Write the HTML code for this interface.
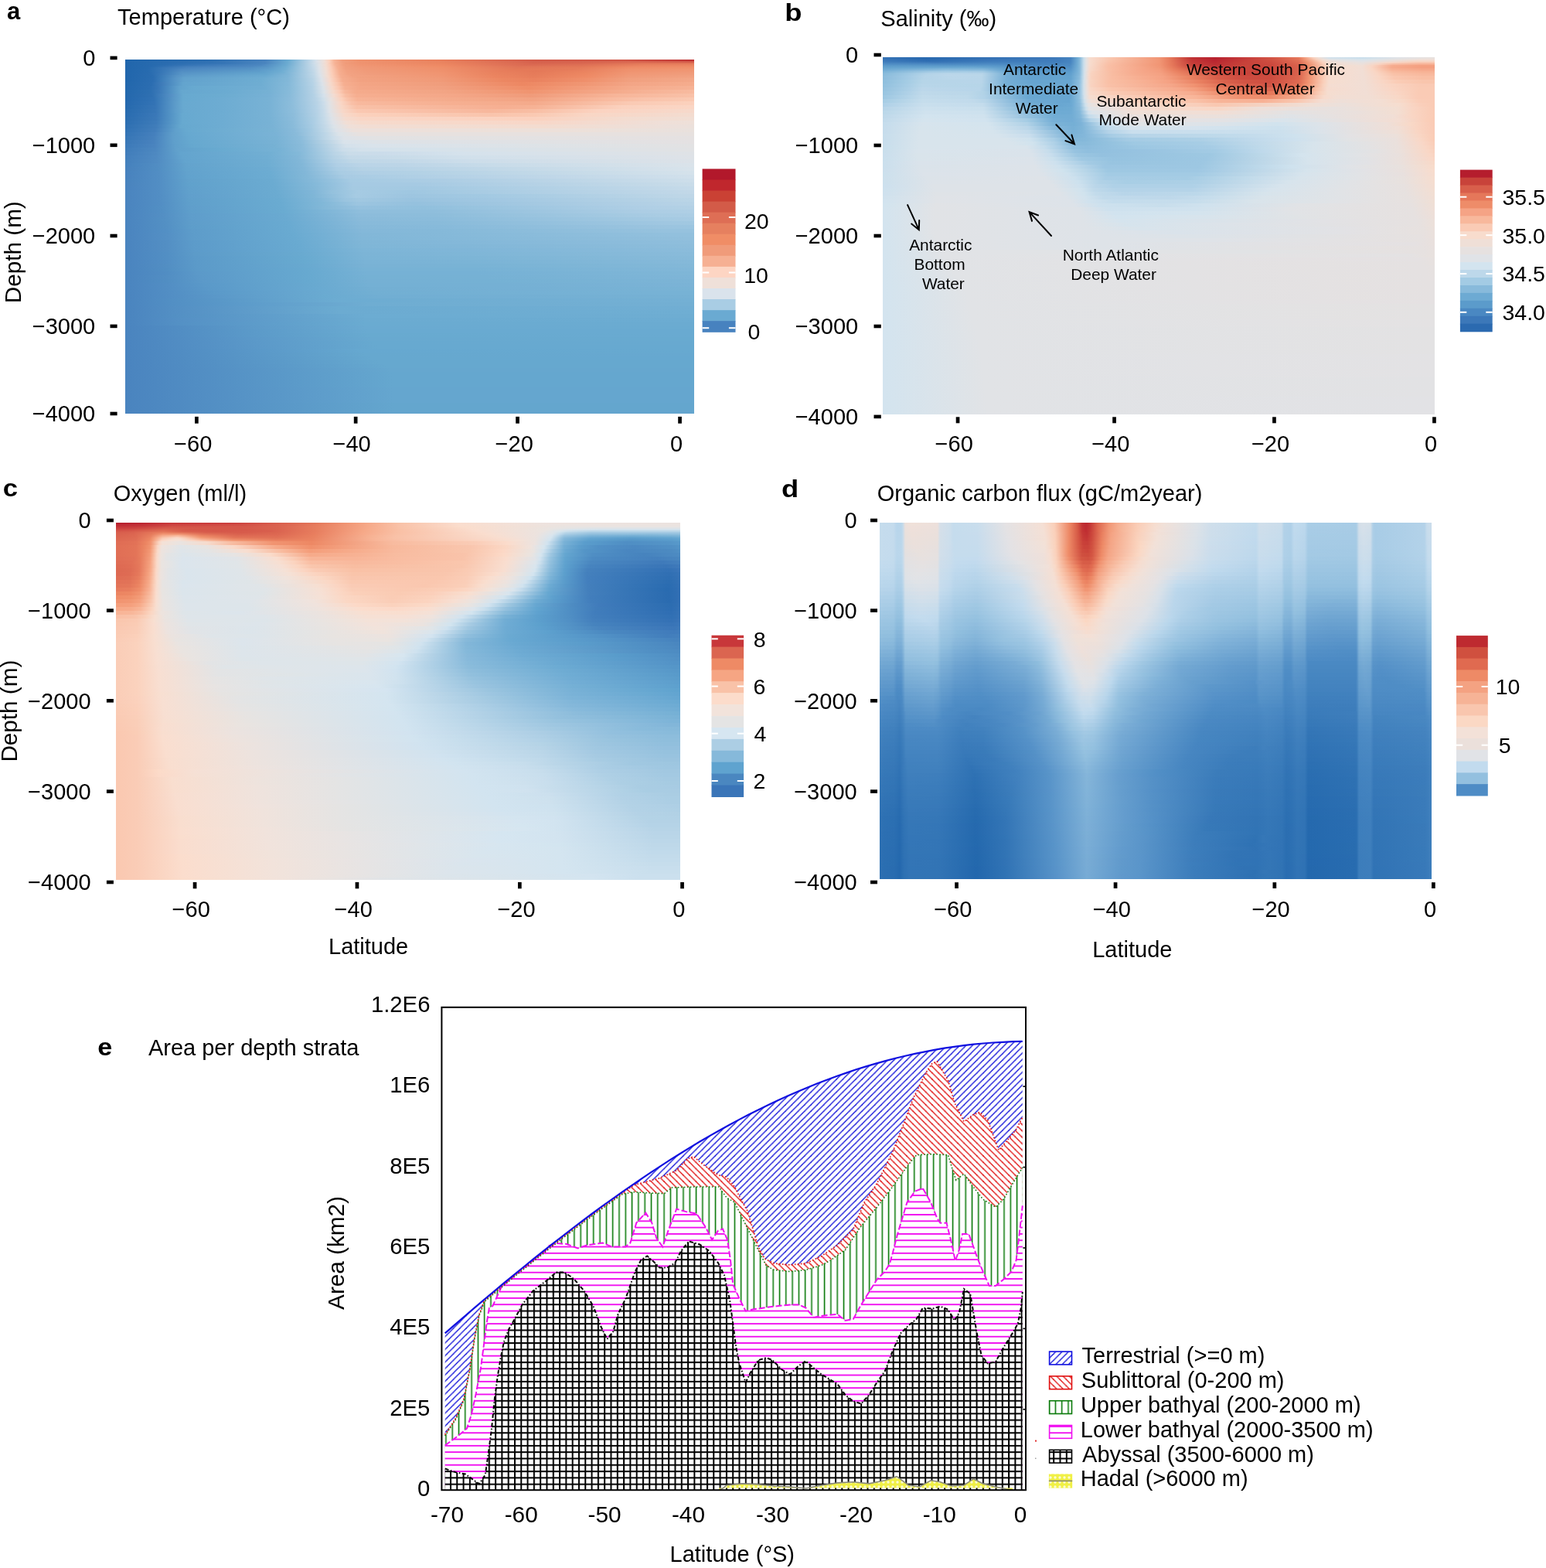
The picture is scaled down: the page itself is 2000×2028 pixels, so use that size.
<!DOCTYPE html>
<html><head><meta charset="utf-8"><title>Figure</title>
<style>
html,body{margin:0;padding:0;background:#fff}
body{width:2000px;height:2028px;position:relative;overflow:hidden;font-family:"Liberation Sans", Arial, Helvetica, sans-serif}
.hm{position:absolute}
.hm i{display:block;height:5px}
svg{position:absolute;left:0;top:0}
</style></head><body>
<div class="hm" style="left:162px;top:77px;width:736px;height:458px">
<i style="height:2px;background:linear-gradient(90deg,#2166ac 0,#2c6eb1 105px,#4782be 181px,#6aabd1 211px,#b7d3e6 237px,#d3e1eb 246px,#eddfd9 257px,#fbd1bd 264px,#f7b599 270px,#f19e7d 281px,#ef926e 303px,#e9805d 406px,#d35c4a 531px,#d15747 646px,#c03435 735px)"></i>
<i style="height:2px;background:linear-gradient(90deg,#2166ac 0,#2f70b2 113px,#4883be 181px,#69aad1 210px,#bcd5e7 239px,#dce2e9 249px,#f0ded6 258px,#fbd1bd 264px,#f7b599 270px,#f19e7d 281px,#ef936f 302px,#ea835f 407px,#d5604c 529px,#d6624d 600px,#d9654f 653px,#d25747 735px)"></i>
<i style="height:2px;background:linear-gradient(90deg,#2166ac 0,#3675b6 127px,#4a85bf 181px,#6cabd1 210px,#cfdeea 245px,#e3e1e2 253px,#f6d9cb 261px,#fac7b0 266px,#f6b092 272px,#f09b79 285px,#ef9370 305px,#eb8560 411px,#d8654f 529px,#da6851 591px,#e27658 670px,#e27557 735px)"></i>
<i style="height:2px;background:linear-gradient(90deg,#2166ac 0,#286baf 42px,#3675b6 87px,#4b86c0 175px,#6aaad1 208px,#c9dce9 244px,#dfe2e6 251px,#f1ddd3 259px,#fbceba 265px,#f7b599 271px,#f19f7e 282px,#f09572 304px,#ed8863 412px,#db6a52 518px,#de7055 591px,#e9825f 676px,#ea8360 735px)"></i>
<i style="height:2px;background:linear-gradient(90deg,#2166ac 0,#276aaf 33px,#407cba 78px,#4d88c1 162px,#5694c6 184px,#6eadd2 208px,#c8dbe9 244px,#dee2e7 251px,#f2dcd1 260px,#fbccb7 266px,#f6af91 274px,#f19e7d 285px,#f09775 307px,#ef8c66 410px,#df7256 509px,#e27657 590px,#ed8763 659px,#ee8b66 735px)"></i>
<i style="height:2px;background:linear-gradient(90deg,#2166ac 0,#266aae 29px,#3776b6 49px,#4984bf 79px,#528fc4 159px,#5c9ac9 185px,#6faed3 207px,#c6dae9 244px,#dde2e8 251px,#f2ddd3 260px,#fbceba 266px,#f6ae90 275px,#f19f7f 285px,#f09977 309px,#ef8f6a 409px,#e27657 507px,#e57b5a 588px,#ef8d68 653px,#ef916c 735px)"></i>
<i style="height:2px;background:linear-gradient(90deg,#2166ac 0,#276aaf 29px,#3474b5 45px,#4d88c1 73px,#5795c7 164px,#61a1cd 189px,#72afd3 207px,#c5d9e8 244px,#dce2e8 251px,#f1ddd4 260px,#fbccb6 267px,#f5ae8f 276px,#f1a080 286px,#f09a78 310px,#ef906c 410px,#e47958 504px,#e57b5a 578px,#ef916d 651px,#f09571 735px)"></i>
<i style="height:2px;background:linear-gradient(90deg,#2166ac 0,#276baf 30px,#3575b5 45px,#518dc3 73px,#5d9cca 173px,#6dacd2 201px,#88bbda 217px,#c3d9e8 244px,#dbe2e9 251px,#f0ded5 260px,#fbcdb8 267px,#f5ad8f 277px,#f2a181 287px,#f09b7a 312px,#ef926e 409px,#e87e5c 484px,#e47858 532px,#ea825f 593px,#ef9370 654px,#f09775 735px)"></i>
<i style="height:2px;background:linear-gradient(90deg,#2166ac 0,#286baf 31px,#3474b5 44px,#5592c5 73px,#61a2cd 179px,#74b0d4 205px,#bed6e7 243px,#dae2ea 251px,#f0ded6 260px,#fbcfba 267px,#f6ae90 277px,#f2a282 287px,#f09c7b 312px,#f09470 409px,#e9815e 478px,#e57a59 530px,#eb8560 594px,#f09673 654px,#f09a79 735px)"></i>
<i style="height:2px;background:linear-gradient(90deg,#2166ac 0,#296cb0 33px,#3a78b7 47px,#5997c8 75px,#66a7cf 182px,#7eb5d7 210px,#c1d8e8 244px,#dbe2e9 252px,#f1ddd3 261px,#fbccb7 268px,#f5ad8f 278px,#f2a383 288px,#f09d7d 314px,#f09572 409px,#ea835f 476px,#e67b5a 529px,#ed8762 595px,#f09876 654px,#f09d7c 735px)"></i>
<i style="height:2px;background:linear-gradient(90deg,#2166ac 0,#2a6cb0 35px,#5794c6 68px,#5d9cca 79px,#6aaad1 182px,#81b7d8 211px,#bfd7e7 244px,#dae3ea 252px,#f1ded4 261px,#fbceb9 268px,#f5ad8f 279px,#f2a282 293px,#f09673 410px,#eb8460 478px,#e67d5b 528px,#ee8964 596px,#f09a78 652px,#f1a080 735px)"></i>
<i style="height:2px;background:linear-gradient(90deg,#2166ac 0,#2a6db0 36px,#5794c6 66px,#60a0cc 76px,#6dacd2 179px,#81b7d8 210px,#bed6e7 244px,#dbe2e9 253px,#f4dbce 263px,#fbccb7 269px,#f5ac8e 280px,#f1a180 301px,#f09876 409px,#ec8561 479px,#e87e5c 528px,#ef8c67 598px,#f09c7b 651px,#f2a383 735px)"></i>
<i style="background:linear-gradient(90deg,#2166ac 0,#2b6db1 36px,#5795c7 65px,#62a2cd 76px,#6eadd2 176px,#83b8d8 211px,#b9d4e6 243px,#dce2e9 254px,#f7d8ca 265px,#fac7b0 272px,#f5ad8f 281px,#f2a282 303px,#f09a78 409px,#ec8762 489px,#ea825f 529px,#ef8f6b 594px,#f1a07f 652px,#f3a788 735px)"></i>
<i style="background:linear-gradient(90deg,#2267ac 0,#2b6db1 34px,#3e7bb9 47px,#63a4ce 75px,#6fadd2 176px,#84b9d9 211px,#b7d3e6 243px,#dbe2e9 255px,#f6d9ca 266px,#fac7b0 274px,#f6ae90 283px,#f3a585 305px,#f09d7c 410px,#ed8762 514px,#f09673 593px,#f3a586 655px,#f5ac8d 735px)"></i>
<i style="background:linear-gradient(90deg,#2367ad 0,#2b6db1 32px,#3675b6 42px,#61a2cd 70px,#67a9d0 87px,#71aed3 179px,#86bad9 212px,#b3d1e5 242px,#dae2e9 256px,#f7d8c9 268px,#fac7b0 276px,#f6b194 284px,#f4a788 303px,#f1a080 412px,#ef8d68 522px,#f5ab8c 657px,#f6b295 735px)"></i>
<i style="background:linear-gradient(90deg,#2368ad 0,#2d6fb1 33px,#3b79b8 44px,#66a7cf 73px,#6babd1 131px,#76b1d4 186px,#88bbda 213px,#b4d1e5 243px,#dae2e9 257px,#f5dacc 269px,#fbcbb6 277px,#f7b89d 284px,#f5ab8c 298px,#f2a484 415px,#f09470 524px,#f6b295 672px,#f8ba9f 735px)"></i>
<i style="background:linear-gradient(90deg,#2468ad 0,#2f70b2 35px,#5490c5 59px,#67a9d0 75px,#6cacd1 128px,#77b1d5 186px,#89bbda 213px,#b4d1e5 244px,#d5e1eb 257px,#f3dcd1 270px,#fbcdb8 279px,#f8bea4 285px,#f6ae90 299px,#f4a788 421px,#f09b7a 525px,#f7b599 636px,#f9c1a8 735px)"></i>
<i style="background:linear-gradient(90deg,#2468ae 0,#3172b4 37px,#5896c7 62px,#67a9d0 75px,#6dacd2 124px,#78b2d5 186px,#8bbcdb 214px,#b8d3e6 247px,#d0dfea 257px,#e7e1df 266px,#fbd1bd 280px,#f9c2aa 287px,#f7b396 300px,#f4aa8b 434px,#f2a383 527px,#f8b99e 620px,#f9c2aa 669px,#fac9b2 735px)"></i>
<i style="background:linear-gradient(90deg,#2569ae 0,#3373b5 38px,#5a99c8 63px,#68a9d0 75px,#6dacd2 124px,#78b2d5 186px,#8cbddb 215px,#b8d3e6 248px,#ccddea 257px,#e0e2e5 264px,#f9d6c6 279px,#f9c0a7 293px,#f8b99e 302px,#f6af91 425px,#f4aa8b 528px,#facab4 654px,#fbd1bd 735px)"></i>
<i style="background:linear-gradient(90deg,#266aae 0,#3675b6 39px,#5d9cca 65px,#68a9d0 75px,#6dacd2 124px,#78b2d5 186px,#8dbddb 216px,#b5d2e6 247px,#cadce9 257px,#dee2e6 264px,#f8d7c7 280px,#f9c1a8 299px,#f6af92 486px,#f6b295 530px,#fbd1be 642px,#fad6c5 735px)"></i>
<i style="background:linear-gradient(90deg,#286baf 0,#3776b6 39px,#5e9ecb 66px,#68a9d0 76px,#6dacd2 125px,#78b2d5 186px,#8ebedc 218px,#b6d2e6 248px,#c8dbe9 257px,#dde2e8 264px,#f7d8c9 281px,#fac8b2 300px,#f7b79c 472px,#f8bea4 529px,#fbd3c1 612px,#f6d9cb 735px)"></i>
<i style="background:linear-gradient(90deg,#296cb0 0,#3a78b8 40px,#67a9d0 74px,#6dacd2 122px,#78b2d5 186px,#8dbddb 218px,#b3d1e5 247px,#c9dce9 258px,#dee2e7 266px,#f7d9ca 284px,#fbd1bd 303px,#f9c4ac 474px,#fac9b2 529px,#f9d6c5 597px,#f3dcd0 735px)"></i>
<i style="background:linear-gradient(90deg,#2b6db0 0,#3b79b8 40px,#67a9d0 74px,#6dacd2 122px,#78b2d5 187px,#8bbcdb 217px,#aecfe4 245px,#c7dbe9 258px,#dde2e8 267px,#f4dbcf 285px,#f9d6c6 305px,#fbd1be 526px,#f3dcd0 646px,#f1ded4 735px)"></i>
<i style="background:linear-gradient(90deg,#2c6eb1 0,#3d7bb9 40px,#67a9d0 74px,#6dacd2 122px,#78b2d5 188px,#89bbda 216px,#abcde4 243px,#c7dbe9 259px,#dce2e9 268px,#f1ded5 286px,#f6dacc 305px,#f8d7c8 534px,#efdfd8 694px,#eee0d9 735px)"></i>
<i style="background:linear-gradient(90deg,#2f70b2 0,#407dba 40px,#66a8cf 72px,#6dacd2 122px,#79b2d5 190px,#89bbda 217px,#a5cae2 240px,#c4d9e8 259px,#dbe3e9 270px,#efdfd8 290px,#f2ddd3 316px,#f3dcd0 541px,#ece0db 715px,#ebe0db 735px)"></i>
<i style="background:linear-gradient(90deg,#3172b4 0,#427ebb 39px,#60a0cc 65px,#67a9d0 79px,#79b3d5 192px,#88bada 218px,#a1c8e1 239px,#c5dae8 261px,#dce2e9 273px,#ece0db 295px,#ede0d9 567px,#e9e1dd 735px)"></i>
<i style="background:linear-gradient(90deg,#3474b5 0,#4580bd 38px,#5e9dca 61px,#66a8d0 79px,#7ab3d6 195px,#8abbda 222px,#bdd6e7 259px,#dbe3e9 276px,#e7e1df 302px,#e7e1df 604px,#e7e1df 735px)"></i>
<i style="background:linear-gradient(90deg,#3776b6 0,#4681bd 37px,#5f9ecb 62px,#66a8d0 82px,#79b3d5 196px,#8bbcdb 226px,#cddeea 270px,#dde2e8 283px,#e2e2e3 321px,#e5e1e1 735px)"></i>
<i style="background:linear-gradient(90deg,#3a78b7 0,#4882be 37px,#5f9fcb 63px,#66a8cf 84px,#78b2d5 196px,#8bbcdb 228px,#d9e3eb 283px,#dde2e7 328px,#e4e1e2 735px)"></i>
<i style="background:linear-gradient(90deg,#3c7ab9 0,#4a84bf 38px,#5f9fcb 64px,#66a8cf 87px,#76b1d4 193px,#89bbda 228px,#d4e1eb 285px,#d9e3eb 316px,#e2e2e3 735px)"></i>
<i style="background:linear-gradient(90deg,#3f7cba 0,#4c87c0 39px,#61a1cc 67px,#68aad0 119px,#77b2d5 200px,#8bbcdb 231px,#cbddea 281px,#d3e1eb 305px,#d5e2eb 367px,#e1e2e4 735px)"></i>
<i style="background:linear-gradient(90deg,#417dbb 0,#4e89c1 40px,#63a4ce 72px,#72afd3 187px,#84b9d9 226px,#b9d4e6 270px,#cadce9 289px,#cbdcea 333px,#d5e2ec 434px,#dfe2e6 735px)"></i>
<i style="background:linear-gradient(90deg,#437fbc 0,#4f8ac2 40px,#63a4ce 74px,#70aed3 184px,#82b7d8 224px,#b5d2e5 270px,#c4d9e8 290px,#c9dce9 362px,#d1e0eb 441px,#dde2e8 718px,#dee2e7 735px)"></i>
<i style="background:linear-gradient(90deg,#4480bc 0,#508bc2 41px,#63a4ce 77px,#6fadd2 184px,#82b7d8 227px,#b1d0e5 270px,#bfd7e7 294px,#c2d8e8 357px,#ccddea 442px,#dce2e8 735px)"></i>
<i style="background:linear-gradient(90deg,#4581bd 0,#518dc3 42px,#63a3cd 79px,#6eadd2 184px,#82b7d8 229px,#b0cfe5 274px,#bad4e7 304px,#bcd5e7 358px,#c7dbe9 469px,#dae3ea 735px)"></i>
<i style="background:linear-gradient(90deg,#4781bd 0,#518ec3 43px,#62a3cd 79px,#6dacd2 186px,#82b7d8 231px,#abcde4 274px,#b5d2e5 306px,#b7d3e6 361px,#d8e3eb 735px)"></i>
<i style="background:linear-gradient(90deg,#4782be 0,#528ec4 44px,#62a2cd 80px,#6cacd2 187px,#82b7d8 233px,#a9cce3 278px,#b0cfe5 309px,#b2d1e5 369px,#d5e2eb 735px)"></i>
<i style="background:linear-gradient(90deg,#4882be 0,#528ec4 44px,#61a2cd 80px,#6cacd2 189px,#83b8d8 236px,#a8cbe3 284px,#abcde4 317px,#c0d7e8 554px,#d1e0eb 735px)"></i>
<i style="background:linear-gradient(90deg,#4883be 0,#528ec4 44px,#61a1cc 81px,#6babd1 190px,#85b9d9 242px,#a6cbe3 292px,#accde4 405px,#cddeea 735px)"></i>
<i style="background:linear-gradient(90deg,#4983be 0,#528ec4 44px,#60a1cc 81px,#6babd1 192px,#84b9d9 245px,#a6cae3 295px,#a6cae3 376px,#c9dce9 735px)"></i>
<i style="background:linear-gradient(90deg,#4983bf 0,#528ec4 44px,#60a0cc 81px,#6babd1 194px,#83b8d8 245px,#a5cae2 294px,#a3c9e2 387px,#c5dae9 735px)"></i>
<i style="background:linear-gradient(90deg,#4a84bf 0,#528ec4 44px,#60a0cc 82px,#6babd1 196px,#80b6d8 244px,#94c1dd 267px,#a6cbe3 301px,#9fc7e1 367px,#b1d0e5 546px,#c2d8e8 735px)"></i>
<i style="background:linear-gradient(90deg,#4a84bf 0,#528ec4 45px,#609fcc 82px,#6babd1 198px,#7fb6d7 244px,#8dbddb 262px,#a6cbe3 298px,#9dc5e0 367px,#a2c9e2 461px,#bdd6e7 712px,#bed6e7 735px)"></i>
<i style="background:linear-gradient(90deg,#4a84bf 0,#528ec4 45px,#5f9fcb 82px,#6aabd1 200px,#81b7d8 252px,#9ac4df 284px,#a1c8e1 303px,#99c3df 372px,#a2c8e2 483px,#b9d4e6 716px,#bad5e7 735px)"></i>
<i style="background:linear-gradient(90deg,#4a84bf 0,#528ec4 46px,#5f9fcb 83px,#6aabd1 202px,#82b8d8 257px,#9cc5e0 300px,#95c1de 375px,#b6d2e6 711px,#b7d3e6 735px)"></i>
<i style="background:linear-gradient(90deg,#4a84bf 0,#528fc4 47px,#5f9ecb 83px,#6aabd1 204px,#87bad9 267px,#95c1de 303px,#91c0dd 387px,#b0cfe5 676px,#b3d1e5 735px)"></i>
<i style="background:linear-gradient(90deg,#4a84bf 0,#528fc4 48px,#5e9ecb 84px,#6aabd1 206px,#8fbedc 304px,#8fbedc 399px,#accde4 670px,#afcfe5 735px)"></i>
<i style="background:linear-gradient(90deg,#4a84bf 0,#538fc4 49px,#5e9dcb 84px,#6aaad1 207px,#8cbcdb 304px,#8dbddb 403px,#a9cce3 687px,#abcde4 735px)"></i>
<i style="background:linear-gradient(90deg,#4a84bf 0,#5390c4 51px,#5e9dcb 85px,#6aaad1 209px,#8abbda 305px,#8bbcdb 405px,#a5cae2 700px,#a7cbe3 735px)"></i>
<i style="background:linear-gradient(90deg,#4a84bf 0,#5390c4 52px,#5e9dca 85px,#69aad1 210px,#88bada 305px,#89bbda 405px,#a0c7e1 699px,#a1c8e1 735px)"></i>
<i style="background:linear-gradient(90deg,#4a84bf 0,#5390c4 53px,#5d9dca 85px,#69aad1 212px,#86b9d9 305px,#87bada 405px,#9bc4df 697px,#9bc5e0 735px)"></i>
<i style="background:linear-gradient(90deg,#4a84bf 0,#5390c5 54px,#5d9cca 86px,#69aad1 213px,#84b8d9 306px,#85b9d9 407px,#96c2de 696px,#96c2de 735px)"></i>
<i style="background:linear-gradient(90deg,#4a84bf 0,#5490c5 55px,#5d9cca 87px,#69aad1 216px,#82b7d8 306px,#85b9d9 417px,#92c0dd 705px,#92c0dd 735px)"></i>
<i style="background:linear-gradient(90deg,#4a84bf 0,#5490c5 55px,#5d9cca 87px,#69aad1 219px,#81b7d8 306px,#85b9d9 436px,#91bfdc 725px,#91bfdc 735px)"></i>
<i style="background:linear-gradient(90deg,#4a84bf 0,#538fc4 54px,#5c9bca 87px,#69aad1 222px,#80b6d7 307px,#84b8d9 445px,#8fbedc 735px)"></i>
<i style="background:linear-gradient(90deg,#4a84bf 0,#538fc4 54px,#5c9bca 88px,#69aad1 225px,#7fb6d7 307px,#82b7d8 446px,#8dbddb 735px)"></i>
<i style="background:linear-gradient(90deg,#4a84bf 0,#538fc4 54px,#5c9bca 89px,#69aad1 227px,#7db5d7 308px,#80b6d8 448px,#8bbcdb 735px)"></i>
<i style="background:linear-gradient(90deg,#4a84bf 0,#528fc4 54px,#5c9bc9 90px,#69aad0 229px,#7cb4d6 308px,#7fb6d7 449px,#89bbda 735px)"></i>
<i style="background:linear-gradient(90deg,#4a84bf 0,#528fc4 54px,#5b9ac9 90px,#68aad0 231px,#7bb4d6 309px,#7db5d6 450px,#87bad9 735px)"></i>
<i style="background:linear-gradient(90deg,#4a84bf 0,#528ec4 53px,#5b9ac9 91px,#68aad0 233px,#7ab3d6 310px,#7bb4d6 451px,#85b9d9 735px)"></i>
<i style="background:linear-gradient(90deg,#4a84bf 0,#528ec3 53px,#5b9ac9 92px,#68a9d0 234px,#79b2d5 310px,#79b3d5 452px,#83b8d8 735px)"></i>
<i style="background:linear-gradient(90deg,#4a84bf 0,#518ec3 53px,#5b9ac9 93px,#67a9d0 235px,#77b2d5 311px,#77b2d5 453px,#81b7d8 735px)"></i>
<i style="background:linear-gradient(90deg,#4a84bf 0,#518dc3 53px,#5b99c9 94px,#67a9d0 236px,#76b1d5 312px,#76b1d5 457px,#7fb6d7 735px)"></i>
<i style="background:linear-gradient(90deg,#4a84bf 0,#528ec3 54px,#5b99c9 97px,#67a9d0 236px,#75b1d4 313px,#76b1d4 466px,#7eb5d7 735px)"></i>
<i style="background:linear-gradient(90deg,#4a84bf 0,#518ec3 54px,#5b99c9 99px,#67a9d0 238px,#75b0d4 313px,#75b1d4 478px,#7cb4d6 735px)"></i>
<i style="background:linear-gradient(90deg,#4a84bf 0,#528ec4 55px,#5a99c9 102px,#68a9d0 243px,#74b0d4 315px,#75b0d4 495px,#7bb3d6 735px)"></i>
<i style="background:linear-gradient(90deg,#4a84bf 0,#528ec4 56px,#5a99c9 107px,#69aad1 251px,#73afd3 318px,#75b0d4 523px,#79b3d5 735px)"></i>
<i style="background:linear-gradient(90deg,#4a84bf 0,#528ec4 57px,#5a99c9 114px,#6aaad1 256px,#72afd3 321px,#77b2d5 675px,#77b2d5 735px)"></i>
<i style="background:linear-gradient(90deg,#4a84bf 0,#528ec4 58px,#5b99c9 124px,#6aabd1 261px,#71aed3 328px,#76b1d4 735px)"></i>
<i style="background:linear-gradient(90deg,#4a84bf 0,#528fc4 59px,#5b9ac9 139px,#6cacd2 272px,#6fadd2 378px,#74b0d4 735px)"></i>
<i style="background:linear-gradient(90deg,#4a84bf 0,#528fc4 60px,#5c9bca 153px,#6fadd2 315px,#73afd3 735px)"></i>
<i style="background:linear-gradient(90deg,#4a84bf 0,#538fc4 62px,#6babd1 274px,#71aed3 735px)"></i>
<i style="background:linear-gradient(90deg,#4a84bf 0,#538fc4 63px,#6cabd1 278px,#6faed3 735px)"></i>
<i style="background:linear-gradient(90deg,#4a84bf 0,#5390c4 66px,#6cacd2 311px,#6eadd2 735px)"></i>
<i style="background:linear-gradient(90deg,#4a84bf 0,#5490c5 68px,#6babd1 310px,#6cacd2 735px)"></i>
<i style="background:linear-gradient(90deg,#4a84bf 0,#5491c5 72px,#6aabd1 310px,#6babd1 735px)"></i>
<i style="background:linear-gradient(90deg,#4a84bf 0,#5c9ac9 163px,#6aaad1 311px,#6aabd1 735px)"></i>
<i style="background:linear-gradient(90deg,#4a84bf 0,#5b9ac9 165px,#69aad1 313px,#69aad1 735px)"></i>
<i style="background:linear-gradient(90deg,#4a84bf 0,#5b9ac9 166px,#68aad0 316px,#69aad1 735px)"></i>
<i style="background:linear-gradient(90deg,#4a84bf 0,#5b99c9 168px,#68a9d0 319px,#68aad0 735px)"></i>
<i style="background:linear-gradient(90deg,#4a84bf 0,#5b99c9 171px,#67a9d0 322px,#68a9d0 735px)"></i>
<i style="background:linear-gradient(90deg,#4a84bf 0,#5b99c9 174px,#67a9d0 326px,#67a9d0 735px)"></i>
<i style="background:linear-gradient(90deg,#4a84bf 0,#66a8d0 305px,#67a9d0 735px)"></i>
<i style="background:linear-gradient(90deg,#4a84bf 0,#66a8cf 311px,#67a8d0 735px)"></i>
<i style="background:linear-gradient(90deg,#4a84bf 0,#66a8cf 319px,#66a8d0 735px)"></i>
<i style="background:linear-gradient(90deg,#4a84bf 0,#66a8cf 328px,#66a8cf 735px)"></i>
<i style="background:linear-gradient(90deg,#4a84bf 0,#66a8cf 338px,#66a8cf 735px)"></i>
<i style="background:linear-gradient(90deg,#4a84bf 0,#66a7cf 344px,#66a7cf 735px)"></i>
<i style="background:linear-gradient(90deg,#4a84bf 0,#65a7cf 345px,#65a7cf 735px)"></i>
<i style="background:linear-gradient(90deg,#4a84bf 0,#65a7cf 346px,#65a7cf 735px)"></i>
<i style="background:linear-gradient(90deg,#4a84bf 0,#65a7cf 346px,#65a7cf 735px)"></i>
<i style="background:linear-gradient(90deg,#4a84bf 0,#65a7cf 346px,#65a7cf 735px)"></i>
<i style="background:linear-gradient(90deg,#4a84bf 0,#65a6cf 346px,#65a6cf 735px)"></i>
<i style="background:linear-gradient(90deg,#4a84bf 0,#65a6cf 347px,#65a6cf 735px)"></i>
<i style="background:linear-gradient(90deg,#4a84bf 0,#65a6cf 347px,#65a6cf 735px)"></i>
<i style="background:linear-gradient(90deg,#4a84bf 0,#65a6cf 347px,#65a6cf 735px)"></i>
<i style="background:linear-gradient(90deg,#4a84bf 0,#64a6ce 348px,#64a6ce 735px)"></i>
<i style="background:linear-gradient(90deg,#4a84bf 0,#64a6ce 348px,#64a6ce 735px)"></i>
<i style="height:4px;background:linear-gradient(90deg,#4a84bf 0,#64a5ce 348px,#64a5ce 735px)"></i>
</div>
<div class="hm" style="left:1142px;top:74px;width:714px;height:462px">
<i style="height:2px;background:linear-gradient(90deg,#3573b5 0,#2969af 53px,#316fb3 111px,#3673b6 160px,#3c78b9 218px,#4683bf 243px,#6fabd3 252px,#87b9db 255px,#c9deeb 260px,#e1e2e4 263px,#f7dcce 268px,#f9c4ac 297px,#f19675 358px,#e77b5d 371px,#c64039 394px,#bf3134 400px,#b7212e 430px,#d35545 504px,#e5785b 538px,#f09473 544px,#f9d0bc 557px,#f0ded5 564px,#d3e1eb 577px,#cadfec 621px,#e0e2e6 667px,#e8e1de 703px,#e8e1de 713px)"></i>
<i style="height:2px;background:linear-gradient(90deg,#3875b7 0,#2a6ab0 56px,#3370b4 106px,#3975b7 150px,#3f7bbb 227px,#4683bf 243px,#70abd3 252px,#87b9db 255px,#c9deeb 260px,#e1e2e4 263px,#f7dcce 268px,#f9c4ac 295px,#f19675 358px,#e77b5d 371px,#c64039 395px,#c13435 401px,#b8232f 430px,#d25545 507px,#e37358 538px,#f19574 546px,#f8d0bc 561px,#eedfd7 570px,#e0e2e5 581px,#d6e3eb 621px,#efded6 696px,#efded6 713px)"></i>
<i style="height:2px;background:linear-gradient(90deg,#3d7aba 0,#2f6eb2 59px,#3d7aba 144px,#407dbc 229px,#4784c0 243px,#70abd4 252px,#87b9db 255px,#c9deeb 260px,#e1e2e4 263px,#f7dcce 268px,#f9c4ab 293px,#f19675 358px,#e67a5c 372px,#c33937 400px,#ba2630 429px,#c74139 472px,#cf4f41 504px,#e06e55 538px,#f09372 548px,#f9ceb9 565px,#f1ded4 574px,#e8e1de 590px,#e0e2e6 622px,#f6d8c8 688px,#f6d7c8 713px)"></i>
<i style="height:2px;background:linear-gradient(90deg,#4583bf 0,#3c79b9 68px,#4482be 141px,#427fbd 226px,#4886c1 243px,#71acd4 252px,#87badb 255px,#c9deeb 260px,#e1e2e4 263px,#f7dccd 268px,#f9c2aa 292px,#f19675 358px,#e77b5d 372px,#c53c38 400px,#bb2a31 429px,#c74039 466px,#cd4b3f 503px,#de6a52 538px,#f09372 550px,#f9d1bd 569px,#f3ded3 577px,#e6e1e0 621px,#f6d7c8 653px,#f9c7b0 692px,#f9c7b0 713px)"></i>
<i style="height:2px;background:linear-gradient(90deg,#508ec5 0,#4c8ac3 82px,#4e8cc4 140px,#4583bf 211px,#4b89c2 243px,#72acd4 252px,#87badb 255px,#c9deeb 260px,#e1e2e4 263px,#f7dccd 268px,#f9c1a8 291px,#f19473 359px,#e5785a 374px,#c63f39 400px,#bd2e33 430px,#c74139 465px,#cc493e 503px,#dc664f 538px,#f09270 551px,#f9d1bd 571px,#f5ddd0 578px,#ebe0db 620px,#f7d5c4 641px,#f8bda4 660px,#f7b195 695px,#f7b195 713px)"></i>
<i style="height:2px;background:linear-gradient(90deg,#5a99ca 0,#5998ca 136px,#4a88c2 199px,#4c8ac3 242px,#6daad3 251px,#88badb 255px,#c9deeb 260px,#e2e2e4 263px,#f7dbcd 268px,#f9c0a6 291px,#f19574 359px,#e6795c 374px,#c9443b 400px,#c03234 430px,#c8433a 465px,#ca473c 502px,#da634d 538px,#f09170 552px,#f9cfbb 572px,#f7dccd 578px,#f0dfd6 620px,#f8d5c4 634px,#f6ac8f 659px,#f4a081 696px,#f4a081 713px)"></i>
<i style="height:2px;background:linear-gradient(90deg,#62a1ce 0,#6aa7d1 116px,#65a3cf 137px,#4e8dc4 193px,#5190c6 243px,#74aed5 252px,#88badb 255px,#cadeeb 260px,#e2e2e4 263px,#f7dacb 268px,#f9bfa6 291px,#f5a587 336px,#f19776 359px,#e87d5e 374px,#ce4d40 400px,#c33936 430px,#c8433a 469px,#ca463c 502px,#d9624d 538px,#ef906e 552px,#faceb9 572px,#f8dccd 579px,#f1ded5 620px,#f9d6c5 632px,#f6aa8c 659px,#f49f80 697px,#f49f80 713px)"></i>
<i style="height:2px;background:linear-gradient(90deg,#6aa7d1 0,#7db4d8 82px,#7bb2d7 130px,#5d9dcc 164px,#5291c6 196px,#5594c8 243px,#76afd6 252px,#88badb 255px,#cbdeeb 260px,#e3e2e3 263px,#f7d9ca 268px,#f9bfa5 292px,#f6a78a 332px,#f29a79 359px,#e98060 375px,#d35645 402px,#c63f39 431px,#ca463c 502px,#d9624d 538px,#ef906e 552px,#faceb9 572px,#f8dccd 579px,#f1ded5 620px,#f9d7c5 633px,#f7af92 659px,#f5a587 698px,#f5a587 713px)"></i>
<i style="height:2px;background:linear-gradient(90deg,#73add5 0,#87b9db 41px,#93c1df 82px,#90bfde 129px,#66a4d0 160px,#5696c8 194px,#5998ca 243px,#77b0d6 252px,#89bbdb 255px,#cbdeeb 260px,#e3e2e3 263px,#f8d8c8 268px,#f9bfa5 292px,#f6a98c 329px,#f39c7d 359px,#ea8262 377px,#d65c49 406px,#c9453c 431px,#c9453b 501px,#d9624d 538px,#ef906e 552px,#faceb9 572px,#f8dccd 579px,#f1ded5 620px,#f9d6c4 635px,#f8b599 659px,#f6ab8e 698px,#f6ab8e 713px)"></i>
<i style="height:2px;background:linear-gradient(90deg,#7db4d8 0,#92c0de 34px,#a4cbe4 63px,#a8cde5 108px,#a5cbe4 129px,#6eaad3 160px,#5a9acb 192px,#5c9ccc 243px,#79b1d7 252px,#89bbdc 255px,#b1d2e7 258px,#d6e2ea 261px,#f6dacb 267px,#f9d2bf 271px,#f8bba1 297px,#f6aa8d 328px,#f39d7e 360px,#ea8262 381px,#cc4a3f 431px,#c8433a 477px,#ca473c 503px,#d9624d 538px,#ef906e 552px,#faceb9 572px,#f8dccd 579px,#f1ded5 621px,#f9d6c4 637px,#f8bba0 660px,#f7b295 698px,#f7b295 713px)"></i>
<i style="height:2px;background:linear-gradient(90deg,#86b9da 0,#9cc7e2 32px,#b0d1e7 57px,#b7d5e9 84px,#b4d3e8 129px,#74aed5 161px,#5e9dcc 191px,#609fcd 243px,#7fb5d8 253px,#8abbdc 255px,#b1d2e7 258px,#d7e2ea 261px,#f3dcd1 266px,#f9d3c1 269px,#f8bca1 297px,#f6ab8e 327px,#f4a081 360px,#ea8363 385px,#cf4f41 432px,#c8443b 468px,#ca473c 502px,#da624d 538px,#ef906f 552px,#faceba 572px,#f8dccd 579px,#f1ded5 621px,#f9d6c4 639px,#f9c0a6 661px,#f8b79b 698px,#f8b79b 713px)"></i>
<i style="height:2px;background:linear-gradient(90deg,#89bbdb 0,#9fc9e3 31px,#b4d4e8 55px,#bcd7ea 84px,#bad7e9 128px,#77b0d6 160px,#609fcd 191px,#62a1ce 243px,#81b6d9 253px,#8cbcdc 255px,#b2d3e7 258px,#d7e2ea 261px,#f3dcd0 266px,#f9d3c0 269px,#f8bca1 297px,#f6ac8f 328px,#f4a182 361px,#eb8464 388px,#d25444 433px,#ca463c 466px,#cb483d 502px,#da634e 538px,#f09270 552px,#f9cfbb 572px,#f7dccd 578px,#f1ded5 621px,#f9d6c5 640px,#f9c3aa 661px,#f8ba9f 698px,#f8ba9f 713px)"></i>
<i style="background:linear-gradient(90deg,#8cbcdc 0,#a2cae4 31px,#b5d4e8 53px,#bbd7ea 91px,#b9d6e9 128px,#76afd6 160px,#63a1ce 192px,#64a3cf 243px,#84b8da 253px,#8fbedd 255px,#b5d4e8 258px,#d8e2ea 261px,#f7d8c9 267px,#f9d1be 270px,#f9bda3 296px,#f7ae91 332px,#f5a284 363px,#ea8463 396px,#d65c49 435px,#cd4c40 466px,#cc4b3f 501px,#dc664f 538px,#ef916f 551px,#facfba 571px,#f7dcce 578px,#f1ded5 622px,#f9d6c4 643px,#fac7b0 662px,#f9bfa5 698px,#f9bfa5 713px)"></i>
<i style="background:linear-gradient(90deg,#8ebedd 0,#a4cce4 31px,#b6d5e8 52px,#b8d5e9 128px,#76afd6 159px,#66a4d0 194px,#68a6d1 243px,#8dbddd 254px,#9dc7e2 256px,#d1e1eb 260px,#eae0dc 264px,#f8d5c3 268px,#f9c0a6 292px,#f7ae91 343px,#f5a284 369px,#e87e5f 412px,#da634d 441px,#d25444 468px,#cf4f41 501px,#de6a52 538px,#f0916f 550px,#facfba 570px,#f6ddcf 577px,#f1ded5 623px,#f9d6c5 647px,#faccb6 666px,#f9c5ad 699px,#f9c5ad 713px)"></i>
<i style="background:linear-gradient(90deg,#91c0de 0,#a7cde5 31px,#b8d6e9 51px,#b6d5e8 128px,#76b0d6 159px,#69a7d1 195px,#6ba8d2 243px,#90bfde 254px,#a0c9e3 256px,#d2e1eb 260px,#efded6 265px,#f9d3c1 269px,#f9c1a8 292px,#f5a689 373px,#f09271 403px,#e37358 435px,#d85e4b 467px,#d35646 500px,#e27156 538px,#f09472 549px,#f9d2be 570px,#f5ddd1 577px,#f1ded5 624px,#f9d6c5 653px,#facab4 695px,#facab4 713px)"></i>
<i style="background:linear-gradient(90deg,#95c2df 0,#abcfe6 32px,#bcd7ea 51px,#b7d5e9 126px,#7bb2d7 161px,#69a6d1 191px,#69a7d1 243px,#91bfde 254px,#a0c9e3 256px,#d1e1eb 260px,#e9e0dd 264px,#f8d8c8 268px,#fac7af 293px,#f6a98c 385px,#f39d7d 405px,#ea8363 432px,#e06e54 467px,#dc6750 501px,#ea8463 539px,#f9c0a6 561px,#f6dccf 575px,#f1ded5 624px,#f9d6c5 658px,#facbb5 694px,#facbb5 713px)"></i>
<i style="background:linear-gradient(90deg,#98c4e0 0,#afd1e7 32px,#bfd9ea 51px,#bbd7e9 112px,#b2d3e7 130px,#7eb4d8 165px,#68a6d1 190px,#68a6d1 243px,#90bfde 254px,#accfe6 257px,#d0e1ec 260px,#e8e1de 264px,#f7dacb 268px,#faccb6 297px,#f6ac8f 401px,#eb8665 448px,#e5775a 489px,#e6795b 503px,#f09472 538px,#f9d2be 567px,#f5ddd0 576px,#f1ded5 625px,#f9d6c5 664px,#facbb5 693px,#facbb5 713px)"></i>
<i style="background:linear-gradient(90deg,#9dc7e2 0,#b4d4e8 33px,#c2dbeb 52px,#bed9ea 109px,#b2d3e8 131px,#69a7d1 188px,#67a5d0 243px,#8fbfdd 254px,#aacee5 257px,#d7e2eb 261px,#f5ddd0 268px,#fac9b3 330px,#f8b599 404px,#ef906f 463px,#ed8c6b 501px,#f6ad90 540px,#f7dbcd 571px,#f2ded4 587px,#f1ded4 630px,#f8d8c7 666px,#facbb6 692px,#facbb5 713px)"></i>
<i style="background:linear-gradient(90deg,#a5cce4 0,#c5ddec 52px,#c1daeb 116px,#b9d6e9 132px,#6da9d3 190px,#67a5d0 241px,#73aed5 247px,#91c0de 255px,#d0e1ec 261px,#e6e1e0 265px,#f0ded5 270px,#f9d1be 333px,#f9c2a9 405px,#f7b498 437px,#f7b195 492px,#f9c7b0 536px,#f4ddd2 567px,#eedfd8 592px,#f3ded3 646px,#f8d8c7 673px,#facdb8 693px,#facbb5 713px)"></i>
<i style="background:linear-gradient(90deg,#aed0e7 0,#c9dfed 53px,#c4dcec 129px,#73add5 191px,#69a7d1 230px,#6ca9d3 244px,#8dbddd 255px,#cfe1ec 262px,#e3e2e3 266px,#ece0da 276px,#f8d9c8 336px,#f9ceba 407px,#f9c7b0 432px,#f0dfd6 553px,#ebe0db 596px,#f6ddcf 668px,#facfbb 695px,#facbb5 713px)"></i>
<i style="background:linear-gradient(90deg,#b6d4e8 0,#cde1ee 54px,#c9dfed 130px,#7ab2d7 192px,#6ba9d2 224px,#6eabd3 244px,#89bbdb 255px,#cce0ec 263px,#e0e3e6 267px,#f4ddd2 326px,#f8d8c8 414px,#f8d7c6 432px,#eddfd9 488px,#e7e1df 583px,#f3ded2 666px,#f9d5c4 685px,#facbb5 713px)"></i>
<i style="background:linear-gradient(90deg,#bad7e9 0,#d0e2ee 55px,#cde1ee 130px,#7eb4d8 200px,#6eabd3 222px,#6fabd4 244px,#84b8da 255px,#d1e1ed 266px,#dbe3ea 271px,#efdfd7 325px,#f1ded5 438px,#e3e2e3 525px,#eae0dc 616px,#f3ded2 667px,#f9d5c3 686px,#facbb5 713px)"></i>
<i style="background:linear-gradient(90deg,#bed8ea 0,#d3e4ef 55px,#d0e2ee 131px,#8abbdc 198px,#72add5 221px,#72add4 245px,#84b8da 256px,#c3dbeb 267px,#d9e3eb 281px,#e8e0de 317px,#ebe0db 430px,#dfe3e7 529px,#f1ded5 661px,#f9d6c5 684px,#facbb5 713px)"></i>
<i style="background:linear-gradient(90deg,#c1daeb 0,#d5e4ee 53px,#d2e3ef 133px,#a5cce4 187px,#76afd6 220px,#73add5 245px,#7fb4d8 256px,#b2d3e8 269px,#d6e3ed 289px,#e5e1e2 322px,#e3e2e4 440px,#d9e4ec 519px,#e9e0dd 612px,#f4ddd2 668px,#facfba 702px,#facbb5 713px)"></i>
<i style="background:linear-gradient(90deg,#c4dcec 0,#d7e4ed 51px,#d4e4ee 137px,#b1d2e7 187px,#7cb3d7 220px,#75afd5 247px,#7db3d8 257px,#bed9ea 283px,#d4e3ed 299px,#e0e3e6 324px,#dce3e9 434px,#d1e3ee 510px,#dde3e9 567px,#eedfd8 653px,#f8d9c8 682px,#faccb7 710px,#facbb5 713px)"></i>
<i style="background:linear-gradient(90deg,#c5dcec 0,#d7e4ec 49px,#d5e4ee 139px,#bad6e9 188px,#87b9db 221px,#77b0d6 246px,#7fb5d8 258px,#bed9ea 290px,#d7e3ec 320px,#d6e3ed 391px,#cfe2ee 482px,#cde1ee 512px,#dbe3ea 563px,#f1ded5 667px,#f9d5c3 690px,#facbb6 713px)"></i>
<i style="background:linear-gradient(90deg,#c5dcec 0,#d8e4ec 48px,#d6e4ed 143px,#c1daeb 189px,#85b8da 233px,#7ab2d7 246px,#80b5d9 258px,#b4d3e8 293px,#c9deed 322px,#cadfed 481px,#cce0ed 517px,#dbe3ea 565px,#efdfd7 666px,#f9d5c3 693px,#facbb6 713px)"></i>
<i style="background:linear-gradient(90deg,#c6ddec 0,#d8e4ec 47px,#d7e4ed 149px,#c9deed 190px,#89badb 235px,#7db4d8 245px,#83b7da 260px,#a8cde5 297px,#b6d4e8 324px,#bed9ea 431px,#c4dcec 482px,#cfe2ee 535px,#e3e2e4 604px,#ece0da 665px,#f9d6c4 695px,#faccb6 713px)"></i>
<i style="background:linear-gradient(90deg,#c6ddec 0,#d8e4ec 47px,#d8e4ec 160px,#cfe2ee 191px,#a8cde5 222px,#81b6d9 244px,#86b9da 263px,#a4cbe4 316px,#add0e6 412px,#bfd9eb 475px,#cee1ee 535px,#e1e3e5 601px,#eae0dc 664px,#f9d7c6 696px,#faccb6 713px)"></i>
<i style="background:linear-gradient(90deg,#c7ddec 0,#d8e4ec 46px,#d8e4ec 167px,#d1e3ee 194px,#afd1e7 222px,#89bbdb 244px,#89bbdb 263px,#9fc9e3 325px,#a7cde5 412px,#bfd9ea 483px,#d7e4ec 558px,#e3e2e3 627px,#eae0dc 665px,#f9d7c7 698px,#faceb9 713px)"></i>
<i style="background:linear-gradient(90deg,#c7deec 0,#d8e4ec 46px,#d9e4ec 186px,#c6ddec 209px,#aacee6 229px,#90bfde 246px,#8dbddd 264px,#9cc7e2 331px,#a6cce5 424px,#bed9ea 486px,#d7e4ec 556px,#e3e2e3 630px,#eae0dc 667px,#f9d7c6 702px,#f9d0bc 713px)"></i>
<i style="background:linear-gradient(90deg,#c8deec 0,#d9e4ec 45px,#dae3eb 190px,#c7ddec 214px,#97c3e0 248px,#90bfde 265px,#99c4e1 349px,#a3cbe4 429px,#bfd9eb 491px,#d7e4ec 555px,#e3e2e3 639px,#ebe0db 670px,#f9d7c6 705px,#f9d2bf 713px)"></i>
<i style="background:linear-gradient(90deg,#c9deed 0,#d9e4eb 45px,#dae3eb 193px,#c9deed 217px,#9bc6e1 252px,#94c1df 283px,#9ec8e2 423px,#d4e4ee 542px,#e1e3e6 616px,#e9e0dd 668px,#f9d7c6 708px,#f9d4c2 713px)"></i>
<i style="background:linear-gradient(90deg,#c9dfed 0,#d9e4eb 46px,#dce3ea 193px,#cbe0ed 220px,#a0c9e3 257px,#96c3e0 298px,#9dc7e2 418px,#d6e4ed 550px,#e2e2e4 630px,#eae0dc 670px,#f9d7c7 711px,#f9d6c5 713px)"></i>
<i style="background:linear-gradient(90deg,#cadfed 0,#dae3eb 46px,#dce3ea 195px,#cee1ee 223px,#a4cbe4 265px,#98c4e0 296px,#9dc7e2 413px,#d6e4ed 550px,#e2e2e5 628px,#eae0dc 671px,#f8d9c8 713px)"></i>
<i style="background:linear-gradient(90deg,#cadfed 0,#dae3ea 47px,#dde3e9 197px,#cfe2ee 228px,#9cc6e2 287px,#9dc7e2 409px,#cfe2ee 529px,#e0e3e7 603px,#e8e1de 669px,#f8dbcb 713px)"></i>
<i style="background:linear-gradient(90deg,#cbdfed 0,#dbe3ea 49px,#dde3e9 200px,#d0e3ee 233px,#9ec8e2 291px,#9fc8e3 408px,#d6e4ed 549px,#e2e2e5 625px,#e9e0dd 673px,#f8dccd 713px)"></i>
<i style="background:linear-gradient(90deg,#cbe0ed 0,#dce3ea 53px,#dde3e9 204px,#cfe2ee 240px,#a3cbe4 291px,#a3cbe4 406px,#d7e4ed 543px,#e1e3e6 617px,#e8e0de 673px,#f7dcce 713px)"></i>
<i style="background:linear-gradient(90deg,#cce0ed 0,#dce3e9 57px,#dee3e8 208px,#cde1ee 248px,#a8cde5 288px,#a5cce4 394px,#c4dceb 479px,#d8e4ec 541px,#e1e3e6 615px,#e8e1de 674px,#f6ddcf 713px)"></i>
<i style="background:linear-gradient(90deg,#cce0ed 0,#dde3e9 64px,#dee3e8 215px,#cde1ee 253px,#b1d2e7 281px,#a8cee5 315px,#add0e6 409px,#d7e4ed 525px,#e1e3e6 605px,#e8e1de 674px,#f5ddd0 713px)"></i>
<i style="background:linear-gradient(90deg,#cce0ee 0,#dee3e8 66px,#dee3e8 220px,#cee1ee 256px,#bad6e9 275px,#afd1e7 299px,#afd1e7 400px,#d7e4ed 514px,#e1e3e6 601px,#e7e1df 675px,#f4ddd1 713px)"></i>
<i style="background:linear-gradient(90deg,#cde1ee 0,#dee3e8 67px,#dee3e8 224px,#d1e3ee 257px,#bfd9ea 273px,#b4d3e8 301px,#b4d3e8 399px,#d7e4ed 503px,#e1e3e6 595px,#e7e1df 676px,#f3ded2 713px)"></i>
<i style="background:linear-gradient(90deg,#cee1ee 0,#dfe3e7 69px,#dee3e8 229px,#d1e3ee 260px,#c2dbeb 276px,#b8d5e9 313px,#bcd8ea 406px,#d7e4ec 495px,#e1e3e6 594px,#e7e1df 678px,#f2ded3 713px)"></i>
<i style="background:linear-gradient(90deg,#d0e2ee 0,#e0e3e7 70px,#dde3e9 236px,#d2e3ee 262px,#c1daeb 286px,#bed8ea 370px,#c6ddec 422px,#d9e4eb 493px,#e1e3e6 597px,#e7e1df 681px,#f1ded4 713px)"></i>
<i style="background:linear-gradient(90deg,#d1e3ef 0,#e0e3e7 69px,#dde3e9 243px,#d0e2ee 267px,#c4dcec 299px,#c6ddec 403px,#d9e4eb 480px,#e1e3e6 590px,#e7e1df 684px,#f0dfd5 713px)"></i>
<i style="background:linear-gradient(90deg,#d2e4ef 0,#e1e3e6 68px,#dde3e9 248px,#cde1ee 282px,#c8deec 363px,#d0e2ee 418px,#e1e3e6 537px,#e6e1e0 683px,#efdfd6 713px)"></i>
<i style="background:linear-gradient(90deg,#d3e4ef 0,#e1e3e6 67px,#dee3e8 254px,#cee1ee 292px,#d0e2ee 403px,#e1e3e6 524px,#e6e1e0 686px,#efdfd7 713px)"></i>
<i style="background:linear-gradient(90deg,#d3e4ef 0,#e1e3e6 67px,#dee3e8 256px,#d1e3ef 300px,#d4e4ee 409px,#e1e3e6 534px,#e6e1e0 687px,#eedfd8 713px)"></i>
<i style="background:linear-gradient(90deg,#d3e4ef 0,#e1e3e6 67px,#dee3e8 258px,#d3e4ef 304px,#d8e4ec 426px,#e1e3e5 547px,#e6e1e0 689px,#eddfd9 713px)"></i>
<i style="background:linear-gradient(90deg,#d3e4ef 0,#e1e3e6 67px,#dee3e8 260px,#d5e4ee 308px,#dae3ea 433px,#e2e2e5 570px,#e6e1e0 692px,#ece0da 713px)"></i>
<i style="background:linear-gradient(90deg,#d3e4ef 0,#e1e3e6 67px,#dee3e8 264px,#d6e4ed 318px,#dde3e9 448px,#e6e1e0 692px,#ece0da 713px)"></i>
<i style="background:linear-gradient(90deg,#d3e4ef 0,#e1e3e6 67px,#dee3e8 269px,#d8e4ec 334px,#e2e2e5 593px,#e7e1df 698px,#ebe0db 713px)"></i>
<i style="background:linear-gradient(90deg,#d3e4ef 0,#e1e3e6 67px,#dee3e8 275px,#dae3eb 382px,#e2e2e5 593px,#e7e1df 700px,#eae0dc 713px)"></i>
<i style="background:linear-gradient(90deg,#d3e4ef 0,#e1e3e6 69px,#dee3e8 277px,#dce3e9 403px,#e6e1e0 696px,#eae0dc 713px)"></i>
<i style="background:linear-gradient(90deg,#d3e4ef 0,#e1e3e6 70px,#dee3e8 280px,#dfe3e8 430px,#e6e1e0 697px,#e9e0dd 713px)"></i>
<i style="background:linear-gradient(90deg,#d3e4ef 0,#e1e3e6 72px,#dee3e8 283px,#e5e1e2 689px,#e9e0dd 713px)"></i>
<i style="background:linear-gradient(90deg,#d3e4ef 0,#e1e3e6 74px,#dee3e8 288px,#e6e1e0 697px,#e8e0de 713px)"></i>
<i style="background:linear-gradient(90deg,#d3e4ef 0,#e1e3e6 76px,#e1e3e5 486px,#e6e1e0 701px,#e8e1de 713px)"></i>
<i style="background:linear-gradient(90deg,#d3e4ef 0,#e1e3e6 78px,#e4e2e3 679px,#e8e1de 713px)"></i>
<i style="background:linear-gradient(90deg,#d3e4ef 0,#e1e3e6 81px,#e5e1e2 693px,#e7e1df 713px)"></i>
<i style="background:linear-gradient(90deg,#d3e4ef 0,#e1e3e6 84px,#e5e1e1 697px,#e7e1df 713px)"></i>
<i style="background:linear-gradient(90deg,#d3e4ef 0,#e1e3e6 87px,#e5e1e1 700px,#e6e1e0 713px)"></i>
<i style="background:linear-gradient(90deg,#d3e4ef 0,#e1e3e6 91px,#e5e1e1 702px,#e6e1e0 713px)"></i>
<i style="background:linear-gradient(90deg,#d3e4ef 0,#e1e3e6 94px,#e5e1e1 703px,#e6e1e0 713px)"></i>
<i style="background:linear-gradient(90deg,#d3e4ef 0,#e1e3e6 97px,#e5e1e1 705px,#e6e1e1 713px)"></i>
<i style="background:linear-gradient(90deg,#d3e4ef 0,#e1e3e6 100px,#e5e1e1 707px,#e5e1e1 713px)"></i>
<i style="background:linear-gradient(90deg,#d3e4ef 0,#e1e3e6 103px,#e5e1e1 709px,#e5e1e1 713px)"></i>
<i style="background:linear-gradient(90deg,#d3e4ef 0,#e1e3e6 106px,#e5e1e1 711px,#e5e1e1 713px)"></i>
<i style="background:linear-gradient(90deg,#d3e4ef 0,#e1e3e6 109px,#e5e1e1 713px)"></i>
<i style="background:linear-gradient(90deg,#d3e4ef 0,#e1e3e6 110px,#e5e1e1 713px)"></i>
<i style="background:linear-gradient(90deg,#d3e4ef 0,#e1e3e6 111px,#e5e1e2 713px)"></i>
<i style="background:linear-gradient(90deg,#d3e4ef 0,#e1e3e6 112px,#e4e2e2 713px)"></i>
<i style="background:linear-gradient(90deg,#d3e4ef 0,#e1e3e6 113px,#e4e2e2 713px)"></i>
<i style="background:linear-gradient(90deg,#d3e4ef 0,#e1e3e6 114px,#e4e2e2 713px)"></i>
<i style="background:linear-gradient(90deg,#d3e4ef 0,#e1e3e6 115px,#e4e2e2 713px)"></i>
<i style="background:linear-gradient(90deg,#d3e4ef 0,#e1e3e6 116px,#e4e2e3 713px)"></i>
<i style="background:linear-gradient(90deg,#d3e4ef 0,#e1e3e6 118px,#e4e2e3 713px)"></i>
<i style="background:linear-gradient(90deg,#d3e4ef 0,#e1e3e6 119px,#e3e2e3 713px)"></i>
<i style="background:linear-gradient(90deg,#d3e4ef 0,#e1e3e6 121px,#e3e2e3 713px)"></i>
<i style="background:linear-gradient(90deg,#d3e4ef 0,#e1e3e6 122px,#e3e2e3 713px)"></i>
<i style="background:linear-gradient(90deg,#d3e4ef 0,#e1e3e6 124px,#e3e2e3 713px)"></i>
<i style="background:linear-gradient(90deg,#d3e4ef 0,#e1e3e6 125px,#e3e2e3 713px)"></i>
<i style="background:linear-gradient(90deg,#d3e4ef 0,#e1e3e6 125px,#e3e2e3 713px)"></i>
<i style="background:linear-gradient(90deg,#d3e4ef 0,#e1e3e6 126px,#e3e2e3 713px)"></i>
<i style="background:linear-gradient(90deg,#d3e4ef 0,#e1e3e6 127px,#e3e2e4 713px)"></i>
<i style="background:linear-gradient(90deg,#d3e4ef 0,#e1e3e6 128px,#e3e2e4 713px)"></i>
<i style="background:linear-gradient(90deg,#d3e4ef 0,#e1e3e6 129px,#e3e2e4 713px)"></i>
<i style="background:linear-gradient(90deg,#d3e4ef 0,#e1e3e6 129px,#e3e2e4 713px)"></i>
<i style="background:linear-gradient(90deg,#d3e4ef 0,#e1e3e6 130px,#e3e2e4 713px)"></i>
<i style="background:linear-gradient(90deg,#d3e4ef 0,#e1e3e6 130px,#e3e2e4 713px)"></i>
<i style="background:linear-gradient(90deg,#d3e4ef 0,#e1e3e6 131px,#e2e2e4 713px)"></i>
<i style="background:linear-gradient(90deg,#d3e4ef 0,#e1e3e6 131px,#e2e2e4 713px)"></i>
<i style="background:linear-gradient(90deg,#d3e4ef 0,#e1e3e6 132px,#e2e2e4 713px)"></i>
<i style="background:linear-gradient(90deg,#d3e4ef 0,#e1e3e6 132px,#e2e2e4 713px)"></i>
<i style="background:linear-gradient(90deg,#d3e4ef 0,#e1e3e6 133px,#e2e2e4 713px)"></i>
<i style="background:linear-gradient(90deg,#d3e4ef 0,#e1e3e6 133px,#e2e2e5 713px)"></i>
<i style="background:linear-gradient(90deg,#d3e4ef 0,#e1e3e6 134px,#e2e2e5 713px)"></i>
<i style="background:linear-gradient(90deg,#d3e4ef 0,#e1e3e6 134px,#e2e2e5 713px)"></i>
<i style="background:linear-gradient(90deg,#d3e4ef 0,#e1e3e6 135px,#e2e2e5 713px)"></i>
<i style="height:3px;background:linear-gradient(90deg,#d3e4ef 0,#e1e3e6 135px,#e2e2e5 713px)"></i>
</div>
<div class="hm" style="left:150px;top:676px;width:730px;height:462px">
<i style="height:2px;background:linear-gradient(90deg,#b71f2e 0,#bc2632 32px,#c8383a 67px,#cc403e 152px,#e4775a 258px,#f49d7b 309px,#f9c2a7 366px,#faddce 441px,#eee3de 546px,#ebe3df 729px)"></i>
<i style="height:2px;background:linear-gradient(90deg,#bd2833 0,#c22f36 33px,#cd4340 73px,#d14d44 162px,#dd6952 229px,#e87e5e 264px,#f6a988 326px,#f9c2a9 368px,#faddce 445px,#ece3df 563px,#ebe3df 729px)"></i>
<i style="height:2px;background:linear-gradient(90deg,#c43237 0,#c7383a 28px,#d24f45 72px,#d55649 169px,#db6450 213px,#e87f5f 262px,#f6a887 324px,#f9c2a8 367px,#fbddcc 445px,#e9e4e1 582px,#e9e4e1 729px)"></i>
<i style="height:2px;background:linear-gradient(90deg,#ca3d3d 0,#cc413f 23px,#d6584a 64px,#d55649 159px,#da634f 210px,#e87f5f 261px,#f7ac8c 329px,#f9c3a9 370px,#faddcd 455px,#e9e4e1 566px,#e0e4e7 617px,#e0e4e7 729px)"></i>
<i style="height:2px;background:linear-gradient(90deg,#d04943 0,#d24e45 22px,#db644f 62px,#d55749 95px,#d55749 166px,#da634f 210px,#e87e5e 259px,#f7ab8a 326px,#f9c1a7 368px,#faddce 461px,#eae4e0 558px,#d9e4ec 589px,#d2e2ec 629px,#d2e2ec 729px)"></i>
<i style="height:2px;background:linear-gradient(90deg,#d55649 0,#d75b4b 22px,#e17056 61px,#d85d4c 88px,#d55649 129px,#d85e4d 199px,#e77d5e 258px,#f6a887 320px,#f9c0a5 365px,#faddce 467px,#ebe4e0 552px,#d9e5ed 574px,#cbdfec 585px,#bad6e8 615px,#bad6e8 729px)"></i>
<i style="height:2px;background:linear-gradient(90deg,#d85e4d 0,#da624f 22px,#e5785b 50px,#e98262 62px,#d9604e 116px,#d75b4b 163px,#db6650 210px,#e87d5e 257px,#f6a887 318px,#f9bfa4 363px,#faddce 473px,#ece3df 547px,#dee5ea 566px,#cbe0ed 575px,#bad6e8 582px,#a3c9e2 614px,#a3c9e2 729px)"></i>
<i style="height:2px;background:linear-gradient(90deg,#d9614e 0,#dc6651 23px,#e67b5c 46px,#f29876 61px,#f09776 82px,#e27358 112px,#da624f 157px,#dd6852 209px,#e87e5e 256px,#f7aa8a 320px,#f9c0a5 362px,#fadecf 480px,#ece3df 545px,#dbe5ec 565px,#c5dcec 573px,#aacde4 581px,#90bedc 614px,#8bbcdb 692px,#90bfdd 729px)"></i>
<i style="height:2px;background:linear-gradient(90deg,#da634f 0,#dd6952 25px,#e87f5f 45px,#f6ac8d 60px,#f8ba9e 80px,#eb8664 110px,#de6a53 155px,#df6c54 209px,#e9805f 256px,#f7b192 328px,#f9c1a7 362px,#f9decf 487px,#ece3df 544px,#d8e5ee 564px,#bbd7e9 572px,#9bc5e0 580px,#7db4d8 614px,#75afd5 669px,#7db4d7 725px,#7eb5d8 729px)"></i>
<i style="height:2px;background:linear-gradient(90deg,#db6550 0,#de6b53 25px,#ea8261 44px,#f5a280 52px,#f9c0a6 60px,#f9d4c2 79px,#f9c3a9 90px,#f19773 110px,#e27358 154px,#e07056 208px,#e98160 255px,#f7b293 328px,#f9c1a7 360px,#f9ded0 495px,#ece3df 543px,#d6e5ef 563px,#8dbddc 580px,#6caad3 614px,#62a3cf 665px,#68a8d1 718px,#6dabd3 729px)"></i>
<i style="height:2px;background:linear-gradient(90deg,#dc6751 0,#df6d55 26px,#ec8763 44px,#f6a785 51px,#facfba 60px,#f7dfd2 76px,#f8ded0 83px,#f9c5ad 98px,#f6aa8a 111px,#ea8362 152px,#e4775a 207px,#ea8261 254px,#f8b496 331px,#f9c1a7 361px,#f9ded0 503px,#ece3df 543px,#d4e4ef 562px,#83b7d9 580px,#61a3cf 613px,#589aca 666px,#5ea0ce 718px,#61a4cf 729px)"></i>
<i style="height:2px;background:linear-gradient(90deg,#dd6952 0,#e06f56 26px,#ed8764 43px,#f29874 47px,#fbd7c5 59px,#f7e0d3 69px,#f2e2d9 82px,#fad4c1 100px,#f8bda2 117px,#f19774 153px,#ea8261 208px,#eb8461 253px,#f8b699 338px,#f9c0a6 367px,#fbd5c2 469px,#f6e1d5 520px,#ebe3df 543px,#d2e3ef 561px,#7fb5d8 580px,#5da0cd 611px,#5495c7 664px,#599bcb 716px,#5da0cd 729px)"></i>
<i style="background:linear-gradient(90deg,#df6c54 0,#e27257 26px,#ec8562 39px,#f1936f 45px,#fad8c6 56px,#f4e1d6 60px,#e9e4e1 83px,#f6dbcd 118px,#f8bea4 148px,#f19471 203px,#ed8864 253px,#f8bb9f 358px,#faccb6 464px,#fbdccc 507px,#ece3df 542px,#d2e3ef 558px,#78b1d6 580px,#5a9dcc 606px,#4f8ec4 661px,#5494c7 714px,#5899ca 729px)"></i>
<i style="background:linear-gradient(90deg,#e06e55 0,#e37458 26px,#ea8260 35px,#f19470 44px,#f7ae8e 48px,#fad8c7 54px,#efe3dd 59px,#e0e5e8 84px,#e7e4e2 116px,#fadaca 152px,#f6a989 208px,#f0906c 252px,#f8b99c 359px,#f9c6ae 460px,#fbd7c4 503px,#f0e3dc 536px,#d6e5ef 554px,#71add4 580px,#5a9ccb 601px,#5190c5 623px,#4b88c1 671px,#508fc4 719px,#5393c6 729px)"></i>
<i style="background:linear-gradient(90deg,#e06e55 0,#e37458 26px,#e98160 34px,#f29874 44px,#f7b293 48px,#fadbca 54px,#ede3de 59px,#dee5ea 84px,#e4e4e4 121px,#f8ded0 170px,#f8b99c 217px,#f49d7a 251px,#f7b091 323px,#f8ba9e 361px,#f9c6ad 458px,#fcd8c6 502px,#eae4e0 540px,#d2e3ef 553px,#9fc7e1 565px,#6aa9d2 581px,#5495c7 606px,#4986c0 663px,#4c8ac1 715px,#508fc4 729px)"></i>
<i style="background:linear-gradient(90deg,#e06e55 0,#e37458 26px,#e9805f 33px,#f39b78 44px,#f8b698 48px,#fad8c7 53px,#eee3dd 58px,#e4e4e4 66px,#dce5eb 88px,#e6e4e3 153px,#fadbca 200px,#f6aa8a 251px,#f7b294 315px,#f8bca0 362px,#f9c3aa 451px,#fcdac8 502px,#eae4e0 537px,#d5e5ef 550px,#a0c7e1 562px,#64a6d0 581px,#4f8ec4 617px,#4683be 684px,#4d8bc2 729px)"></i>
<i style="background:linear-gradient(90deg,#df6d55 0,#e27258 24px,#e67b5c 31px,#f49e7c 44px,#f8b99c 48px,#fadac9 53px,#ede3de 58px,#e3e4e5 66px,#dbe5ed 88px,#e1e4e7 157px,#f9ded0 208px,#facdb7 229px,#f8b598 252px,#f8b598 311px,#f9bda2 366px,#f9c3aa 449px,#faddce 505px,#e1e4e7 542px,#d2e3ef 549px,#9bc5e0 561px,#61a4cf 581px,#4c8ac2 617px,#4480bd 700px,#4986bf 729px)"></i>
<i style="background:linear-gradient(90deg,#de6b54 0,#e17056 21px,#e67b5c 31px,#f5a17f 44px,#f9c2a9 49px,#fadbca 53px,#eae4e0 59px,#dbe5ed 85px,#e0e5e8 157px,#f7dfd2 211px,#fbd4c0 230px,#f9bea3 252px,#f8b99d 310px,#f9bfa4 377px,#fac7ae 454px,#f9ded0 505px,#dce5ec 543px,#cbdfed 549px,#96c2de 561px,#5fa2cf 581px,#4a87c0 614px,#3f7aba 707px,#4480bd 729px)"></i>
<i style="background:linear-gradient(90deg,#dd6952 0,#e06e55 20px,#e5785b 30px,#f4a07d 43px,#f7af90 46px,#fadbcb 53px,#eae4e0 59px,#dbe5ed 85px,#e0e5e8 159px,#f6e0d5 214px,#fbd5c1 236px,#f9c6ad 253px,#f8bda1 309px,#f9c6ad 448px,#f9ded0 503px,#d8e5ee 543px,#b9d5e8 551px,#8ebddc 562px,#5da1ce 581px,#4784bf 612px,#3975b7 712px,#3f7aba 729px)"></i>
<i style="background:linear-gradient(90deg,#dc6851 0,#de6c54 19px,#e5785b 30px,#f49f7d 42px,#f7ab8b 45px,#fbd8c6 52px,#ece3de 58px,#e2e4e6 68px,#dae5ed 91px,#dfe5e9 161px,#f5e1d6 219px,#fbd5c2 243px,#faccb6 257px,#f9c1a6 308px,#f9c5ac 432px,#faccb5 458px,#f8ded1 502px,#d6e5ef 542px,#8bbcdb 561px,#5da0ce 580px,#4581bd 610px,#3371b5 715px,#3a75b8 729px)"></i>
<i style="background:linear-gradient(90deg,#dd6852 0,#df6c54 18px,#e67a5c 30px,#f5a27f 42px,#f8b496 46px,#fbd9c8 52px,#ece3df 58px,#e2e4e6 68px,#dae5ed 91px,#dfe5e9 163px,#f5e1d6 225px,#fbd4c0 258px,#f9c4aa 307px,#f9c6ad 425px,#faccb5 455px,#fadecf 493px,#e7e4e2 521px,#d3e4ef 540px,#84b8d9 561px,#5c9fcd 580px,#4480bd 609px,#306fb3 716px,#3673b6 729px)"></i>
<i style="background:linear-gradient(90deg,#df6c54 0,#e07056 18px,#e87e5e 30px,#f6a887 43px,#f9bda2 47px,#fbdac9 52px,#ece3df 58px,#e1e4e7 69px,#dae5ed 93px,#dfe5e9 168px,#f0e3dc 220px,#fbd8c5 265px,#f9c6ae 305px,#fac7ae 421px,#facdb7 454px,#fadecf 484px,#eee3de 509px,#d0e3ef 536px,#7bb3d7 562px,#5b9dcc 580px,#437fbd 610px,#2e6eb2 716px,#3572b5 729px)"></i>
<i style="background:linear-gradient(90deg,#e17056 0,#e27358 18px,#ea8260 30px,#f7ab8a 43px,#f9c6ad 48px,#f9decf 53px,#e7e4e2 60px,#dae5ed 87px,#dfe5e8 173px,#eee3dd 223px,#fbd7c4 277px,#fac9b1 304px,#fac7af 411px,#faceb8 453px,#f9decf 478px,#ece3df 506px,#d3e4ef 530px,#73aed5 562px,#5a9ccb 580px,#437fbd 610px,#2c6db1 716px,#3371b5 729px)"></i>
<i style="background:linear-gradient(90deg,#e37458 0,#e4775a 18px,#ec8663 30px,#f7ae8e 43px,#faceb8 49px,#f8ded0 53px,#e7e4e2 60px,#dbe5ed 87px,#e0e5e8 185px,#f7dfd2 261px,#fbd4c1 288px,#facbb5 305px,#fac7af 400px,#facfb9 452px,#f9decf 473px,#e9e4e1 505px,#d1e3ef 526px,#6dabd3 561px,#5798c9 582px,#437fbc 611px,#2a6cb1 715px,#3270b4 729px)"></i>
<i style="background:linear-gradient(90deg,#e67a5c 0,#e87e5e 18px,#ef8e6a 31px,#f8b598 44px,#fadccd 52px,#e9e4e0 59px,#dbe5ec 85px,#e0e5e8 193px,#f6e0d4 264px,#fbd6c3 290px,#faceb8 305px,#fac9b1 377px,#fbd0ba 435px,#fbd6c3 453px,#f2e3da 483px,#dae5ed 514px,#c7ddec 524px,#68a8d1 561px,#437fbc 611px,#296bb0 714px,#316fb4 729px)"></i>
<i style="background:linear-gradient(90deg,#eb8461 0,#ed8864 19px,#f19571 31px,#f8ba9e 44px,#faddce 52px,#e8e4e1 60px,#dbe5ec 87px,#dfe5e8 190px,#f6e0d5 265px,#fbd6c3 293px,#fbd0ba 309px,#facbb3 367px,#fbcfba 410px,#f8dfd1 458px,#d8e5ee 508px,#b4d2e6 524px,#66a7d1 559px,#437fbc 612px,#2a6bb0 715px,#316fb4 729px)"></i>
<i style="background:linear-gradient(90deg,#ef8c68 0,#f0916c 20px,#f39c79 31px,#f9c2a8 45px,#f9decf 52px,#e9e4e1 60px,#dce5ec 88px,#dfe5e9 184px,#f5e1d6 266px,#fbd7c4 296px,#faccb5 358px,#fbd2bd 406px,#f6e0d5 454px,#d3e4ef 501px,#78b1d6 545px,#5ea1ce 564px,#427ebc 613px,#2a6bb0 715px,#316fb4 729px)"></i>
<i style="background:linear-gradient(90deg,#f19370 0,#f29874 20px,#f5a280 31px,#f9c6ad 45px,#f9ded0 52px,#e9e4e1 61px,#dce5eb 89px,#dee5ea 173px,#f1e3dc 257px,#fbd7c4 299px,#facdb7 358px,#fbd4c0 404px,#f7dfd3 438px,#eae4e0 464px,#d2e3ef 491px,#6facd3 543px,#5b9dcc 567px,#427ebc 614px,#2a6bb0 716px,#316fb4 729px)"></i>
<i style="background:linear-gradient(90deg,#f49d7a 0,#f5a07e 20px,#f7ab8a 31px,#faceb8 46px,#f8dfd1 52px,#e9e4e1 61px,#dde5eb 90px,#dde5ea 170px,#f0e3dd 259px,#fcd9c7 311px,#fbd2bd 358px,#fbdac8 404px,#eae4e0 455px,#d2e3ef 482px,#9fc7e0 507px,#67a7d1 543px,#4d8bc2 591px,#407bbb 625px,#2c6db1 718px,#3270b4 729px)"></i>
<i style="background:linear-gradient(90deg,#f6a887 0,#f7ab8b 20px,#f8b699 32px,#fbd3be 46px,#f7dfd2 52px,#e9e4e1 62px,#dde5eb 91px,#dde5ea 175px,#efe3dd 265px,#fbddcd 318px,#fcd9c8 360px,#f8dfd2 408px,#dce5ec 463px,#c9dfed 477px,#95c1de 504px,#62a5d0 544px,#4e8dc3 589px,#417dbb 621px,#2d6db2 718px,#3371b5 729px)"></i>
<i style="background:linear-gradient(90deg,#f8b496 0,#f8b79a 21px,#f9c1a7 33px,#fbd7c4 46px,#eee3dd 58px,#dee5e9 87px,#dce5ec 159px,#ebe3df 262px,#f8dfd1 321px,#f9decf 372px,#f4e1d7 407px,#d3e4ef 460px,#88bada 503px,#5fa2cf 545px,#4f8ec4 587px,#417dbc 619px,#2f6eb3 718px,#3572b5 729px)"></i>
<i style="background:linear-gradient(90deg,#f9bfa5 0,#f9c3aa 24px,#facfb9 37px,#f8dfd1 50px,#eae4e0 63px,#dee5ea 93px,#dee5ea 191px,#ebe3df 270px,#f6e0d4 327px,#f6e0d5 376px,#efe3dd 408px,#d2e3ef 448px,#79b2d6 503px,#5da0cd 545px,#508fc4 586px,#427ebc 618px,#3170b4 719px,#3673b6 729px)"></i>
<i style="background:linear-gradient(90deg,#f9c6ad 0,#facab3 27px,#f8dfd1 49px,#ebe3df 63px,#dfe5e9 93px,#dde5ea 192px,#eae4e0 271px,#f4e2d8 328px,#f3e2d9 372px,#ebe3df 406px,#d1e3ef 440px,#96c2de 476px,#71add4 503px,#5c9fcd 547px,#5190c5 586px,#4480bd 617px,#3471b5 719px,#3974b7 729px)"></i>
<i style="background:linear-gradient(90deg,#fac7af 0,#faccb5 27px,#f9ded1 49px,#ece3df 64px,#e0e5e8 94px,#dde5eb 183px,#e9e4e1 271px,#f3e2da 333px,#ebe3df 397px,#d2e4ef 433px,#a7cbe3 458px,#6facd4 504px,#5ca0cd 549px,#5291c5 589px,#4683be 618px,#3874b7 720px,#3b77b9 729px)"></i>
<i style="background:linear-gradient(90deg,#fac8b1 0,#facdb7 27px,#f9ded0 49px,#ece3df 65px,#e1e4e7 95px,#dce5eb 178px,#e8e4e1 273px,#f2e3db 342px,#e0e5e8 408px,#cfe2ef 428px,#a2c8e1 455px,#6eabd3 504px,#5da0ce 552px,#5291c5 594px,#4985bf 626px,#3c77b9 721px,#3e7aba 729px)"></i>
<i style="background:linear-gradient(90deg,#facab3 0,#faceb8 27px,#f9ded0 49px,#ece3df 67px,#e1e4e7 98px,#dce5eb 174px,#e7e4e2 274px,#f0e3dc 346px,#dae5ed 409px,#c9deed 424px,#99c4df 454px,#6dabd3 505px,#5ea1ce 557px,#4b89c1 634px,#407bbb 722px,#417dbc 729px)"></i>
<i style="background:linear-gradient(90deg,#facbb4 0,#fbd0ba 27px,#f8dfd1 50px,#ebe3df 71px,#dfe5e9 122px,#dde5ea 188px,#e8e4e1 281px,#ece3df 354px,#d4e4f0 408px,#91bfdd 453px,#6baad2 507px,#599bcb 586px,#427ebc 713px,#4480bd 729px)"></i>
<i style="background:linear-gradient(90deg,#faccb6 0,#fbd1bc 27px,#f8dfd2 51px,#e8e4e1 78px,#dce5ec 164px,#e7e4e2 280px,#eae4e0 352px,#d2e3ef 401px,#88bada 452px,#69a9d2 510px,#5b9dcc 587px,#4683be 724px,#4783be 729px)"></i>
<i style="background:linear-gradient(90deg,#facdb7 0,#fbd2bd 27px,#f8dfd1 51px,#e9e4e1 80px,#dce5ec 164px,#e7e4e2 288px,#e5e4e3 356px,#d1e3ef 395px,#83b7d9 453px,#6aa9d2 514px,#5a9ccb 605px,#4986bf 729px)"></i>
<i style="background:linear-gradient(90deg,#facdb7 0,#fbd2bd 27px,#f8dfd2 52px,#eae4e0 82px,#dce5eb 164px,#e6e4e3 329px,#dfe5e8 364px,#d1e3ef 391px,#84b8d9 453px,#6caad3 517px,#5191c5 676px,#4b88c0 729px)"></i>
<i style="background:linear-gradient(90deg,#facdb7 0,#fbd2bd 27px,#f8dfd2 52px,#eae4e0 84px,#dde5eb 164px,#e4e4e4 325px,#dce5eb 366px,#cfe2ef 388px,#85b9da 453px,#6eabd3 520px,#508fc4 696px,#4d8bc2 729px)"></i>
<i style="background:linear-gradient(90deg,#facdb7 0,#fbd2bd 27px,#f8dfd2 53px,#eae4e0 89px,#dde5eb 164px,#e2e4e6 322px,#d7e6f0 372px,#87b9da 454px,#6facd4 525px,#599ccb 648px,#4f8ec4 729px)"></i>
<i style="background:linear-gradient(90deg,#facdb7 0,#fbd2bd 27px,#f8dfd2 53px,#e9e4e1 97px,#dde5ea 166px,#e0e5e8 320px,#d5e5f0 370px,#88badb 454px,#71add4 532px,#5b9dcc 649px,#5190c5 729px)"></i>
<i style="background:linear-gradient(90deg,#facdb7 0,#fbd2bd 27px,#f8dfd2 54px,#e3e4e5 120px,#dee5ea 188px,#dee5e9 318px,#d3e4f0 365px,#89bbdb 455px,#6aa9d2 570px,#5393c7 722px,#5393c7 729px)"></i>
<i style="background:linear-gradient(90deg,#facdb7 0,#fbd2bd 27px,#f7dfd2 55px,#e0e5e8 139px,#dde5eb 319px,#d2e4f0 362px,#8bbcdb 456px,#6cabd3 572px,#5596c8 720px,#5596c8 729px)"></i>
<i style="background:linear-gradient(90deg,#facdb7 0,#fbd2bd 27px,#f8dfd2 55px,#e3e4e5 130px,#dfe5e9 222px,#dce5ec 323px,#d1e3f0 362px,#8fbedc 457px,#6facd3 575px,#5798c9 723px,#5798c9 729px)"></i>
<i style="background:linear-gradient(90deg,#facdb7 0,#fbd2bd 27px,#f8dfd2 56px,#e3e4e5 131px,#dfe5e8 230px,#dae5ed 329px,#d1e3ef 362px,#92c0dd 458px,#70add4 580px,#589aca 728px,#589aca 729px)"></i>
<i style="background:linear-gradient(90deg,#facdb7 0,#fbd2bd 27px,#f8dfd2 56px,#e6e4e3 125px,#dfe5e9 196px,#dae5ed 327px,#d1e3ef 362px,#96c2de 460px,#71add4 586px,#5a9ccb 729px)"></i>
<i style="background:linear-gradient(90deg,#facdb7 0,#fbd2bd 27px,#f8dfd2 57px,#e6e4e3 128px,#dfe5e8 204px,#d9e6ef 334px,#cee1ee 367px,#99c4df 462px,#73aed5 589px,#5c9ecd 729px)"></i>
<i style="background:linear-gradient(90deg,#facdb7 0,#fbd2bd 27px,#f8dfd2 57px,#e8e4e2 125px,#e0e5e8 190px,#d7e6f0 340px,#b8d5e8 410px,#9cc5e0 464px,#75b0d5 590px,#5da0ce 729px)"></i>
<i style="background:linear-gradient(90deg,#facdb7 0,#fbd2bd 27px,#f8dfd2 58px,#e6e4e3 134px,#d5e5f1 350px,#b1d1e6 427px,#9bc5df 481px,#78b1d6 590px,#5fa3cf 729px)"></i>
<i style="background:linear-gradient(90deg,#facdb7 0,#fbd2bd 27px,#f8dfd1 58px,#e6e4e2 137px,#d4e5f0 350px,#b7d4e7 422px,#9fc7e1 480px,#7ab2d7 589px,#69a9d2 690px,#62a4d0 729px)"></i>
<i style="background:linear-gradient(90deg,#facdb7 0,#fbd1bd 27px,#f8dfd2 59px,#e4e4e4 153px,#d4e5f0 349px,#b8d5e8 424px,#9ec7e0 493px,#7db4d8 588px,#70acd4 676px,#65a6d1 729px)"></i>
<i style="background:linear-gradient(90deg,#faccb6 0,#fbd1bc 27px,#f8dfd2 60px,#e4e4e4 156px,#d4e5f0 352px,#b3d2e6 438px,#81b6d9 590px,#69a9d2 729px)"></i>
<i style="background:linear-gradient(90deg,#faccb5 0,#fbd0bb 27px,#f8dfd2 61px,#e5e4e3 159px,#d4e5f0 356px,#85b8da 587px,#6dabd3 729px)"></i>
<i style="background:linear-gradient(90deg,#facbb4 0,#fbd0ba 27px,#f8dfd2 61px,#e6e4e3 160px,#d3e5f0 359px,#88badb 593px,#71add4 729px)"></i>
<i style="background:linear-gradient(90deg,#facbb4 0,#fbcfba 27px,#f8dfd2 62px,#e7e4e2 165px,#d3e4f0 363px,#8cbcdb 595px,#75b0d5 729px)"></i>
<i style="background:linear-gradient(90deg,#facab3 0,#facfb9 27px,#f8dfd2 63px,#e7e4e2 170px,#d2e4f0 368px,#93c0dd 576px,#79b2d6 729px)"></i>
<i style="background:linear-gradient(90deg,#facab2 0,#faceb8 27px,#f8dfd1 62px,#e8e4e1 167px,#d2e4f0 371px,#99c4df 569px,#7db4d8 721px,#7db4d8 729px)"></i>
<i style="background:linear-gradient(90deg,#fac9b2 0,#faceb8 27px,#f9ded0 61px,#eae4e0 160px,#d2e4f0 374px,#9fc7e1 564px,#82b6d9 715px,#82b6d9 729px)"></i>
<i style="background:linear-gradient(90deg,#fac9b1 0,#facdb7 27px,#f9ded0 60px,#ebe3df 153px,#d2e4f0 376px,#a4cae2 560px,#89bbdb 678px,#86b9da 729px)"></i>
<i style="background:linear-gradient(90deg,#fac8b0 0,#facdb6 27px,#f9decf 60px,#ece3df 151px,#d2e3f0 379px,#abcde4 554px,#93c0de 640px,#89bbdb 715px,#89bbdb 729px)"></i>
<i style="background:linear-gradient(90deg,#fac8b0 0,#faccb6 27px,#fadecf 60px,#ede3de 151px,#d2e4f0 382px,#aecfe5 553px,#97c2de 636px,#8dbddc 712px,#8dbddc 729px)"></i>
<i style="background:linear-gradient(90deg,#fac8b0 0,#faccb6 27px,#fadecf 61px,#ede3de 157px,#d2e4f0 387px,#b1d1e6 552px,#9bc5df 628px,#8fbedc 710px,#8fbedc 729px)"></i>
<i style="background:linear-gradient(90deg,#fac8b0 0,#faccb6 27px,#fadecf 62px,#ede3de 165px,#d1e3f0 393px,#b4d3e6 552px,#9ec6e0 624px,#91bfdd 710px,#91bfdd 729px)"></i>
<i style="background:linear-gradient(90deg,#fac8b0 0,#faccb6 27px,#fadecf 63px,#ece3df 172px,#d1e3f0 398px,#b7d4e7 551px,#a1c8e1 620px,#94c0de 710px,#94c0de 729px)"></i>
<i style="background:linear-gradient(90deg,#fac8b0 0,#faccb6 27px,#fadecf 64px,#ede3de 173px,#d1e3ef 410px,#bad6e8 551px,#a4c9e2 619px,#96c2de 709px,#96c2de 729px)"></i>
<i style="background:linear-gradient(90deg,#fac8b0 0,#faccb6 27px,#fadecf 65px,#ede3de 174px,#d1e3f0 418px,#bcd7e9 551px,#a6cae2 621px,#98c3df 710px,#98c3df 729px)"></i>
<i style="background:linear-gradient(90deg,#fac8b0 0,#faccb6 27px,#f9decf 67px,#ede3de 176px,#d2e4f0 425px,#bfd9ea 550px,#a8cce3 622px,#9bc4df 710px,#9bc4df 729px)"></i>
<i style="background:linear-gradient(90deg,#fac8b0 0,#faccb6 27px,#f9decf 68px,#ede3de 177px,#d2e4f0 433px,#c6ddec 529px,#bad6e8 569px,#a1c8e1 667px,#9dc6e0 729px)"></i>
<i style="background:linear-gradient(90deg,#fac8b0 0,#faccb6 27px,#f9decf 69px,#eee3de 178px,#e1e4e7 295px,#d2e4f0 446px,#c9deed 525px,#c2dbeb 554px,#aacde4 632px,#9fc7e1 711px,#9fc7e1 729px)"></i>
<i style="background:linear-gradient(90deg,#fac8b0 0,#faccb6 27px,#fcdbc9 56px,#f6e0d5 101px,#ede3de 197px,#d3e4f0 450px,#cbe0ee 521px,#c7ddec 550px,#aecfe5 626px,#a2c8e1 710px,#a2c8e1 729px)"></i>
<i style="background:linear-gradient(90deg,#fac8b0 0,#faccb6 27px,#fcdac9 56px,#f6e0d4 100px,#ede3de 195px,#e2e4e6 292px,#d2e4f0 462px,#cce0ee 523px,#c8deed 552px,#afd0e5 632px,#a3c9e2 710px,#a3c9e2 729px)"></i>
<i style="background:linear-gradient(90deg,#fac8b0 0,#faccb6 27px,#f9decf 72px,#eee3dd 180px,#e4e4e4 285px,#d2e4f0 462px,#cde1ee 523px,#c9deed 553px,#afd0e5 639px,#a5cae2 711px,#a5cae2 729px)"></i>
<i style="background:linear-gradient(90deg,#fac8b0 0,#faccb6 27px,#f9decf 73px,#eee3dd 181px,#e4e4e4 286px,#d2e4f0 466px,#cee1ee 525px,#c8deed 559px,#adcfe4 653px,#a6cbe2 717px,#a6cbe2 729px)"></i>
<i style="background:linear-gradient(90deg,#fac8b0 0,#faccb6 27px,#f9decf 74px,#efe3dd 182px,#e4e4e4 286px,#d2e4f0 470px,#cfe2ef 528px,#c6ddec 567px,#aacde3 676px,#a7cbe3 729px)"></i>
<i style="background:linear-gradient(90deg,#fac8b0 0,#faccb6 27px,#f9decf 75px,#efe3dd 183px,#e4e4e4 286px,#d2e4f0 474px,#d0e2ef 533px,#a9cde3 685px,#a9cce3 729px)"></i>
<i style="background:linear-gradient(90deg,#fac8b0 0,#faccb6 27px,#f9ded0 76px,#efe3dd 183px,#e4e4e4 286px,#d2e4f0 478px,#cce0ee 559px,#b1d1e6 654px,#aacde3 715px,#aacde3 729px)"></i>
<i style="background:linear-gradient(90deg,#fac8b0 0,#faccb6 27px,#f9ded0 78px,#efe3dd 185px,#e4e4e4 287px,#d2e4f0 483px,#cde1ee 561px,#b2d1e6 657px,#abcee4 716px,#abcee4 729px)"></i>
<i style="background:linear-gradient(90deg,#fac8b0 0,#faccb6 27px,#f9ded0 79px,#efe3dd 186px,#e5e4e4 287px,#d2e4f0 487px,#cee1ee 562px,#b3d2e6 659px,#accee4 717px,#accee4 729px)"></i>
<i style="background:linear-gradient(90deg,#fac8b0 0,#faccb6 27px,#f9ded0 80px,#f0e3dd 186px,#e5e4e3 287px,#d2e4f0 491px,#cee2ef 564px,#b3d2e6 666px,#aecfe5 727px,#aecfe5 729px)"></i>
<i style="background:linear-gradient(90deg,#fac8b0 0,#faccb6 27px,#f9ded0 81px,#f0e3dc 187px,#e5e4e3 288px,#d2e4f0 496px,#cfe2ef 565px,#b3d2e6 670px,#afd0e5 729px)"></i>
<i style="background:linear-gradient(90deg,#fac8b0 0,#faccb6 27px,#f9ded0 82px,#f0e3dc 188px,#e5e4e3 288px,#d3e4f0 503px,#d0e3ef 566px,#b4d2e6 675px,#b1d1e5 729px)"></i>
<i style="background:linear-gradient(90deg,#fac8b0 0,#faccb6 27px,#f9decf 83px,#f0e3dc 189px,#e5e4e3 288px,#d4e5f0 514px,#d1e3f0 567px,#b4d3e6 681px,#b2d2e6 729px)"></i>
<i style="background:linear-gradient(90deg,#fac8b0 0,#faccb6 27px,#f9decf 84px,#f0e3dc 190px,#e5e4e3 290px,#d5e5f1 525px,#d2e4f0 568px,#b4d2e6 690px,#b4d2e6 729px)"></i>
<i style="background:linear-gradient(90deg,#fac8b0 0,#faccb6 27px,#f9decf 84px,#f0e3dc 191px,#e5e4e3 293px,#d5e6f1 527px,#d2e4f0 568px,#b5d3e7 692px,#b5d3e7 729px)"></i>
<i style="background:linear-gradient(90deg,#fac8b0 0,#faccb6 27px,#fadecf 84px,#f1e3dc 192px,#e5e4e3 297px,#d6e6f1 529px,#d2e4f0 569px,#b7d4e7 696px,#b7d4e7 729px)"></i>
<i style="background:linear-gradient(90deg,#fac8b0 0,#faccb6 27px,#fadecf 84px,#f1e3dc 193px,#d5e6f1 502px,#d3e4f0 569px,#b9d5e8 696px,#b9d5e8 729px)"></i>
<i style="background:linear-gradient(90deg,#fac8b0 0,#faccb6 27px,#fadece 84px,#f1e3dc 194px,#d6e6f1 496px,#d3e4f0 570px,#bad6e8 695px,#bad6e8 729px)"></i>
<i style="background:linear-gradient(90deg,#fac8b0 0,#faccb6 27px,#faddce 84px,#f1e3dc 195px,#d6e6f1 495px,#d3e4f0 571px,#bcd7e9 695px,#bcd7e9 729px)"></i>
<i style="background:linear-gradient(90deg,#fac8b0 0,#faccb6 27px,#faddce 84px,#f1e3dc 197px,#d7e6f0 494px,#d3e5f0 572px,#bed8e9 694px,#bed8e9 729px)"></i>
<i style="background:linear-gradient(90deg,#fac8b0 0,#faccb6 27px,#faddce 84px,#f1e3dc 198px,#d7e6f0 486px,#d4e5f0 573px,#bfd9ea 694px,#bfd9ea 729px)"></i>
<i style="background:linear-gradient(90deg,#fac8b0 0,#faccb6 27px,#faddce 84px,#f1e3db 199px,#d8e6ef 475px,#d4e5f0 574px,#c1daeb 694px,#c1daeb 729px)"></i>
<i style="background:linear-gradient(90deg,#fac8b0 0,#faccb6 27px,#fbddcd 84px,#f1e3db 200px,#d9e6ee 465px,#d4e5f0 575px,#c3dbeb 693px,#c3dbeb 729px)"></i>
<i style="background:linear-gradient(90deg,#fac8b0 0,#faccb6 27px,#fbddcd 84px,#f2e3db 201px,#dae5ee 456px,#d4e5f0 576px,#c4dcec 693px,#c4dcec 729px)"></i>
<i style="background:linear-gradient(90deg,#fac8b0 0,#faccb6 27px,#fbddcd 85px,#f2e3db 202px,#dae5ed 447px,#d4e5f0 577px,#c6ddec 693px,#c6ddec 729px)"></i>
<i style="background:linear-gradient(90deg,#fac8b0 0,#faccb6 27px,#fbddcd 85px,#f2e3db 203px,#dbe5ec 439px,#d4e5f0 578px,#c8deed 692px,#c8deed 729px)"></i>
<i style="background:linear-gradient(90deg,#fac8b0 0,#faccb6 27px,#fbddcd 86px,#f2e3db 204px,#dce5ec 431px,#d4e5f0 580px,#c9dfed 692px,#c9dfed 729px)"></i>
<i style="background:linear-gradient(90deg,#fac8b0 0,#faccb6 27px,#fbddcd 86px,#f2e3db 204px,#dce5eb 425px,#d3e4f0 617px,#cbe0ee 678px,#cbe0ee 729px)"></i>
<i style="height:3px;background:linear-gradient(90deg,#fac8b0 0,#faccb6 27px,#fbddcc 86px,#f2e3db 205px,#e1e4e7 346px,#d4e5f0 615px,#cce0ee 674px,#cce0ee 729px)"></i>
</div>
<div class="hm" style="left:1138px;top:676px;width:714px;height:461px">
<i style="height:2px;background:linear-gradient(90deg,#c5dced 0,#c4dbed 18px,#b8d5eb 22px,#b9d6eb 28px,#c5daea 30px,#ebe0db 33px,#f0e1d9 40px,#ede0db 75px,#d6dfe9 78px,#cedeeb 91px,#c5dced 95px,#c9ddec 126px,#e4e2e4 163px,#f4e0d5 210px,#facfb9 226px,#ec8563 246px,#d65945 256px,#c12f32 262px,#bc282f 268px,#c53836 273px,#da604a 281px,#f09472 296px,#f5ab8d 307px,#faccb5 333px,#f7ddcf 356px,#f1e1d9 368px,#dce2e8 412px,#d0dfeb 428px,#c2dbed 487px,#d0dfeb 491px,#cadceb 520px,#b2d2e8 523px,#b0d0e8 532px,#c1dbee 536px,#bdd8ec 550px,#a9cde6 554px,#a8cce6 616px,#accee6 617px,#d3dee9 620px,#d7e1e9 624px,#d7e0e9 634px,#d3dfe9 635px,#afcfe7 638px,#a8cce6 640px,#b4d2e9 705px,#c8dcec 708px,#cbddec 713px)"></i>
<i style="height:2px;background:linear-gradient(90deg,#c5dced 0,#c4dbed 18px,#b8d5eb 22px,#b9d6eb 28px,#c5daea 30px,#ebe0db 33px,#efe1d9 40px,#ede0db 75px,#d5dfe9 78px,#cddeeb 91px,#c5dced 95px,#c9dded 126px,#e4e2e4 163px,#f5dfd4 211px,#fad0ba 226px,#ec8563 246px,#d65945 256px,#c13133 262px,#bd282f 267px,#c33534 272px,#dd654d 282px,#f19776 297px,#f5ae91 309px,#faccb6 333px,#f6ddd0 356px,#f0e1d9 368px,#dbe2e8 412px,#cfdeeb 428px,#c2dbed 487px,#d0deeb 491px,#cadceb 520px,#b2d2e8 523px,#b0d0e8 532px,#c1daee 536px,#bcd8ec 550px,#a9cde6 554px,#a8cce6 616px,#accee6 617px,#d2dee9 620px,#d7e0e9 625px,#d3dfe9 635px,#afcfe7 638px,#a8cce6 640px,#b4d2e9 705px,#c8dcec 708px,#cbddec 713px)"></i>
<i style="height:2px;background:linear-gradient(90deg,#c5dced 0,#c4dbed 18px,#b8d5eb 22px,#b9d6eb 28px,#c5daea 30px,#ebe0dc 33px,#efe0da 40px,#ece0db 75px,#d5dfe9 78px,#cddeeb 91px,#c5dced 95px,#c8dded 126px,#e3e2e4 163px,#f4e0d5 211px,#fad0ba 226px,#ec8563 246px,#d65a45 256px,#c23233 262px,#bd2930 267px,#c43635 272px,#dd664d 282px,#f29877 297px,#f6af91 309px,#faceb8 334px,#f6ded1 356px,#f0e1d9 369px,#dce2e8 411px,#cfdeeb 428px,#c2dbed 487px,#cfdeeb 491px,#c9dceb 520px,#b2d1e8 523px,#afd0e8 532px,#c1daee 536px,#bcd8ec 550px,#a9cde6 554px,#a8cce5 616px,#accee6 617px,#d2dee9 620px,#d6e0e9 625px,#d2dfe9 635px,#afcfe7 638px,#a8cce6 640px,#b4d2e9 705px,#c8dcec 708px,#caddec 713px)"></i>
<i style="height:2px;background:linear-gradient(90deg,#c5dced 0,#c4dbed 18px,#b8d5eb 22px,#bad6eb 28px,#c5daeb 30px,#eae0dc 33px,#efe0da 41px,#ece0db 75px,#d5dfe9 78px,#cddeeb 91px,#c5dced 95px,#c8dded 126px,#e3e2e4 163px,#f5dfd4 212px,#fad0bb 226px,#ed8966 245px,#d65a46 256px,#c33434 262px,#be2a30 267px,#c43735 272px,#de664e 282px,#f19775 296px,#f5ae90 308px,#faceb8 334px,#f6ded2 356px,#efe0da 370px,#dce2e8 411px,#cfdeeb 428px,#c2daed 487px,#cfdeeb 491px,#c9dceb 520px,#b2d1e8 523px,#afd0e8 532px,#c0daed 536px,#bcd7ec 550px,#a9cce6 554px,#a8cce5 616px,#abcde6 617px,#d1dee9 620px,#d6e0ea 625px,#d2dfe9 635px,#afcfe7 638px,#a8cce6 640px,#b4d2e9 705px,#c7dcec 708px,#caddec 713px)"></i>
<i style="height:2px;background:linear-gradient(90deg,#c5dced 0,#c4dbed 18px,#b8d5eb 22px,#bad6eb 28px,#c5daeb 30px,#eae0dc 33px,#eee0da 41px,#ebe0db 75px,#d5dfe9 78px,#cddeec 91px,#c5dced 95px,#c8dded 126px,#e4e2e4 164px,#f4e0d5 212px,#fad1bb 226px,#ed8966 245px,#d75b46 256px,#c33534 262px,#be2b30 267px,#c73d37 273px,#e06b51 283px,#f29a79 297px,#f6b497 312px,#fad0ba 335px,#f4e0d6 359px,#dbe1e8 411px,#cfdeeb 428px,#c1daed 487px,#cedeeb 491px,#c8dcec 520px,#b2d1e8 523px,#afd0e8 532px,#c0daed 536px,#bbd7ec 550px,#a8cce6 554px,#a7cce5 616px,#abcde6 617px,#d0dee9 620px,#d5e0ea 625px,#d1deea 635px,#afcfe7 638px,#a8cce6 641px,#b4d2e9 705px,#c7dcec 708px,#caddec 713px)"></i>
<i style="height:2px;background:linear-gradient(90deg,#c5dced 0,#c4dbed 18px,#b8d5eb 22px,#bad6eb 28px,#c5daeb 30px,#eae0dc 33px,#eee0da 41px,#ebe0dc 75px,#d5dfe9 78px,#cddeec 91px,#c5dced 95px,#c8dded 126px,#e3e2e4 164px,#f4e0d6 212px,#fad1bc 226px,#ed8966 245px,#d75b46 256px,#c43735 262px,#bf2d31 267px,#c73e38 273px,#e16c51 283px,#f29b7a 297px,#f7b99d 315px,#fad3be 338px,#f1e1d9 363px,#dce2e8 410px,#cedeeb 428px,#c1daed 487px,#cedeeb 491px,#c8dcec 520px,#b2d1e8 523px,#afd0e8 532px,#bfdaed 536px,#bbd7ec 550px,#a8cce6 554px,#a7cbe5 616px,#abcde6 617px,#d0dee9 620px,#d5e0ea 625px,#d1deea 635px,#aecfe7 638px,#a8cce6 641px,#b3d2e9 705px,#c7dcec 708px,#caddec 713px)"></i>
<i style="height:2px;background:linear-gradient(90deg,#c5dced 0,#c4dbed 18px,#b9d6eb 22px,#bad6eb 28px,#c5daeb 30px,#e9e0dc 33px,#ede0da 41px,#ebe0dc 75px,#d4dfe9 78px,#cddeec 91px,#c5dced 95px,#c8dced 126px,#e3e2e4 164px,#f4e0d5 213px,#facfb9 227px,#ed8966 245px,#d75b46 256px,#c53836 262px,#c02f32 268px,#cd493d 275px,#ea805f 288px,#f4a383 300px,#facfb9 333px,#f4dfd5 356px,#dbe2e8 410px,#cedeeb 428px,#c1daed 487px,#cedeeb 491px,#c8dcec 520px,#b1d1e8 523px,#afd0e8 532px,#bfd9ed 536px,#bbd7ec 550px,#a8cce6 554px,#a7cbe5 616px,#abcde6 617px,#cfdee9 620px,#d4e0ea 625px,#d0deea 635px,#aecfe7 638px,#a8cce6 641px,#b3d2e9 705px,#c7dcec 708px,#c9ddec 713px)"></i>
<i style="height:2px;background:linear-gradient(90deg,#c5dced 0,#c4dbed 18px,#b9d6eb 22px,#bad6eb 28px,#c5daeb 30px,#e9e0dc 33px,#ede0da 42px,#eae0dc 75px,#d4dfe9 78px,#cddeec 91px,#c5dced 95px,#c8dced 126px,#e3e2e4 165px,#f4e0d6 213px,#fad0ba 227px,#ed8966 245px,#d45744 257px,#c43735 263px,#c13133 268px,#cb453b 274px,#e87d5d 287px,#f4a282 299px,#facfba 333px,#f4e0d5 356px,#dce2e8 409px,#cedeeb 428px,#c1daed 487px,#cddeeb 491px,#c7dcec 520px,#b1d1e8 523px,#afd0e8 532px,#bfd9ed 536px,#bad7ec 550px,#a7cce6 554px,#a6cbe5 616px,#aacde5 617px,#cfddea 620px,#d3e0ea 625px,#d0deea 635px,#aecfe7 638px,#a8cce6 641px,#b3d2e9 705px,#c6dcec 708px,#c9ddec 713px)"></i>
<i style="height:2px;background:linear-gradient(90deg,#c5dced 0,#c4dbed 18px,#b9d6eb 22px,#bad6eb 28px,#c5daeb 30px,#e8e0dc 33px,#ede0da 42px,#eae0dc 75px,#d4dfe9 78px,#ccdeec 91px,#c5dced 95px,#c7dced 126px,#e3e2e4 165px,#f4dfd5 214px,#fad0ba 227px,#ed8966 245px,#d55744 257px,#c53936 263px,#c23334 268px,#cb463b 274px,#e97e5e 287px,#f4a283 299px,#fad0ba 333px,#f2e1d8 359px,#dce2e8 409px,#cedeeb 428px,#c0daed 487px,#cddeec 491px,#c7dcec 520px,#b1d1e8 523px,#afd0e8 532px,#bed9ed 536px,#bad6eb 550px,#a7cce5 554px,#a6cbe5 616px,#aacde5 617px,#ceddea 620px,#d3dfea 625px,#cfdeea 635px,#aecfe7 638px,#a8cce6 641px,#b3d2e9 705px,#c6dcec 708px,#c9ddec 713px)"></i>
<i style="height:2px;background:linear-gradient(90deg,#c5dced 0,#c4dbed 18px,#b9d6eb 22px,#bad6eb 28px,#c5daeb 30px,#e8e0dc 33px,#ece0db 42px,#eae0dc 75px,#d4dfe9 78px,#ccdeec 91px,#c5dced 95px,#c7dced 126px,#e3e2e5 165px,#f4e0d5 214px,#fad0bb 227px,#ed8966 245px,#d55844 257px,#c63a36 263px,#c33534 268px,#cc473c 274px,#e97f5f 287px,#f4a383 299px,#fad2bc 334px,#f2e1d8 359px,#dbe1e8 409px,#cddeeb 428px,#c0daed 487px,#cddeec 491px,#c7dcec 520px,#b1d1e8 523px,#aed0e8 532px,#bed9ed 536px,#bad6eb 550px,#a7cbe5 554px,#a6cbe5 616px,#aacce5 617px,#ceddea 620px,#d2dfea 625px,#cfdeea 635px,#aecfe7 638px,#a8cce6 641px,#b3d2e9 705px,#c6dbec 708px,#c9dded 713px)"></i>
<i style="height:2px;background:linear-gradient(90deg,#c5dced 0,#c4dbed 18px,#b9d6eb 22px,#bad6eb 28px,#c5daeb 30px,#e8e0dd 33px,#ece0db 43px,#e9e0dc 75px,#d4dfe9 78px,#ccdeec 91px,#c5dced 95px,#c7dced 126px,#e3e2e4 166px,#f4dfd4 215px,#fad1bb 227px,#ed8966 245px,#d55845 257px,#c73c37 263px,#c43735 268px,#cc483c 274px,#ea805f 287px,#f4a484 299px,#fad2bd 334px,#f2e1d8 359px,#dce2e8 408px,#cddeec 428px,#c0d9ed 487px,#ccdeec 491px,#c6dcec 520px,#b1d1e8 523px,#aed0e8 532px,#bed9ed 536px,#b9d6eb 550px,#a7cbe5 554px,#a6cbe5 616px,#a9cce5 617px,#cdddea 620px,#d2dfea 626px,#cedeea 635px,#aecfe7 638px,#a8cce6 641px,#b3d2e9 705px,#c6dbec 708px,#c8dded 713px)"></i>
<i style="height:2px;background:linear-gradient(90deg,#c5dced 0,#c4dbed 18px,#b9d6eb 22px,#bad6eb 28px,#c5daeb 30px,#e8e0dd 33px,#ebe0db 43px,#e9e0dc 75px,#d3dfe9 78px,#ccdeec 91px,#c5dced 95px,#c7dced 126px,#e3e2e5 166px,#f4e0d5 215px,#fad1bc 227px,#ed8966 245px,#d35442 258px,#c73e38 263px,#c53936 268px,#cd493c 274px,#ea8160 287px,#f4a383 298px,#fad3bd 334px,#f2e1d8 358px,#dbe2e8 408px,#cddeec 428px,#c0d9ed 487px,#ccdeec 491px,#c6dbec 520px,#b1d1e8 523px,#aed0e8 532px,#bdd8ed 536px,#b9d6eb 550px,#a6cbe5 554px,#a5cae5 616px,#a9cce5 617px,#cdddea 620px,#d1dfeb 626px,#ceddea 635px,#aecfe7 638px,#a8cce6 641px,#b3d2e9 705px,#c5dbec 708px,#c8dded 713px)"></i>
<i style="background:linear-gradient(90deg,#c5dced 0,#c4dbed 18px,#b9d6eb 22px,#bad7eb 28px,#c5daeb 30px,#e7e0dd 33px,#ebe0db 44px,#e8e0dd 75px,#d3dfe9 78px,#ccdeec 91px,#c5dced 96px,#c7dced 126px,#e3e2e5 167px,#f3e1d7 214px,#fad2bc 227px,#ed8966 245px,#d15140 259px,#c94139 263px,#c73e38 269px,#d05040 275px,#ed8764 288px,#f4a586 299px,#fbd6c1 336px,#f2e1d8 356px,#dbe2e8 407px,#ccdeec 428px,#bfd9ed 487px,#cbddec 491px,#c6dbec 520px,#b0d1e8 523px,#aecfe8 532px,#bdd8ec 536px,#b8d5eb 550px,#a6cbe5 554px,#a5cae5 616px,#a8cce5 617px,#ccddea 620px,#d1dfeb 626px,#cdddea 635px,#adcfe7 638px,#a8cce6 641px,#b3d2e9 705px,#c5dbec 708px,#c8dced 713px)"></i>
<i style="background:linear-gradient(90deg,#c5dced 0,#c4dbed 18px,#b9d6eb 22px,#bbd7eb 28px,#c5daeb 30px,#e6e0de 33px,#eae0dc 46px,#e7e0de 75px,#d3dfe9 78px,#ccddec 91px,#c5dced 96px,#c6dced 126px,#e3e2e5 168px,#f2e1d8 214px,#fad3be 227px,#ef8d69 244px,#d25341 259px,#ca433a 264px,#ca443a 270px,#d15241 275px,#ee8a66 288px,#f4a586 298px,#fbd8c4 337px,#f2e1d8 354px,#dbe2e8 406px,#ccddec 428px,#bfd9ec 487px,#caddec 491px,#c5dbec 520px,#b0d0e8 523px,#adcfe7 532px,#bcd8ec 536px,#b8d5eb 550px,#a5cae5 554px,#a4cae4 616px,#a8cbe5 617px,#cbdcea 620px,#cfdeeb 626px,#ccddeb 635px,#adcfe7 638px,#a8cce6 641px,#b3d2e9 705px,#c6dced 709px,#c7dced 713px)"></i>
<i style="background:linear-gradient(90deg,#c5dced 0,#c4dbed 18px,#bad6eb 22px,#bbd7ec 28px,#c5daeb 30px,#e5e0df 33px,#e9e1dd 49px,#e6e0df 75px,#d2dfea 78px,#cbddec 91px,#c5dced 96px,#c6dced 126px,#e3e2e5 169px,#f1e1d9 213px,#f8dbcc 222px,#fad0ba 228px,#ef8d69 244px,#ce4b3d 262px,#cb463b 269px,#d35442 275px,#ed8966 287px,#f4a586 297px,#fad9c6 337px,#f1e1d9 353px,#dbe1e8 405px,#cbddec 428px,#bed8ec 487px,#caddec 491px,#c4dbec 520px,#afd0e8 523px,#adcfe7 532px,#bbd7ec 536px,#b7d5ea 550px,#a4cae5 554px,#a3c9e4 616px,#a7cbe5 617px,#cadceb 620px,#cedeeb 626px,#cbddeb 635px,#adcee7 638px,#a7cce6 642px,#b3d2e9 705px,#c6dced 709px,#c6dced 713px)"></i>
<i style="background:linear-gradient(90deg,#c5dced 0,#c4dbed 18px,#bad6eb 22px,#bbd7ec 28px,#c5dbeb 30px,#e4e0e0 33px,#e8e1de 52px,#e6e1e0 75px,#d2dfea 78px,#cbddec 91px,#c5dced 97px,#c5dced 126px,#e3e2e5 171px,#efe0da 212px,#f6ded2 220px,#fad1bc 228px,#ef8d6a 244px,#cf4f3f 262px,#ce4c3d 270px,#d45643 275px,#ee8b68 287px,#f4a586 296px,#fbd7c3 334px,#f1e1d9 351px,#dbe1e8 404px,#caddec 428px,#bdd8ec 487px,#c9ddec 491px,#c3dbed 520px,#afd0e8 523px,#accfe7 532px,#bad7ec 536px,#b6d4ea 550px,#a4cae4 554px,#a3c9e4 616px,#a6cbe5 617px,#c9dceb 620px,#cddeeb 626px,#cadceb 635px,#accee6 638px,#a7cce5 642px,#b2d2e9 705px,#c5dced 709px,#c6dced 713px)"></i>
<i style="background:linear-gradient(90deg,#c5dced 0,#c3dbed 18px,#b9d6eb 22px,#bad6eb 28px,#c4daeb 30px,#e3e1e2 33px,#e7e1df 55px,#e5e1e1 75px,#d1deea 78px,#caddec 91px,#c4dcee 97px,#c4dbee 125px,#e3e2e5 175px,#eee0da 212px,#f6ded1 221px,#fad3be 228px,#ef8f6c 245px,#d45743 261px,#d15241 270px,#d75b46 275px,#ef8d6a 286px,#f5a788 295px,#facdb7 323px,#f5dfd2 342px,#eee0da 356px,#dae1e9 402px,#c9dded 428px,#bcd7ec 487px,#c8dced 491px,#c2daed 520px,#aecfe7 523px,#abcee7 532px,#b9d6eb 536px,#b5d3ea 550px,#a2c9e4 554px,#a1c8e3 616px,#a5cae4 617px,#c8dbeb 620px,#ccdeec 627px,#c9dceb 635px,#abcee6 638px,#a6cbe5 642px,#b2d1e9 705px,#c4dbed 709px,#c5dced 713px)"></i>
<i style="background:linear-gradient(90deg,#c3dbee 0,#c2dbed 18px,#b7d5eb 22px,#b9d6eb 28px,#c3daeb 30px,#e2e1e3 33px,#e6e1e1 55px,#e3e1e2 75px,#cfdeeb 78px,#c9ddec 91px,#c3dbee 98px,#c1daee 124px,#e3e3e5 181px,#eee0da 213px,#f6ded2 222px,#fad2bd 229px,#f39f7e 243px,#e16d52 257px,#d75c47 263px,#d75c47 272px,#e16d52 277px,#f09270 285px,#f5ab8c 294px,#f9cab3 316px,#f6ddd0 337px,#f0e1d9 349px,#d6e0e9 401px,#c6dced 429px,#b9d6eb 487px,#c6dced 491px,#c0daed 520px,#accee7 523px,#a9cde6 532px,#b7d4ea 536px,#b2d2e9 550px,#a0c8e3 554px,#9fc7e3 616px,#a3c9e4 617px,#c6dbeb 620px,#caddec 626px,#c7dbec 635px,#aacde6 638px,#a5cae5 643px,#b0d1e8 705px,#c3dbee 709px,#c3dbee 713px)"></i>
<i style="background:linear-gradient(90deg,#c2dbee 0,#c1daed 18px,#b6d4ea 22px,#b7d5ea 28px,#c2d9ec 30px,#e1e1e4 33px,#e5e2e2 54px,#e2e1e3 75px,#cedeeb 78px,#c8dced 91px,#c1daee 99px,#bed9ed 124px,#e4e2e3 191px,#f1e1d9 218px,#f9dac8 227px,#f4a687 243px,#ea805f 255px,#dd654d 262px,#db624b 270px,#e16d52 275px,#f19775 284px,#f6b294 295px,#facbb5 313px,#f6ddd0 334px,#f0e1d9 347px,#d4e0ea 398px,#c3dbee 430px,#b7d4ea 487px,#c4dbed 491px,#bed9ed 520px,#aacde6 523px,#a7cce5 532px,#b4d3ea 536px,#b0d1e8 550px,#9ec6e3 554px,#9dc6e2 616px,#a1c8e3 617px,#c4daec 620px,#c8dded 626px,#c5dbec 635px,#a8cce5 638px,#a3c9e4 643px,#aed0e8 705px,#c1dbee 709px,#c2dbee 713px)"></i>
<i style="background:linear-gradient(90deg,#c0daed 0,#bfd9ed 18px,#b4d3e9 22px,#b5d4ea 28px,#c0d9eb 30px,#e0e2e5 33px,#e4e2e4 52px,#e1e2e5 75px,#ccdeeb 78px,#c6dced 91px,#bfd9ed 98px,#bbd7ec 124px,#e3e2e4 193px,#f4dfd5 223px,#fad2bc 231px,#f5ab8c 244px,#ee8b68 255px,#e16d52 263px,#df694f 269px,#e47256 274px,#f29c7b 283px,#f8c1a8 301px,#f8dbcb 326px,#f1e1d9 341px,#dde2e8 379px,#c0daed 430px,#b4d3ea 487px,#c2dbee 491px,#bbd7ec 520px,#a7cce6 523px,#a5cae5 532px,#b2d2e9 536px,#aecfe8 550px,#9cc5e2 554px,#9bc5e2 616px,#9fc7e3 617px,#c2daec 620px,#c7dced 626px,#c3daec 635px,#a6cbe5 638px,#a2c8e4 643px,#adcfe7 705px,#bfd9ed 709px,#c0daed 713px)"></i>
<i style="background:linear-gradient(90deg,#bed9ed 0,#bdd8ec 18px,#b2d2e9 22px,#b3d2e9 28px,#bed8eb 30px,#dfe2e6 33px,#e3e3e5 48px,#e0e2e6 75px,#cbddec 78px,#c4dbed 91px,#bdd8ed 97px,#b8d5eb 124px,#d2dfea 169px,#e9e1de 208px,#f5dfd3 225px,#facdb6 234px,#f5ad8f 246px,#f19573 255px,#e6795a 262px,#e37054 268px,#e87d5d 274px,#f4a383 283px,#f9c8b1 302px,#f7dcce 324px,#f1e1d9 338px,#dde2e8 375px,#cfdeeb 389px,#bbd7ec 434px,#b2d2e9 487px,#bfd9ed 491px,#b8d5eb 520px,#a5cae5 523px,#a3c9e4 532px,#b0d0e8 536px,#accee7 550px,#9ac4e1 554px,#99c3e1 616px,#9dc6e2 617px,#c0d9ec 620px,#c5dced 626px,#c2daec 635px,#a4cae4 638px,#a0c7e3 643px,#abcee7 705px,#bdd8ec 709px,#bed8ed 713px)"></i>
<i style="background:linear-gradient(90deg,#bcd8ec 0,#bbd7ec 18px,#b0d1e8 22px,#b1d1e9 28px,#bcd7ea 30px,#dee2e7 33px,#e2e3e6 46px,#dfe2e7 75px,#caddec 78px,#c3dbed 91px,#bbd7ec 97px,#b6d4ea 125px,#cddeeb 167px,#dbe1e8 187px,#f5dfd4 226px,#faccb6 236px,#f29a79 256px,#eb8361 262px,#e7795b 268px,#ee8b68 275px,#f5a98a 283px,#f9c9b2 299px,#f9dac9 315px,#f1e1d9 333px,#e3e2e5 364px,#cbddec 387px,#b7d4ea 433px,#afd0e8 487px,#bcd8ec 491px,#b6d4ea 520px,#a3c9e4 523px,#a1c8e3 532px,#adcfe7 536px,#aacde6 550px,#98c3e1 554px,#97c2e0 616px,#9bc4e1 617px,#bfd9ec 620px,#c3dbee 626px,#c0d9ed 635px,#a3c9e4 638px,#9ec6e3 643px,#a9cde6 705px,#bbd7ec 709px,#bbd7ec 713px)"></i>
<i style="background:linear-gradient(90deg,#bad7ec 0,#b9d6eb 18px,#aed0e8 22px,#b0d0e8 28px,#bad6ea 30px,#dbe1e8 33px,#e0e3e7 47px,#dde2e8 75px,#c8dded 78px,#c1daed 91px,#bad6eb 96px,#b3d3e9 125px,#cbddec 170px,#d5e0ea 186px,#e4e2e4 201px,#f4dfd4 227px,#facdb6 238px,#f39f7f 257px,#ee8a67 263px,#eb8261 268px,#ef906d 274px,#f5ac8e 282px,#faccb5 297px,#f8dbcb 312px,#f1e1d9 329px,#e4e2e4 359px,#d3dfea 374px,#c6dced 386px,#b3d2e9 432px,#accfe7 487px,#b9d6eb 491px,#b3d2e9 520px,#a1c8e3 523px,#9fc7e3 532px,#abcee7 536px,#a7cce5 550px,#96c2e0 554px,#95c1e0 616px,#99c3e1 617px,#bdd8ec 620px,#c1dbee 626px,#bed9ed 635px,#a1c8e3 638px,#9dc6e2 643px,#a7cce6 705px,#b8d5eb 709px,#b9d6eb 713px)"></i>
<i style="background:linear-gradient(90deg,#b9d6eb 0,#b7d5eb 18px,#accfe7 22px,#aecfe7 28px,#b8d5ea 30px,#d8e1e8 33px,#dde2e8 50px,#dbe1e8 75px,#c7dced 78px,#c0d9ed 91px,#b8d5eb 96px,#b0d1e8 125px,#c9ddec 178px,#e4e2e4 203px,#f4e0d5 228px,#facfb8 240px,#f3a07f 259px,#ee8c69 266px,#ef8e6b 270px,#f9c4ac 290px,#f8dbcb 306px,#f1e1d9 324px,#e4e2e3 355px,#d5e0ea 369px,#c0daed 385px,#aed0e8 433px,#aacde6 487px,#b6d4ea 491px,#b0d1e8 520px,#9dc6e2 524px,#9dc6e2 532px,#a9cce6 536px,#a5cae5 550px,#94c0df 554px,#93c0df 616px,#96c2e0 617px,#bad7ec 620px,#bfd9ed 626px,#bbd7ec 635px,#9fc7e3 638px,#9bc5e2 644px,#a6cbe5 705px,#b6d4ea 709px,#b7d5ea 713px)"></i>
<i style="background:linear-gradient(90deg,#b6d4ea 0,#b5d3ea 18px,#aacde6 22px,#abcee7 28px,#b6d3e9 30px,#d5e0e9 33px,#dbe1e8 53px,#d8e1e9 75px,#c5dced 78px,#bdd8ec 91px,#b5d4ea 96px,#adcfe7 125px,#c8dded 182px,#e3e2e4 204px,#f4dfd5 230px,#faceb8 243px,#f19674 266px,#f29876 270px,#fad3be 295px,#f3e1d7 313px,#e5e2e3 351px,#d7e1e9 365px,#bbd7ec 385px,#abcee7 435px,#a7cce5 487px,#b3d2e9 491px,#adcfe7 520px,#9ac4e1 524px,#9ac4e1 532px,#a6cbe5 536px,#a2c9e4 550px,#90bede 554px,#8fbdde 616px,#93bfdf 617px,#b7d5ea 620px,#bbd7ec 626px,#b8d5eb 635px,#9dc5e2 638px,#99c3e1 644px,#a3c9e4 705px,#b3d3e9 709px,#b4d3ea 713px)"></i>
<i style="background:linear-gradient(90deg,#b3d2e9 0,#b1d1e9 18px,#a7cbe5 22px,#a8cce6 28px,#b2d1e8 30px,#d2dfea 33px,#d7e0e9 54px,#d4e0ea 75px,#c2daed 78px,#bad6eb 91px,#b2d2e9 96px,#aacde6 125px,#caddec 185px,#e3e2e4 207px,#f5dfd3 233px,#facfb9 245px,#f4a484 264px,#f4a181 269px,#f6b599 279px,#fad8c5 296px,#f2e1d8 311px,#e5e2e2 347px,#d9e1e9 362px,#bad6eb 384px,#a9cde6 435px,#a5cae5 487px,#b0d1e8 491px,#aacde6 520px,#97c2e0 524px,#97c2e0 532px,#a3c9e4 536px,#9fc7e3 550px,#8cbbdc 554px,#8bbadc 616px,#8fbcdd 617px,#b3d2e9 620px,#b7d5eb 625px,#b4d3ea 635px,#99c4e1 638px,#96c1e0 644px,#a0c8e3 705px,#b0d1e8 709px,#b1d1e8 713px)"></i>
<i style="background:linear-gradient(90deg,#afd0e8 0,#aed0e8 18px,#a4cae4 22px,#a5cae5 28px,#afd0e7 30px,#cfdeea 33px,#d4e0ea 54px,#d1dfea 75px,#bed8ec 78px,#b6d4ea 91px,#aed0e8 96px,#a7cbe5 125px,#c9ddec 186px,#e7e1e0 214px,#f5dfd4 235px,#facfba 247px,#f5ac8d 264px,#f5aa8c 270px,#f7bca1 279px,#f9dac8 295px,#f2e1d8 309px,#e5e2e2 344px,#d9e1e9 360px,#bad6eb 382px,#a7cbe5 433px,#a2c9e4 487px,#adcfe7 491px,#a7cbe5 520px,#94c1df 524px,#94c1df 532px,#a0c7e3 536px,#9cc5e2 550px,#88b7db 554px,#87b7da 616px,#8ab9dc 617px,#afd0e8 620px,#b4d3e9 625px,#b1d1e8 635px,#96c2e0 638px,#92bfdf 644px,#9dc6e2 705px,#accfe7 709px,#adcfe7 713px)"></i>
<i style="background:linear-gradient(90deg,#accee7 0,#abcee7 18px,#a0c8e3 22px,#a2c8e4 28px,#accee6 30px,#cbddeb 33px,#d1dfeb 54px,#cedeeb 75px,#bbd6eb 78px,#b3d2e9 91px,#abcee7 96px,#a4c9e4 125px,#c6dced 186px,#e6e2e2 215px,#f5dfd4 238px,#facdb6 251px,#f6b295 265px,#f6b396 271px,#f9dbca 293px,#f1e1d9 306px,#e5e2e2 341px,#d9e1e9 358px,#bad6eb 381px,#a5cae5 432px,#9fc7e3 487px,#aacde6 491px,#a4cae4 520px,#91bede 524px,#90bede 532px,#9dc5e2 536px,#98c3e1 550px,#85b6da 553px,#81b3d8 590px,#82b3d9 616px,#86b6da 617px,#abcee7 620px,#b0d1e8 625px,#adcfe7 635px,#92bfde 638px,#8ebcdd 644px,#9ac4e1 705px,#a9cde6 709px,#aacde6 713px)"></i>
<i style="background:linear-gradient(90deg,#a9cde6 0,#a8cce6 18px,#9dc6e2 22px,#9ec7e3 28px,#a9cce5 30px,#c8dceb 33px,#cddeeb 54px,#caddeb 75px,#b7d4ea 78px,#b0d0e8 91px,#a8cce6 96px,#a0c8e3 125px,#c3dbee 185px,#e5e2e3 216px,#f5dfd4 241px,#faccb6 254px,#f7b99e 266px,#f8bfa5 274px,#f8dbcb 291px,#f2e1d8 302px,#e4e2e3 340px,#d6e0e9 358px,#bad6eb 380px,#a3c9e4 431px,#9cc5e2 487px,#a7cbe5 491px,#a0c8e3 520px,#8dbcdd 524px,#8dbbdd 532px,#99c4e1 536px,#95c1e0 550px,#81b3d8 553px,#7dafd7 585px,#7eb0d7 616px,#82b3d8 617px,#a7cbe5 620px,#accee7 625px,#a9cce6 635px,#8ebcdd 638px,#8ab9dc 644px,#97c2e0 705px,#a5cbe5 709px,#a6cbe5 713px)"></i>
<i style="background:linear-gradient(90deg,#a6cbe5 0,#a4cae5 18px,#9ac4e1 22px,#9bc5e2 28px,#a6cae5 30px,#c5dbec 33px,#caddec 53px,#c7dcec 75px,#b4d2e9 78px,#accee7 91px,#a4cae5 97px,#9dc6e2 125px,#c0daed 185px,#dbe1e8 210px,#ebe0db 229px,#f4e0d5 243px,#facfb9 256px,#f8c1a7 267px,#facdb7 278px,#f4dfd5 293px,#dde2e8 349px,#bad6eb 379px,#a2c9e4 424px,#9ac4e1 487px,#a4cae4 491px,#9dc6e2 520px,#89b9db 524px,#89b8db 532px,#96c2e0 536px,#92bfde 550px,#7dafd7 553px,#79acd5 581px,#79add5 616px,#7dafd7 617px,#a3c9e4 620px,#a8cce6 625px,#a5cae5 635px,#8ab9db 638px,#86b6da 644px,#93c0df 705px,#a2c9e4 709px,#a3c9e4 713px)"></i>
<i style="background:linear-gradient(90deg,#a2c9e4 0,#a1c8e4 18px,#97c2e0 22px,#98c3e1 28px,#a2c9e4 30px,#c2daec 33px,#c7dced 52px,#c4dbec 75px,#b0d1e8 78px,#a9cce6 91px,#a1c8e3 97px,#9ac4e1 125px,#bcd7ec 185px,#d6e0e9 210px,#e4e2e3 221px,#f5dfd3 247px,#faceb8 261px,#f9cab3 270px,#f7ddcf 287px,#f1e1d9 296px,#dde2e8 346px,#bad6eb 378px,#abcee7 400px,#9ec6e2 437px,#97c2e0 487px,#a1c8e3 491px,#9ac4e1 520px,#86b6da 524px,#85b5da 532px,#93c0df 536px,#8ebcdd 550px,#79acd5 553px,#74a9d3 580px,#75a9d4 616px,#79acd5 617px,#a0c7e3 620px,#a4cae5 624px,#a1c8e3 635px,#86b6da 638px,#82b3d9 644px,#8fbdde 705px,#9fc7e3 709px,#9fc7e3 713px)"></i>
<i style="background:linear-gradient(90deg,#9fc7e3 0,#9ec6e2 18px,#94c0df 22px,#95c1e0 28px,#9fc7e3 30px,#bfd9ed 33px,#c4dcee 50px,#c1daed 75px,#adcfe7 78px,#a5cae5 91px,#9ec6e2 97px,#96c2e0 125px,#bad7ec 187px,#d1dfeb 210px,#e3e2e4 222px,#f5dfd3 250px,#fad1bc 266px,#fad9c6 278px,#f1e1d9 292px,#dde2e8 343px,#bbd7ec 376px,#aed0e8 391px,#9cc5e2 434px,#94c1df 487px,#9ec6e3 491px,#97c2e0 520px,#84b5d9 523px,#81b3d8 532px,#8fbdde 536px,#89b9db 550px,#75a9d4 553px,#70a6d2 579px,#71a6d2 616px,#75a9d4 617px,#9cc4e2 620px,#a1c8e3 624px,#9dc6e2 635px,#82b3d8 638px,#7eb0d7 644px,#8bbadc 705px,#9bc5e2 709px,#9cc5e2 713px)"></i>
<i style="background:linear-gradient(90deg,#9cc5e2 0,#9bc5e2 18px,#90bede 22px,#91bfde 28px,#9cc5e2 30px,#bbd7ec 33px,#c2dbee 58px,#bed9ed 75px,#aacde6 78px,#a2c9e4 91px,#9ac4e1 98px,#93c0df 125px,#b7d5ea 188px,#cfdeeb 211px,#e3e2e4 225px,#f5dfd4 252px,#fbd7c2 267px,#f5ded2 282px,#eee0da 294px,#dde2e8 339px,#bad7ec 374px,#accee7 390px,#9ac4e1 434px,#91bede 487px,#9bc4e1 491px,#93c0df 520px,#80b2d8 523px,#7db0d7 532px,#8bbadc 536px,#85b6da 550px,#71a6d2 553px,#6ca3d0 579px,#6da3d1 616px,#71a6d2 617px,#98c2e1 620px,#9dc6e2 624px,#9ac4e1 635px,#7eb0d7 638px,#7aadd6 644px,#88b7db 705px,#98c3e1 709px,#99c3e1 713px)"></i>
<i style="background:linear-gradient(90deg,#9ac4e1 0,#98c3e1 18px,#8dbbdd 22px,#8ebcdd 28px,#99c3e1 30px,#b7d5ea 33px,#bed8ed 66px,#bad6eb 75px,#a7cbe5 78px,#9fc7e3 91px,#98c3e1 98px,#90bdde 124px,#b2d2e9 188px,#cddeec 212px,#e3e2e4 228px,#f5dfd3 255px,#fad9c7 268px,#f0e1d9 289px,#dbe1e8 336px,#bad7ec 370px,#a9cce6 388px,#96c2e0 435px,#8cbbdc 487px,#97c2e0 491px,#90bdde 520px,#7cafd6 523px,#7aadd5 532px,#87b7db 536px,#82b3d8 550px,#6da3d1 553px,#69a0cf 580px,#69a1cf 616px,#6da4d1 617px,#95c1e0 620px,#9ac4e1 624px,#97c2e0 635px,#7baed6 638px,#77abd4 644px,#84b5da 705px,#95c1e0 709px,#96c2e0 713px)"></i>
<i style="background:linear-gradient(90deg,#97c2e0 0,#96c1e0 18px,#89b9db 22px,#8bbadc 28px,#96c1e0 30px,#b3d2e9 33px,#b9d6eb 71px,#b6d4ea 75px,#a4cae4 78px,#9dc6e2 91px,#95c1e0 98px,#8cbbdc 124px,#afd0e8 189px,#c9ddec 212px,#e5e2e2 233px,#f6ddd0 260px,#f8dccd 271px,#efe1d9 288px,#dbe1e8 331px,#bad6eb 366px,#a4cae5 388px,#91bfde 439px,#88b7db 487px,#94c0df 491px,#8bbadc 520px,#78acd5 523px,#76aad4 532px,#83b4d9 536px,#7eb0d7 550px,#69a1cf 553px,#659dce 582px,#669ece 616px,#6aa1d0 617px,#92bfdf 620px,#97c3e0 624px,#94c0df 635px,#77abd5 638px,#74a8d3 644px,#81b3d8 705px,#92c0df 709px,#93c0df 713px)"></i>
<i style="background:linear-gradient(90deg,#94c1df 0,#93c0df 18px,#86b6da 22px,#88b7db 28px,#93bfdf 30px,#afd0e8 33px,#b5d3ea 71px,#b2d2e9 75px,#9fc7e3 79px,#9ac4e1 91px,#91bfde 100px,#89b8db 124px,#9fc7e3 168px,#abcee7 190px,#c0daed 209px,#e5e2e3 235px,#f6ddd0 268px,#ede0da 291px,#dde2e8 324px,#bad7ec 360px,#a0c8e3 388px,#8cbadc 444px,#83b4d9 487px,#8fbdde 491px,#87b7db 520px,#74a9d3 523px,#72a7d3 532px,#7fb1d8 536px,#7aadd6 550px,#669ece 553px,#629bcc 585px,#629bcd 616px,#679fce 617px,#8fbdde 620px,#94c1df 624px,#91bede 635px,#74a9d3 638px,#70a6d2 644px,#7eb0d7 705px,#8fbdde 709px,#90bede 713px)"></i>
<i style="background:linear-gradient(90deg,#91bfde 0,#90bede 18px,#83b4d9 22px,#84b5d9 28px,#90bdde 30px,#abcee7 33px,#b1d1e9 71px,#aed0e8 75px,#9cc5e2 79px,#97c2e0 91px,#8fbddd 99px,#85b6da 124px,#9ac4e1 162px,#a5cae5 188px,#bad7ec 209px,#e0e2e7 232px,#f0e1d9 253px,#f4e0d6 272px,#dde2e8 320px,#bad7ec 354px,#9cc5e2 388px,#87b7db 442px,#7fb1d7 487px,#8abadc 491px,#83b4d9 520px,#70a6d2 523px,#6ea4d1 532px,#7baed6 536px,#77abd4 550px,#629bcd 553px,#5e98cb 587px,#5f99cb 616px,#639ccd 617px,#8cbbdc 620px,#91bede 624px,#8ebcdd 635px,#71a6d2 638px,#6da3d1 644px,#7baed6 705px,#8bbadc 709px,#8cbbdd 713px)"></i>
<i style="background:linear-gradient(90deg,#8ebcdd 0,#8cbbdc 18px,#7fb1d8 22px,#81b2d8 28px,#8cbadc 30px,#a8cce6 33px,#adcfe7 71px,#abcee7 75px,#99c4e1 79px,#94c0df 91px,#8cbadc 98px,#82b3d8 124px,#96c2e0 159px,#9fc7e3 187px,#b7d4ea 210px,#d0dfeb 227px,#e3e2e4 237px,#efe1d9 255px,#f0e1d9 278px,#dee2e8 317px,#c9ddec 333px,#a3c9e4 372px,#92bfdf 402px,#82b3d9 444px,#7aadd6 487px,#86b6da 491px,#7fb1d7 520px,#6ca3d0 523px,#6aa1d0 532px,#78abd5 536px,#73a8d3 550px,#5f98cb 553px,#5b95ca 591px,#5b96ca 616px,#6099cc 617px,#88b8db 620px,#8dbcdd 624px,#8ab9dc 635px,#6da4d1 638px,#6aa1d0 645px,#77abd5 705px,#88b8db 709px,#89b8db 713px)"></i>
<i style="background:linear-gradient(90deg,#8ab9dc 0,#88b8db 18px,#7baed6 22px,#7dafd7 28px,#88b8db 30px,#a3c9e4 33px,#a9cde6 71px,#a6cbe5 75px,#96c2e0 79px,#91bede 91px,#89b8db 96px,#7eb0d7 124px,#92bfdf 160px,#9bc5e2 188px,#b1d1e9 210px,#caddec 226px,#e3e2e4 239px,#efe1d9 258px,#ede0da 282px,#dde2e8 314px,#c5dced 332px,#96c2e0 382px,#7fb1d8 438px,#76aad4 487px,#81b3d8 491px,#7baed6 520px,#679fce 524px,#679ece 532px,#74a8d3 536px,#6fa5d2 550px,#5b96ca 553px,#5793c8 594px,#5893c9 616px,#5c97ca 617px,#84b5d9 620px,#89b9db 624px,#86b6da 635px,#6aa1d0 638px,#679fce 645px,#74a9d3 705px,#84b5d9 709px,#85b6da 713px)"></i>
<i style="background:linear-gradient(90deg,#85b6da 0,#84b5d9 18px,#77abd4 22px,#78acd5 28px,#84b4d9 30px,#9fc7e3 33px,#a4cae5 71px,#a2c9e4 75px,#92bfdf 79px,#8cbbdc 91px,#84b5d9 96px,#79acd5 124px,#8dbbdd 162px,#97c2e0 188px,#accee7 210px,#c9ddec 227px,#e3e2e4 241px,#efe0da 260px,#eae0dc 285px,#dce2e8 311px,#bbd7ec 337px,#91bfde 382px,#7baed6 438px,#72a7d2 487px,#7db0d7 491px,#77abd4 520px,#639ccd 524px,#639ccd 532px,#70a6d2 536px,#6ca2d0 550px,#5793c9 553px,#5490c7 597px,#5491c7 616px,#5994c9 617px,#81b2d8 620px,#86b6da 624px,#82b3d9 635px,#669ece 638px,#639ccd 645px,#70a6d2 705px,#81b2d8 709px,#82b3d8 713px)"></i>
<i style="background:linear-gradient(90deg,#81b2d8 0,#7fb1d8 18px,#72a7d3 22px,#74a8d3 28px,#7fb1d7 30px,#9ac4e1 33px,#a0c7e3 71px,#9ec6e2 75px,#8dbcdd 79px,#87b7db 91px,#7fb1d8 96px,#74a9d3 124px,#88b7db 164px,#91bede 187px,#a5cae5 209px,#c8dded 228px,#e3e2e5 243px,#eee0da 262px,#e7e1e0 288px,#d8e1e9 309px,#b9d6eb 333px,#8abadc 384px,#76aad4 441px,#6ea4d1 487px,#79acd5 491px,#73a8d3 520px,#5f99cc 524px,#5f99cc 532px,#6ca3d0 536px,#68a0cf 550px,#5490c7 553px,#508ec6 601px,#518ec6 616px,#5591c8 617px,#7dafd7 620px,#82b3d8 624px,#7eb1d7 635px,#639ccd 638px,#609acc 646px,#6da3d1 705px,#7db0d7 709px,#7eb0d7 713px)"></i>
<i style="background:linear-gradient(90deg,#7cafd6 0,#7baed6 18px,#6ea4d1 22px,#6fa5d2 28px,#7badd6 30px,#96c1e0 33px,#9bc5e2 71px,#99c3e1 75px,#89b8db 79px,#83b4d9 91px,#7aadd6 97px,#70a6d2 125px,#82b3d9 166px,#8cbbdc 188px,#a2c8e4 210px,#c9ddec 230px,#e3e2e4 246px,#ede0da 266px,#e4e2e3 290px,#c8dded 317px,#a7cbe5 345px,#83b4d9 389px,#70a6d2 446px,#6aa1cf 487px,#75a9d4 491px,#6fa5d1 520px,#5c96ca 524px,#5c96ca 532px,#69a0cf 536px,#659dcd 550px,#518ec6 553px,#4e8cc5 616px,#528fc6 617px,#79add5 620px,#7eb0d7 624px,#7baed6 635px,#6099cc 638px,#5d97cb 646px,#6aa1cf 705px,#7aadd5 709px,#7baed6 713px)"></i>
<i style="background:linear-gradient(90deg,#77abd5 0,#76aad4 18px,#69a0cf 22px,#6ba2d0 28px,#76aad4 30px,#92bfde 33px,#97c2e0 71px,#95c1df 75px,#84b5d9 79px,#7eb0d7 91px,#76aad4 97px,#6ba2d0 125px,#7db0d7 170px,#88b7db 190px,#9dc6e2 210px,#c9ddec 232px,#e4e2e4 249px,#ebe0db 270px,#dce2e8 296px,#bad6eb 322px,#96c2e0 358px,#7db0d7 389px,#6ba2d0 450px,#669ece 487px,#71a6d2 491px,#6ba2d0 520px,#5894c9 524px,#5894c9 532px,#659dce 536px,#619acc 550px,#4e8cc5 553px,#4c8ac4 616px,#508dc5 617px,#76aad4 620px,#7aadd6 625px,#77abd4 635px,#5c97ca 638px,#5995c9 646px,#669ece 705px,#76aad4 709px,#77abd4 713px)"></i>
<i style="background:linear-gradient(90deg,#73a8d3 0,#71a7d2 18px,#659dcd 22px,#669ece 28px,#71a7d2 30px,#8dbbdd 33px,#93c0df 69px,#90bede 75px,#7fb1d8 79px,#79add5 91px,#71a6d2 97px,#679fce 125px,#79acd5 175px,#8ebddd 205px,#c7dced 233px,#e4e2e4 252px,#e9e1dd 272px,#dbe1e8 293px,#bbd7ec 316px,#a1c8e3 339px,#78acd5 388px,#669ece 455px,#629bcc 487px,#6da3d1 491px,#679fce 520px,#5491c7 524px,#5491c7 532px,#619bcc 536px,#5e98cb 550px,#4a89c3 554px,#4a89c3 616px,#4e8cc4 617px,#72a7d3 620px,#77abd4 626px,#73a8d3 635px,#5994c9 638px,#5692c8 647px,#639ccd 705px,#73a8d3 709px,#73a8d3 713px)"></i>
<i style="background:linear-gradient(90deg,#6fa5d1 0,#6da4d1 18px,#619acc 22px,#629bcd 28px,#77abd4 31px,#88b7db 33px,#8ebcdd 69px,#8bbadc 75px,#7baed6 79px,#75aad4 91px,#6da3d1 97px,#639ccd 125px,#7baed6 188px,#8fbddd 208px,#c7dced 235px,#e4e2e4 254px,#e7e1e0 274px,#dae1e9 291px,#bad6eb 311px,#9cc5e2 339px,#74a9d3 388px,#629bcd 457px,#5f99cb 487px,#69a1cf 491px,#649dcd 520px,#518fc6 524px,#528fc6 532px,#5e98cb 536px,#5b96ca 550px,#4988c2 554px,#4988c2 616px,#4c8ac3 617px,#6fa5d1 620px,#74a8d3 626px,#71a6d2 635px,#5692c8 638px,#5490c7 647px,#609acc 705px,#6fa5d2 709px,#70a6d2 713px)"></i>
<i style="background:linear-gradient(90deg,#6ba2d0 0,#6aa1d0 18px,#5d97cb 22px,#5f99cb 28px,#73a8d3 31px,#83b4d9 33px,#8ab9dc 69px,#87b7da 75px,#78abd5 79px,#72a7d2 91px,#6aa1cf 97px,#609acc 125px,#78abd5 188px,#8bbadc 208px,#c7dced 237px,#e3e3e5 255px,#e5e2e2 274px,#d9e1e9 289px,#bad6eb 307px,#9bc4e1 336px,#72a7d3 389px,#619acc 454px,#5d97ca 487px,#679fce 491px,#629bcc 520px,#4f8dc5 524px,#508dc6 532px,#5c97ca 536px,#5994c9 550px,#4887c1 554px,#4887c1 616px,#4b89c3 617px,#6da4d1 620px,#72a7d2 627px,#6fa5d1 635px,#5591c7 638px,#528fc7 648px,#5e98cb 705px,#6da3d1 709px,#6ea4d1 713px)"></i>
<i style="background:linear-gradient(90deg,#68a0cf 0,#669ece 18px,#5a95c9 22px,#5b96ca 28px,#6fa5d2 31px,#7fb1d7 33px,#85b6da 69px,#83b4d9 75px,#74a9d3 79px,#6ea4d1 91px,#669ece 97px,#5e98cb 126px,#74a9d3 188px,#87b7db 208px,#c6dced 239px,#e2e3e6 257px,#e3e2e4 276px,#cbddec 296px,#afd0e8 312px,#93c0df 342px,#70a6d2 390px,#5f99cb 452px,#5a95ca 487px,#659dce 491px,#5f99cc 520px,#4e8cc5 524px,#4e8cc5 532px,#5a95ca 536px,#5792c8 550px,#4686c1 554px,#4786c1 616px,#4a88c2 617px,#6ba2d0 620px,#70a5d2 627px,#6da3d1 635px,#5390c7 638px,#518ec6 649px,#5b96ca 705px,#6aa1d0 709px,#6ba2d0 713px)"></i>
<i style="background:linear-gradient(90deg,#649dcd 0,#639ccd 18px,#5692c8 22px,#5893c9 28px,#6ca2d0 31px,#7baed6 33px,#81b3d8 69px,#7eb0d7 75px,#70a6d2 79px,#6ba2d0 91px,#639ccd 97px,#5b96ca 126px,#71a6d2 188px,#86b6da 209px,#c6dced 241px,#e2e3e6 260px,#e0e3e7 278px,#bed9ed 301px,#accee7 310px,#85b6da 354px,#6ca3d0 395px,#5c97ca 454px,#5894c9 487px,#639ccd 491px,#5d97cb 520px,#4d8bc4 524px,#4d8bc4 532px,#5893c9 536px,#5591c7 550px,#4585c0 554px,#4685c0 616px,#4987c2 617px,#69a1cf 620px,#6ea4d1 628px,#6ba2d0 635px,#518ec6 638px,#4f8dc5 652px,#5994c9 705px,#689fcf 709px,#68a0cf 713px)"></i>
<i style="background:linear-gradient(90deg,#619acc 0,#6099cc 18px,#5390c7 22px,#5491c7 28px,#68a0cf 31px,#77abd4 33px,#7dafd7 69px,#7aadd6 75px,#6da3d1 79px,#679fce 91px,#6099cc 97px,#5994c9 127px,#6ca3d0 187px,#82b3d9 209px,#c4dced 242px,#e1e3e6 263px,#dde2e8 277px,#bed9ed 299px,#a8cce6 309px,#7fb1d8 358px,#679fce 404px,#5591c8 485px,#5d97cb 489px,#6099cc 498px,#5b96ca 520px,#4b8ac3 524px,#4e8cc5 533px,#5692c8 537px,#538fc7 550px,#4484bf 554px,#4584c0 616px,#518ec5 618px,#679fce 620px,#6ca2d0 629px,#69a0cf 635px,#508ec6 638px,#4f8dc5 661px,#5692c8 705px,#659dce 709px,#669ece 713px)"></i>
<i style="background:linear-gradient(90deg,#5e98cb 0,#5c97ca 18px,#508dc6 22px,#518ec6 28px,#649dcd 31px,#73a8d3 33px,#79acd5 69px,#76aad4 75px,#69a1cf 79px,#649ccd 91px,#5c97ca 97px,#5692c8 128px,#69a0cf 187px,#7eb0d7 209px,#c6dced 245px,#dfe2e7 265px,#d9e1e9 277px,#bdd8ec 297px,#a3c9e4 309px,#7baed6 360px,#5d98cb 424px,#5490c7 487px,#5e98cb 491px,#5994c9 520px,#4a89c3 524px,#4d8bc4 533px,#5490c7 537px,#508ec6 550px,#4383bf 554px,#4483bf 616px,#508dc4 618px,#669ece 620px,#6aa1cf 630px,#679fce 635px,#4f8dc5 638px,#4f8dc5 677px,#5491c7 705px,#629bcd 709px,#639ccd 713px)"></i>
<i style="background:linear-gradient(90deg,#5a95ca 0,#5994c9 18px,#4d8bc4 22px,#4e8cc5 28px,#619acc 31px,#6ea4d1 33px,#75a9d4 69px,#6fa5d1 76px,#669ece 79px,#609acc 91px,#5994c9 97px,#5490c7 128px,#669ece 187px,#7cafd6 210px,#bed9ed 243px,#dae1e9 264px,#d5e0ea 276px,#bad6eb 296px,#9ec6e2 309px,#7dafd7 351px,#5b96ca 427px,#528fc6 487px,#5c96ca 491px,#5793c8 520px,#4988c2 524px,#4b8ac3 533px,#518ec6 538px,#4e8cc5 550px,#4282be 554px,#4382bf 616px,#4e8cc4 618px,#649ccd 620px,#689fcf 631px,#659dce 635px,#4e8cc5 638px,#508ec6 704px,#6099cc 709px,#609acc 713px)"></i>
<i style="background:linear-gradient(90deg,#5793c8 0,#5592c8 18px,#4b8ac3 22px,#4c8bc4 28px,#5d97cb 31px,#6aa1d0 33px,#70a6d2 69px,#6ba2d0 76px,#629bcc 80px,#5d97cb 91px,#5692c8 97px,#518fc6 130px,#629bcd 187px,#79acd5 210px,#b8d5eb 243px,#d3dfea 261px,#d4e0ea 273px,#b9d6eb 294px,#99c3e1 309px,#7fb1d7 342px,#5893c9 431px,#508dc6 487px,#5a95c9 491px,#5591c7 520px,#4887c2 524px,#4a88c3 533px,#4f8dc5 538px,#4d8bc4 550px,#4081bd 554px,#4181be 616px,#4d8ac3 618px,#629bcc 620px,#669ece 633px,#639ccd 635px,#4d8bc4 638px,#4f8dc5 705px,#5d97cb 709px,#5e98cb 713px)"></i>
<i style="background:linear-gradient(90deg,#5390c7 0,#508dc5 19px,#4988c2 23px,#4d8bc4 29px,#669ece 33px,#6ca3d0 69px,#679fce 76px,#5e98cb 80px,#5994c9 91px,#528fc7 97px,#4f8dc5 133px,#6099cc 187px,#77abd5 211px,#b6d4ea 244px,#cedeeb 260px,#d0dfeb 272px,#b8d5eb 292px,#95c1e0 309px,#7dafd7 340px,#5591c8 433px,#4e8cc5 487px,#5793c8 492px,#528fc6 520px,#4786c1 524px,#4887c2 533px,#4d8bc5 539px,#4b8ac3 550px,#3f7fbd 554px,#4080bd 616px,#4c89c2 618px,#6099cb 620px,#639ccd 634px,#5b96ca 636px,#4c8ac3 638px,#4e8cc5 705px,#5b96ca 709px,#5b96ca 713px)"></i>
<i style="background:linear-gradient(90deg,#508ec6 0,#4d8bc4 19px,#4786c1 25px,#4b89c3 29px,#639ccd 33px,#69a0cf 69px,#639ccd 76px,#5b96ca 80px,#5692c8 91px,#4f8dc5 97px,#4e8cc5 138px,#5f99cc 188px,#77abd5 212px,#accee7 241px,#c8dded 258px,#cddeeb 271px,#b5d4ea 291px,#93c0df 309px,#7aadd5 342px,#528fc7 433px,#4c8bc4 487px,#5491c7 492px,#508dc5 520px,#4585c0 524px,#4786c1 533px,#4c8ac4 540px,#4a88c3 550px,#3e7ebc 554px,#3f7fbd 616px,#4a88c2 618px,#5d98cb 620px,#619acc 634px,#5994c9 636px,#4b89c3 638px,#4c8bc4 705px,#5894c9 709px,#5994c9 713px)"></i>
<i style="background:linear-gradient(90deg,#4d8bc5 0,#4b89c3 19px,#4685c0 26px,#4d8bc4 30px,#5f99cb 33px,#659dce 69px,#5f99cc 76px,#5793c9 80px,#528fc7 91px,#4c8bc4 99px,#4c8bc4 140px,#5e98cb 188px,#75aad4 212px,#9dc6e2 235px,#c7dced 260px,#c9dded 273px,#aacde6 295px,#8fbddd 310px,#74a8d3 349px,#4f8dc6 433px,#4d8bc4 488px,#518ec6 494px,#4d8bc5 520px,#4483bf 525px,#4685c0 533px,#4a89c3 540px,#4887c2 550px,#3d7dbb 554px,#3e7ebc 616px,#4887c1 618px,#5b96ca 620px,#5f99cb 634px,#5793c8 636px,#4988c2 638px,#4b89c3 705px,#5692c8 709px,#5692c8 713px)"></i>
<i style="background:linear-gradient(90deg,#4c8ac4 0,#4988c2 19px,#4483bf 26px,#4b89c3 30px,#5b96ca 33px,#619acc 69px,#5c96ca 76px,#5490c7 80px,#4d8bc4 92px,#4988c2 132px,#5a95ca 184px,#75a9d4 213px,#94c0df 232px,#c5dced 262px,#c2dbee 276px,#94c1df 304px,#7eb0d7 327px,#4e8cc5 430px,#4b89c3 488px,#4e8cc5 497px,#4988c2 521px,#4282be 525px,#4484c0 533px,#4988c2 540px,#4786c1 550px,#3b7cbb 554px,#3d7dbb 616px,#4786c0 618px,#5994c9 620px,#5b96ca 635px,#4887c2 638px,#4a88c3 705px,#5490c7 710px,#5490c7 713px)"></i>
<i style="background:linear-gradient(90deg,#4a88c3 0,#4786c1 19px,#4282be 26px,#4988c2 30px,#5994c9 34px,#5d97ca 71px,#5894c9 76px,#508ec6 81px,#4786c1 112px,#518ec6 168px,#6ba2d0 207px,#8cbbdc 230px,#c2dbee 264px,#bdd8ec 276px,#8fbddd 305px,#73a8d3 343px,#4c8bc4 428px,#4988c2 488px,#4c8bc4 499px,#4887c2 521px,#4181be 525px,#4383bf 533px,#4887c1 540px,#4685c0 550px,#3a7bba 554px,#3e7ebc 617px,#5793c8 620px,#5994c9 635px,#4786c1 638px,#4887c2 705px,#518ec6 710px,#518fc6 713px)"></i>
<i style="background:linear-gradient(90deg,#4887c2 0,#4585c0 19px,#4080bd 26px,#4786c1 30px,#5592c8 34px,#5994c9 71px,#5491c7 76px,#4d8bc5 81px,#4483bf 122px,#5692c8 181px,#74a9d3 216px,#8dbbdd 232px,#bcd8ec 264px,#b7d5eb 276px,#8dbcdd 304px,#79acd5 328px,#4b8ac3 425px,#4786c1 488px,#4b89c3 500px,#4685c1 521px,#3f80bd 525px,#4181be 533px,#4685c1 540px,#4484c0 550px,#397ab9 554px,#3d7dbb 617px,#5591c7 620px,#5792c8 635px,#4484bf 639px,#4988c2 706px,#4f8dc5 712px,#4f8dc5 713px)"></i>
<i style="background:linear-gradient(90deg,#4685c1 0,#4483bf 19px,#3f7fbc 26px,#4584c0 30px,#528fc6 34px,#5591c8 70px,#4f8cc5 77px,#4483bf 107px,#4786c1 141px,#5893c9 185px,#76abd4 220px,#8fbddd 235px,#b6d4ea 264px,#b1d1e9 276px,#8ab9db 304px,#71a7d2 338px,#4a88c3 423px,#4685c1 488px,#4988c2 500px,#4584c0 521px,#3e7ebc 525px,#4080bd 533px,#4584c0 540px,#4383bf 550px,#3779b8 554px,#3c7cbb 617px,#538fc6 620px,#5491c7 635px,#4383bf 639px,#4887c1 706px,#4d8bc5 712px,#4d8bc5 713px)"></i>
<i style="background:linear-gradient(90deg,#4484c0 0,#4282be 19px,#3d7dbb 26px,#4383bf 30px,#4e8cc5 34px,#528fc6 70px,#4988c2 87px,#4181be 112px,#4b89c3 160px,#639ccd 202px,#81b2d8 230px,#9dc6e2 248px,#b0d1e8 265px,#aacde6 277px,#89b9db 302px,#7dafd7 314px,#4988c2 419px,#4484c0 488px,#4887c2 500px,#4383bf 521px,#3d7dbb 525px,#3f7fbd 533px,#4483bf 540px,#4282be 550px,#3678b8 554px,#3a7bba 617px,#508ec6 620px,#528fc6 635px,#4282be 639px,#4686c1 706px,#4c8ac4 712px,#4c8ac4 713px)"></i>
<i style="background:linear-gradient(90deg,#4382bf 0,#4080bd 19px,#3b7cba 26px,#4181be 30px,#4c8ac4 34px,#4d8bc5 74px,#4181be 102px,#4282be 134px,#5592c8 185px,#7aadd6 228px,#98c3e0 247px,#aacde6 265px,#a4cae4 277px,#85b6da 302px,#79acd5 317px,#4887c2 417px,#4383bf 488px,#4686c1 500px,#4282be 521px,#3b7cbb 525px,#3d7ebc 533px,#4282be 540px,#4080bd 550px,#3476b7 554px,#397ab9 617px,#4e8cc5 620px,#508ec6 635px,#4181be 639px,#4584c0 706px,#4b89c3 712px,#4b89c3 713px)"></i>
<i style="background:linear-gradient(90deg,#4181be 0,#3e7fbc 19px,#397ab9 26px,#4080bd 30px,#4a89c3 34px,#4b89c3 75px,#3e7fbc 105px,#4080bd 134px,#5692c8 187px,#7aadd5 230px,#95c1e0 250px,#a3c9e4 265px,#9ec7e3 277px,#79acd5 311px,#4786c1 416px,#4181be 488px,#4584c0 500px,#4181be 521px,#3a7bba 526px,#3c7dbb 533px,#4181be 540px,#3f7fbd 550px,#3375b6 554px,#3879b9 617px,#4c8ac4 620px,#4e8cc5 635px,#3f80bd 639px,#4483bf 706px,#4988c2 712px,#4988c2 713px)"></i>
<i style="background:linear-gradient(90deg,#3f80bd 0,#3d7ebc 19px,#3879b9 26px,#3e7fbc 30px,#4987c2 34px,#4988c2 75px,#3d7ebc 105px,#3e7fbc 134px,#5592c8 189px,#77abd4 230px,#93c0df 252px,#9fc7e3 265px,#9ac4e1 277px,#76aad4 311px,#4686c1 415px,#4080bd 488px,#4483bf 501px,#3f80bd 521px,#397ab9 526px,#3b7cba 533px,#4080bd 540px,#3e7ebc 550px,#3274b5 554px,#3778b8 617px,#4b89c3 620px,#4d8bc4 635px,#3f7fbc 639px,#4382bf 706px,#4887c2 712px,#4887c2 713px)"></i>
<i style="background:linear-gradient(90deg,#3f7fbc 0,#3c7dbb 19px,#3779b8 26px,#3d7ebc 30px,#4786c1 34px,#4887c2 75px,#3c7cbb 106px,#3d7ebc 134px,#5591c8 192px,#76aad4 231px,#9cc5e2 262px,#99c3e1 276px,#75a9d4 311px,#4686c1 412px,#3f80bd 488px,#4383bf 501px,#3f7fbc 521px,#3879b9 526px,#3a7bba 533px,#3f7fbd 540px,#3d7ebc 550px,#3174b5 554px,#3678b8 617px,#4a89c3 620px,#4c8ac4 635px,#3e7ebc 639px,#4282be 706px,#4786c1 713px)"></i>
<i style="background:linear-gradient(90deg,#3e7ebc 0,#3b7cbb 19px,#3678b8 26px,#3c7dbb 30px,#4686c1 34px,#4786c1 75px,#3a7bba 107px,#3c7cbb 134px,#5591c8 195px,#74a8d3 231px,#9ac4e1 264px,#95c1e0 277px,#73a8d3 312px,#4685c1 410px,#3f7fbc 488px,#4282be 501px,#3e7ebc 521px,#3778b8 526px,#397ab9 533px,#3e7ebc 540px,#3c7dbb 550px,#3073b5 554px,#3577b7 617px,#4988c2 620px,#4b89c3 635px,#3d7ebc 639px,#4181be 706px,#4786c1 713px)"></i>
<i style="background:linear-gradient(90deg,#3d7dbb 0,#3a7bba 19px,#3577b7 26px,#3b7cbb 30px,#4585c0 34px,#4685c1 75px,#397ab9 108px,#3a7bba 135px,#5591c8 198px,#73a8d3 232px,#97c3e0 264px,#93c0df 277px,#71a6d2 312px,#4685c1 407px,#3c7dbb 487px,#4181be 496px,#3d7dbb 521px,#3678b8 526px,#387ab9 533px,#3d7ebc 540px,#3b7cbb 550px,#2f72b4 554px,#3476b7 617px,#4887c2 620px,#4a89c3 635px,#3c7dbb 639px,#4081bd 706px,#4685c1 713px)"></i>
<i style="background:linear-gradient(90deg,#3c7dbb 0,#397ab9 19px,#3476b7 26px,#3a7bba 30px,#4484c0 34px,#4584c0 75px,#3879b9 109px,#397bb9 136px,#5491c7 200px,#72a7d2 233px,#95c1e0 265px,#90bdde 277px,#70a5d2 312px,#4786c1 403px,#3c7dbb 474px,#3d7dbb 488px,#4080bd 501px,#3c7dbb 521px,#3577b7 526px,#3779b8 533px,#3c7dbb 540px,#3a7bba 550px,#2f71b4 554px,#3376b6 617px,#4887c1 620px,#4988c2 635px,#3c7cbb 639px,#4080bd 706px,#4585c0 713px)"></i>
<i style="background:linear-gradient(90deg,#3b7cba 0,#387ab9 19px,#3375b6 26px,#397bba 30px,#4383bf 34px,#4483bf 75px,#3678b8 111px,#397ab9 139px,#5591c7 203px,#72a7d3 235px,#93c0df 266px,#8cbbdd 277px,#6ea4d1 312px,#4786c1 399px,#3d7dbb 457px,#3c7dbb 488px,#3f80bd 501px,#3b7cba 521px,#3476b7 526px,#3778b8 533px,#3b7cbb 540px,#3a7bba 550px,#2e71b3 554px,#3375b6 617px,#4786c1 620px,#4987c2 635px,#3b7cba 639px,#3f7fbd 706px,#4484c0 713px)"></i>
<i style="background:linear-gradient(90deg,#3a7bba 0,#3779b8 19px,#3275b6 26px,#397ab9 30px,#4282bf 35px,#4383bf 75px,#3476b7 113px,#3a7bba 148px,#5692c8 207px,#73a8d3 238px,#90bede 266px,#88b8db 278px,#6ca3d0 313px,#4786c1 396px,#3c7dbb 452px,#3b7cba 488px,#3e7fbc 502px,#3a7bba 521px,#3376b6 526px,#3677b8 533px,#3a7cba 540px,#397ab9 550px,#2d70b3 554px,#3274b5 617px,#4685c1 620px,#4887c2 635px,#3a7bba 639px,#3e7fbc 706px,#4483bf 713px)"></i>
<i style="background:linear-gradient(90deg,#397ab9 0,#3778b8 19px,#3274b5 26px,#3879b9 30px,#4181be 35px,#4282be 75px,#3375b6 115px,#3e7fbc 163px,#5793c8 211px,#83b4d9 256px,#8dbbdd 268px,#6aa1d0 313px,#4786c1 394px,#3b7cbb 450px,#3a7bba 488px,#3d7ebc 502px,#397bba 521px,#3375b6 526px,#3577b7 533px,#3a7bba 540px,#3879b9 550px,#2c6fb2 554px,#3174b5 617px,#4585c0 620px,#4786c1 635px,#397bba 639px,#3e7ebc 706px,#4383bf 713px)"></i>
<i style="background:linear-gradient(90deg,#387ab9 0,#3677b7 19px,#3173b5 26px,#3a7bba 31px,#4081bd 36px,#4181be 75px,#3173b5 118px,#4181be 173px,#5893c9 215px,#8ab9dc 267px,#69a0cf 313px,#4786c1 392px,#3b7cba 449px,#397bba 488px,#3d7dbb 502px,#387ab9 521px,#3274b5 526px,#3476b7 533px,#397ab9 540px,#3779b8 550px,#2b6fb2 554px,#3073b4 617px,#4484c0 620px,#4685c1 635px,#397ab9 639px,#3d7dbb 706px,#4282be 713px)"></i>
<i style="background:linear-gradient(90deg,#3779b8 0,#3577b7 19px,#3072b4 26px,#397bba 31px,#4080bd 37px,#4080bd 75px,#2f72b4 120px,#4181be 177px,#5894c9 218px,#87b7da 268px,#68a0cf 309px,#518fc6 359px,#3b7cba 437px,#387ab9 488px,#3c7dbb 502px,#3879b9 521px,#3173b5 526px,#3375b6 533px,#3879b9 540px,#3678b8 550px,#2a6eb1 554px,#3072b4 617px,#4483bf 620px,#4585c0 635px,#3879b9 639px,#3c7dbb 706px,#4181be 713px)"></i>
<i style="background:linear-gradient(90deg,#3678b8 0,#3476b6 19px,#2f72b4 26px,#397ab9 31px,#3f7fbc 37px,#3e7ebc 76px,#2e71b3 123px,#4383bf 182px,#5995c9 221px,#85b5da 268px,#689fcf 308px,#5390c7 354px,#3b7cba 435px,#3879b9 488px,#3b7cba 502px,#3779b8 521px,#3073b4 526px,#3275b6 533px,#3779b8 540px,#3577b7 550px,#2a6db1 554px,#2f72b4 617px,#4383bf 620px,#4584c0 635px,#3779b8 639px,#3c7cbb 706px,#4181be 713px)"></i>
<i style="background:linear-gradient(90deg,#3677b7 0,#3375b6 19px,#2e71b3 26px,#3879b9 31px,#3e7ebc 37px,#3d7ebc 76px,#2d70b3 123px,#4181be 178px,#5894c9 220px,#84b5d9 268px,#689fcf 308px,#5591c7 352px,#3a7bba 434px,#3779b8 488px,#3b7cba 502px,#3678b8 521px,#3073b4 526px,#3274b5 533px,#3778b8 540px,#3577b7 550px,#296db1 554px,#2e71b3 617px,#4282bf 620px,#4484c0 635px,#3778b8 639px,#3b7cbb 706px,#4181be 713px)"></i>
<i style="background:linear-gradient(90deg,#3577b7 0,#3275b6 19px,#2d71b3 26px,#3779b8 31px,#3d7ebc 37px,#3c7dbb 76px,#2c70b2 123px,#3f7fbd 175px,#5894c9 220px,#84b4d9 268px,#679fce 309px,#5591c7 352px,#3a7bba 434px,#3778b8 488px,#3a7bba 502px,#3678b8 521px,#2f72b4 526px,#3274b5 533px,#3678b8 540px,#3577b7 550px,#296db0 554px,#2e71b3 617px,#4282be 620px,#4483bf 635px,#3678b8 639px,#3b7cbb 706px,#4181be 713px)"></i>
<i style="background:linear-gradient(90deg,#3476b7 0,#3274b5 19px,#2d70b3 26px,#3678b8 31px,#3c7dbb 37px,#3b7cbb 76px,#2c6fb2 123px,#3d7ebc 173px,#5894c9 220px,#83b4d9 268px,#679fce 310px,#5591c7 352px,#397bba 434px,#3678b8 488px,#3a7bba 502px,#3677b7 521px,#2f72b4 526px,#3174b5 533px,#3678b8 540px,#3476b7 550px,#286cb0 554px,#2e71b3 617px,#4281be 620px,#4383bf 635px,#3678b8 639px,#3b7cba 706px,#4081bd 713px)"></i>
<i style="background:linear-gradient(90deg,#3476b6 0,#3174b5 19px,#2c6fb2 26px,#3677b7 31px,#3b7cbb 37px,#3b7cba 76px,#2b6eb1 123px,#3c7dbb 171px,#5893c9 220px,#82b4d9 268px,#669ece 311px,#5490c7 353px,#397ab9 434px,#3677b7 488px,#397ab9 503px,#3577b7 521px,#2e71b3 526px,#3173b5 533px,#3677b7 540px,#3476b6 550px,#286cb0 554px,#2d70b3 617px,#4181be 620px,#4383bf 635px,#3577b7 639px,#3b7cba 706px,#4080bd 713px)"></i>
<i style="background:linear-gradient(90deg,#3375b6 0,#3073b4 19px,#2b6fb2 26px,#3577b7 31px,#3b7cba 37px,#3a7bba 76px,#2a6eb1 124px,#3b7cba 170px,#5894c9 221px,#82b3d9 268px,#669ece 311px,#5591c7 352px,#397ab9 434px,#3577b7 488px,#387ab9 503px,#3577b7 521px,#2e71b3 526px,#3073b5 533px,#3577b7 540px,#3376b6 550px,#286cb0 554px,#2d70b2 617px,#4181be 620px,#4282bf 635px,#3577b7 639px,#3b7cba 706px,#4080bd 713px)"></i>
<i style="background:linear-gradient(90deg,#3274b5 0,#3072b4 19px,#2b6eb1 26px,#3476b7 31px,#3a7bba 37px,#397ab9 76px,#2a6db1 124px,#397bba 168px,#5894c9 221px,#81b3d8 268px,#669ece 312px,#5591c7 352px,#387ab9 434px,#3577b7 488px,#3879b9 503px,#3476b7 521px,#2e71b3 526px,#3073b4 533px,#3577b7 540px,#3375b6 550px,#276bb0 554px,#2c6fb2 617px,#4080bd 620px,#4282be 635px,#3476b7 639px,#3a7bba 706px,#4080bd 713px)"></i>
<i style="background:linear-gradient(90deg,#3174b5 0,#2f72b4 19px,#2a6db1 26px,#3375b6 31px,#397ab9 37px,#387ab9 76px,#296db0 124px,#387ab9 167px,#5994c9 222px,#81b2d8 268px,#669ece 313px,#5490c7 353px,#3879b9 434px,#3476b7 488px,#3779b8 503px,#3476b6 521px,#2d70b3 526px,#2f72b4 533px,#3476b7 540px,#3375b6 550px,#276baf 554px,#2c6fb2 617px,#4080bd 620px,#4181be 635px,#3476b7 639px,#3a7bba 706px,#4080bd 713px)"></i>
<i style="background:linear-gradient(90deg,#3173b5 0,#2e71b3 19px,#296db1 26px,#3375b6 31px,#387ab9 38px,#3879b9 76px,#286cb0 124px,#3779b8 166px,#5994c9 222px,#80b2d8 268px,#659ece 313px,#5591c7 352px,#3779b8 434px,#3476b6 488px,#3779b8 503px,#3375b6 521px,#2d70b3 526px,#2f72b4 533px,#3476b6 540px,#3275b6 550px,#276baf 554px,#2b6fb2 617px,#3f80bd 620px,#4181be 635px,#3476b6 639px,#3a7bba 706px,#4080bd 713px)"></i>
<i style="background:linear-gradient(90deg,#3073b4 0,#2d70b3 19px,#286cb0 26px,#3274b5 31px,#3879b9 38px,#3778b8 76px,#276baf 124px,#3678b8 165px,#5894c9 222px,#7fb1d8 268px,#659dce 314px,#5490c7 353px,#3779b8 434px,#3375b6 488px,#3678b8 503px,#3375b6 521px,#2c70b2 526px,#2f71b4 533px,#3376b6 540px,#3274b5 550px,#266aaf 554px,#2b6eb1 617px,#3f7fbd 620px,#4081bd 635px,#3375b6 639px,#3a7bba 706px,#3f80bd 713px)"></i>
<i style="background:linear-gradient(90deg,#2f72b4 0,#2d70b2 19px,#286cb0 26px,#3174b5 31px,#3778b8 38px,#3678b8 76px,#276baf 124px,#3577b7 164px,#5994c9 223px,#7fb1d7 268px,#659dce 314px,#5591c7 352px,#3778b8 433px,#3375b6 488px,#3678b8 503px,#3275b6 521px,#2c6fb2 526px,#2e71b3 533px,#3375b6 540px,#3174b5 550px,#266aaf 554px,#2a6eb1 617px,#3e7fbc 620px,#4080bd 635px,#3375b6 639px,#3a7bba 706px,#3f80bd 713px)"></i>
<i style="background:linear-gradient(90deg,#2e71b3 0,#2c6fb2 19px,#276baf 26px,#3073b5 31px,#3678b8 38px,#3577b7 76px,#266aaf 124px,#3476b7 164px,#5994c9 223px,#7eb0d7 268px,#659dce 314px,#5591c8 351px,#3778b8 429px,#3274b5 488px,#3577b7 503px,#3274b5 521px,#2b6fb2 526px,#2e71b3 533px,#3375b6 540px,#3174b5 550px,#256aae 554px,#2a6eb1 617px,#3e7ebc 620px,#3f80bd 635px,#3275b6 639px,#397bba 706px,#3f7fbd 713px)"></i>
<i style="background:linear-gradient(90deg,#2e71b3 0,#2b6fb2 19px,#276baf 26px,#3073b4 31px,#3677b7 38px,#3577b7 76px,#256aae 124px,#3375b6 163px,#5995c9 224px,#7db0d7 268px,#659dce 314px,#5692c8 350px,#3778b8 426px,#3274b5 488px,#3577b7 503px,#3274b5 521px,#2b6fb2 526px,#2d71b3 533px,#3275b6 540px,#3173b5 550px,#2569ae 554px,#2a6db1 617px,#3e7ebc 620px,#3f7fbd 635px,#3274b5 639px,#397bba 706px,#3f7fbd 713px)"></i>
<i style="background:linear-gradient(90deg,#2e71b3 0,#2b6fb2 19px,#266aaf 26px,#3072b4 31px,#3577b7 38px,#3476b7 76px,#2569ae 124px,#3375b6 163px,#5994c9 224px,#7dafd7 268px,#649dcd 314px,#5692c8 348px,#3779b8 423px,#3274b5 488px,#3577b7 503px,#3174b5 521px,#2b6eb2 526px,#2d70b3 533px,#3275b6 540px,#3173b5 550px,#2569ae 554px,#2a6db1 617px,#3d7ebc 620px,#3f7fbd 635px,#3274b5 639px,#397ab9 706px,#3f7fbd 713px)"></i>
<i style="background:linear-gradient(90deg,#2e71b3 0,#2b6eb2 19px,#266aaf 26px,#2f72b4 31px,#3577b7 38px,#3476b7 76px,#2569ae 124px,#3375b6 163px,#5995c9 225px,#7dafd7 268px,#649dcd 314px,#5793c8 347px,#3779b8 422px,#3174b5 488px,#3577b7 503px,#3174b5 521px,#2b6eb1 526px,#2d70b3 533px,#3274b6 540px,#3173b5 550px,#2569ae 554px,#296db1 617px,#3d7ebc 620px,#3f7fbd 635px,#3274b5 639px,#397ab9 706px,#3f7fbc 713px)"></i>
<i style="background:linear-gradient(90deg,#2d70b3 0,#2b6eb1 19px,#266aaf 26px,#2f72b4 31px,#3577b7 38px,#3476b6 76px,#2569ae 124px,#3375b6 163px,#5994c9 225px,#7cafd6 268px,#649ccd 313px,#5894c9 344px,#3b7cba 411px,#3174b5 488px,#3577b7 503px,#3174b5 521px,#2b6eb1 526px,#2d70b3 533px,#3274b5 540px,#3073b5 550px,#2569ae 554px,#296db1 617px,#3d7ebc 620px,#3f7fbd 635px,#3274b5 639px,#397ab9 706px,#3f7fbc 713px)"></i>
<i style="background:linear-gradient(90deg,#2d70b3 0,#2b6eb1 19px,#266aaf 26px,#2f72b4 31px,#3476b7 38px,#3476b6 76px,#2469ae 124px,#3275b6 163px,#5894c9 225px,#7caed6 268px,#639ccd 313px,#5994c9 343px,#3c7dbb 408px,#3073b4 487px,#3577b7 496px,#3174b5 521px,#2b6eb1 526px,#2d70b3 533px,#3274b5 540px,#3073b5 550px,#2569ae 554px,#296db1 617px,#3d7ebc 620px,#3f7fbc 635px,#3174b5 639px,#397ab9 706px,#3e7fbc 713px)"></i>
<i style="background:linear-gradient(90deg,#2d70b3 0,#2a6eb1 19px,#256aae 26px,#2f71b4 31px,#3476b7 38px,#3375b6 76px,#2469ae 124px,#3274b5 163px,#5994c9 226px,#7baed6 268px,#639ccd 313px,#5994c9 342px,#3c7dbb 407px,#2f72b4 486px,#3577b7 496px,#3173b5 521px,#2b6eb1 526px,#2d70b3 533px,#3274b5 540px,#3073b4 550px,#2469ae 554px,#296db1 617px,#3d7ebc 620px,#3f7fbc 635px,#3174b5 639px,#397ab9 706px,#3e7fbc 713px)"></i>
<i style="background:linear-gradient(90deg,#2d70b2 0,#2a6eb1 19px,#2569ae 26px,#2e71b3 31px,#3476b7 39px,#3375b6 76px,#2469ae 125px,#3274b5 163px,#5894c9 226px,#7baed6 268px,#639ccd 313px,#5994c9 341px,#3d7dbb 406px,#2f72b4 481px,#3476b7 503px,#3173b5 521px,#2a6eb1 526px,#2d70b3 533px,#3274b5 540px,#3073b4 550px,#2469ae 554px,#296db0 617px,#3d7dbb 620px,#3e7fbc 635px,#3174b5 639px,#397ab9 706px,#3e7fbc 713px)"></i>
<i style="background:linear-gradient(90deg,#2c70b2 0,#2a6db1 19px,#2569ae 26px,#2e71b3 31px,#3476b6 39px,#3375b6 76px,#2468ae 125px,#3274b5 163px,#5994c9 227px,#7aadd6 268px,#629bcd 313px,#5994c9 341px,#3c7dbb 408px,#3072b4 487px,#3476b7 496px,#3173b5 521px,#2a6eb1 526px,#2d70b2 533px,#3174b5 540px,#3073b4 550px,#2469ae 554px,#296db0 617px,#3d7dbb 620px,#3e7fbc 635px,#3174b5 639px,#387ab9 706px,#3e7fbc 713px)"></i>
<i style="background:linear-gradient(90deg,#2c6fb2 0,#2a6db1 19px,#2569ae 26px,#2e71b3 31px,#3376b6 39px,#3375b6 76px,#2468ad 125px,#3174b5 163px,#5894c9 227px,#7aadd6 268px,#629bcd 312px,#5a95c9 339px,#3d7ebc 403px,#3274b5 459px,#3173b5 488px,#3476b7 504px,#3173b5 521px,#2a6eb1 526px,#2d70b2 533px,#3174b5 540px,#3073b4 550px,#2469ae 554px,#296db0 617px,#3d7dbb 620px,#3e7fbc 635px,#3173b5 639px,#387ab9 706px,#3e7ebc 713px)"></i>
<i style="background:linear-gradient(90deg,#2c6fb2 0,#296db1 19px,#2469ae 26px,#2e71b3 31px,#3375b6 39px,#3275b6 76px,#2368ad 125px,#3174b5 163px,#5894c9 227px,#79add5 268px,#629bcc 312px,#5a95ca 338px,#3e7ebc 402px,#3274b5 456px,#3173b5 488px,#3476b7 504px,#3073b5 521px,#2a6eb1 526px,#2c70b2 533px,#3174b5 540px,#3072b4 550px,#2469ae 554px,#296cb0 617px,#3c7dbb 620px,#3e7fbc 635px,#3173b5 639px,#387ab9 706px,#3e7ebc 713px)"></i>
<i style="background:linear-gradient(90deg,#2c6fb2 0,#296db0 19px,#2469ae 26px,#2d70b3 31px,#3375b6 39px,#3274b5 76px,#2368ad 125px,#3173b5 163px,#5894c9 228px,#79acd5 268px,#619acc 312px,#5a95ca 338px,#3d7dbb 404px,#3173b5 464px,#3073b5 488px,#3476b6 504px,#3073b5 521px,#2a6eb1 526px,#2c70b2 533px,#3174b5 540px,#3072b4 550px,#2468ae 554px,#286cb0 617px,#3c7dbb 620px,#3e7ebc 635px,#3173b5 639px,#387ab9 706px,#3e7ebc 713px)"></i>
<i style="background:linear-gradient(90deg,#2b6fb2 0,#296db0 19px,#2468ae 26px,#2d70b3 31px,#3375b6 39px,#3274b5 76px,#2368ad 125px,#3173b5 163px,#5894c9 228px,#79acd5 268px,#619acc 312px,#5a95ca 337px,#3d7ebc 403px,#3174b5 459px,#3073b5 488px,#3476b6 504px,#3073b4 521px,#2a6db1 526px,#2c6fb2 533px,#3174b5 540px,#2f72b4 550px,#2468ae 554px,#286cb0 617px,#3c7dbb 620px,#3e7ebc 635px,#3173b5 639px,#3879b9 706px,#3e7ebc 713px)"></i>
<i style="background:linear-gradient(90deg,#2b6fb2 0,#296cb0 19px,#2468ad 26px,#2d70b3 31px,#3275b6 39px,#3274b5 76px,#2367ad 125px,#3073b5 163px,#5893c9 228px,#78acd5 268px,#609acc 312px,#5a95ca 337px,#3c7dbb 405px,#3072b4 471px,#3073b4 488px,#3476b6 504px,#3073b4 521px,#2a6db1 526px,#2c6fb2 533px,#3173b5 540px,#2f72b4 550px,#2468ad 554px,#286cb0 617px,#3c7dbb 620px,#3e7ebc 635px,#3073b5 639px,#3879b9 706px,#3d7ebc 713px)"></i>
<i style="background:linear-gradient(90deg,#2b6eb1 0,#286cb0 19px,#2368ad 26px,#2d70b2 31px,#3274b6 39px,#3174b5 76px,#2267ad 125px,#3073b4 163px,#5894c9 229px,#78abd5 268px,#609acc 312px,#5a95c9 337px,#3b7cbb 407px,#2e71b3 486px,#3476b6 497px,#3073b4 521px,#2a6db1 526px,#2c6fb2 533px,#3173b5 540px,#2f72b4 550px,#2368ad 554px,#286cb0 617px,#3c7dbb 620px,#3e7ebc 635px,#3073b5 639px,#3879b9 706px,#3d7ebc 713px)"></i>
<i style="background:linear-gradient(90deg,#2b6eb1 0,#286cb0 19px,#2368ad 26px,#2c70b2 31px,#3274b5 39px,#3174b5 76px,#2267ad 125px,#3073b4 163px,#5893c9 229px,#77abd5 268px,#6099cc 312px,#5a95ca 336px,#3c7cbb 406px,#2e71b3 481px,#3376b6 503px,#3073b4 521px,#296db1 526px,#2c6fb2 533px,#3173b5 540px,#2f72b4 550px,#2368ad 554px,#286cb0 617px,#3c7dbb 620px,#3d7ebc 635px,#3073b4 639px,#3879b9 706px,#3d7ebc 713px)"></i>
<i style="height:2px;background:linear-gradient(90deg,#2a6eb1 0,#286cb0 19px,#2368ad 26px,#2c6fb2 31px,#3274b5 39px,#3173b5 76px,#2267ad 125px,#3072b4 163px,#5793c9 229px,#77abd4 268px,#5f99cc 312px,#5a95ca 336px,#3b7cba 408px,#2f71b4 487px,#3376b6 496px,#3072b4 521px,#296db1 526px,#2c6fb2 533px,#3173b5 540px,#2f72b4 550px,#2368ad 554px,#286cb0 617px,#3c7dbb 620px,#3d7ebc 635px,#3073b4 639px,#3879b9 706px,#3d7ebc 713px)"></i>
</div>
<svg width="2000" height="2028" viewBox="0 0 2000 2028" font-family='"Liberation Sans", Arial, Helvetica, sans-serif' fill="#000">
<text x="9.0" y="24.8" font-size="31" font-weight="bold">a</text>
<text x="152.1" y="31.5" font-size="29">Temperature (°C)</text>
<rect x="142.5" y="72.6" width="9.1" height="4.6" fill="#000"/>
<text x="107.2" y="85.1" font-size="29">0</text>
<rect x="142.5" y="185.5" width="9.1" height="4.6" fill="#000"/>
<text x="41.8" y="198.0" font-size="29">−1000</text>
<rect x="142.5" y="302.7" width="9.1" height="4.6" fill="#000"/>
<text x="41.8" y="315.2" font-size="29">−2000</text>
<rect x="142.5" y="419.6" width="9.1" height="4.6" fill="#000"/>
<text x="41.8" y="432.1" font-size="29">−3000</text>
<rect x="142.5" y="532.7" width="9.1" height="4.6" fill="#000"/>
<text x="41.8" y="545.2" font-size="29">−4000</text>
<rect x="252.0" y="538.9" width="4.7" height="8.8" fill="#000"/>
<text x="225.1" y="584.2" font-size="29">−60</text>
<rect x="457.8" y="538.9" width="4.7" height="8.8" fill="#000"/>
<text x="430.5" y="584.2" font-size="29">−40</text>
<rect x="667.2" y="538.9" width="4.7" height="8.8" fill="#000"/>
<text x="640.6" y="584.2" font-size="29">−20</text>
<rect x="877.2" y="538.9" width="4.7" height="8.8" fill="#000"/>
<text x="866.9" y="584.2" font-size="29">0</text>
<text x="26.7" y="392.2" font-size="29.7" transform="rotate(-90 26.7 392.2)">Depth (m)</text>
<rect x="908.6" y="218.4" width="42.9" height="14.7" fill="#B2182B"/>
<rect x="908.6" y="232.5" width="42.9" height="14.7" fill="#C0272D"/>
<rect x="908.6" y="246.5" width="42.9" height="14.7" fill="#CA4134"/>
<rect x="908.6" y="260.6" width="42.9" height="14.7" fill="#D35B48"/>
<rect x="908.6" y="274.6" width="42.9" height="14.7" fill="#DE6E55"/>
<rect x="908.6" y="288.7" width="42.9" height="14.7" fill="#E6805F"/>
<rect x="908.6" y="302.7" width="42.9" height="14.7" fill="#F08D66"/>
<rect x="908.6" y="316.8" width="42.9" height="14.7" fill="#F09B7A"/>
<rect x="908.6" y="330.8" width="42.9" height="14.7" fill="#F6B093"/>
<rect x="908.6" y="344.9" width="42.9" height="14.7" fill="#FDD5C3"/>
<rect x="908.6" y="358.9" width="42.9" height="14.7" fill="#EFE0D9"/>
<rect x="908.6" y="373.0" width="42.9" height="14.7" fill="#DAE3EC"/>
<rect x="908.6" y="387.0" width="42.9" height="14.7" fill="#A9CDE4"/>
<rect x="908.6" y="401.1" width="42.9" height="14.7" fill="#6AAAD2"/>
<rect x="908.6" y="415.1" width="42.9" height="14.7" fill="#4782BF"/>
<rect x="908.6" y="280.0" width="8.6" height="2.0" fill="#fff"/>
<rect x="942.9" y="280.0" width="8.6" height="2.0" fill="#fff"/>
<rect x="908.6" y="351.5" width="8.6" height="2.0" fill="#fff"/>
<rect x="942.9" y="351.5" width="8.6" height="2.0" fill="#fff"/>
<rect x="908.6" y="423.2" width="8.6" height="2.0" fill="#fff"/>
<rect x="942.9" y="423.2" width="8.6" height="2.0" fill="#fff"/>
<text x="962.9" y="295.5" font-size="28.5">20</text>
<text x="962.2" y="366.3" font-size="28.5">10</text>
<text x="967.4" y="438.6" font-size="28.5">0</text>
<text x="1015.2" y="26.8" font-size="31" font-weight="bold" textLength="22.2" lengthAdjust="spacingAndGlyphs">b</text>
<text x="1139.3" y="33.5" font-size="29">Salinity (‰)</text>
<rect x="1130.5" y="68.7" width="9.3" height="4.6" fill="#000"/>
<text x="1094.1" y="81.2" font-size="29">0</text>
<rect x="1130.5" y="185.7" width="9.3" height="4.6" fill="#000"/>
<text x="1028.7" y="198.2" font-size="29">−1000</text>
<rect x="1130.5" y="302.7" width="9.3" height="4.6" fill="#000"/>
<text x="1028.7" y="315.2" font-size="29">−2000</text>
<rect x="1130.5" y="419.7" width="9.3" height="4.6" fill="#000"/>
<text x="1028.7" y="432.2" font-size="29">−3000</text>
<rect x="1130.5" y="536.6" width="9.3" height="4.6" fill="#000"/>
<text x="1028.7" y="549.1" font-size="29">−4000</text>
<rect x="1236.7" y="539.3" width="4.7" height="8.0" fill="#000"/>
<text x="1209.6" y="584.0" font-size="29">−60</text>
<rect x="1439.2" y="539.3" width="4.7" height="8.0" fill="#000"/>
<text x="1412.2" y="584.0" font-size="29">−40</text>
<rect x="1646.1" y="539.3" width="4.7" height="8.0" fill="#000"/>
<text x="1618.9" y="584.0" font-size="29">−20</text>
<rect x="1853.1" y="539.3" width="4.7" height="8.0" fill="#000"/>
<text x="1842.9" y="584.0" font-size="29">0</text>
<rect x="1888.9" y="219.6" width="41.8" height="10.6" fill="#B51D2D"/>
<rect x="1888.9" y="229.6" width="41.8" height="10.6" fill="#C8433A"/>
<rect x="1888.9" y="239.5" width="41.8" height="10.6" fill="#D85F4B"/>
<rect x="1888.9" y="249.5" width="41.8" height="10.6" fill="#E5775A"/>
<rect x="1888.9" y="259.4" width="41.8" height="10.6" fill="#EE8C69"/>
<rect x="1888.9" y="269.4" width="41.8" height="10.6" fill="#F5A385"/>
<rect x="1888.9" y="279.3" width="41.8" height="10.6" fill="#F8B89C"/>
<rect x="1888.9" y="289.3" width="41.8" height="10.6" fill="#FACBB5"/>
<rect x="1888.9" y="299.3" width="41.8" height="10.6" fill="#F8DCCD"/>
<rect x="1888.9" y="309.2" width="41.8" height="10.6" fill="#EFDFD7"/>
<rect x="1888.9" y="319.2" width="41.8" height="10.6" fill="#E6E1E0"/>
<rect x="1888.9" y="329.1" width="41.8" height="10.6" fill="#E0E3E7"/>
<rect x="1888.9" y="339.1" width="41.8" height="10.6" fill="#D3E4EF"/>
<rect x="1888.9" y="349.0" width="41.8" height="10.6" fill="#BDD8EA"/>
<rect x="1888.9" y="359.0" width="41.8" height="10.6" fill="#A3CBE4"/>
<rect x="1888.9" y="369.0" width="41.8" height="10.6" fill="#88BADB"/>
<rect x="1888.9" y="378.9" width="41.8" height="10.6" fill="#6DAAD3"/>
<rect x="1888.9" y="388.9" width="41.8" height="10.6" fill="#5B9BCB"/>
<rect x="1888.9" y="398.8" width="41.8" height="10.6" fill="#4A88C2"/>
<rect x="1888.9" y="408.8" width="41.8" height="10.6" fill="#3C78B9"/>
<rect x="1888.9" y="418.7" width="41.8" height="10.6" fill="#2B6AB0"/>
<rect x="1888.9" y="253.7" width="8.4" height="2.0" fill="#fff"/>
<rect x="1922.3" y="253.7" width="8.4" height="2.0" fill="#fff"/>
<rect x="1888.9" y="303.2" width="8.4" height="2.0" fill="#fff"/>
<rect x="1922.3" y="303.2" width="8.4" height="2.0" fill="#fff"/>
<rect x="1888.9" y="353.1" width="8.4" height="2.0" fill="#fff"/>
<rect x="1922.3" y="353.1" width="8.4" height="2.0" fill="#fff"/>
<rect x="1888.9" y="402.8" width="8.4" height="2.0" fill="#fff"/>
<rect x="1922.3" y="402.8" width="8.4" height="2.0" fill="#fff"/>
<text x="1943.5" y="265.0" font-size="28.5">35.5</text>
<text x="1943.5" y="314.5" font-size="28.5">35.0</text>
<text x="1943.5" y="364.4" font-size="28.5">34.5</text>
<text x="1943.5" y="414.1" font-size="28.5">34.0</text>
<text x="1298.0" y="97.0" font-size="20.9">Antarctic</text>
<text x="1279.1" y="121.7" font-size="20.9">Intermediate</text>
<text x="1313.7" y="146.6" font-size="20.9">Water</text>
<text x="1418.4" y="137.7" font-size="20.9">Subantarctic</text>
<text x="1421.6" y="162.4" font-size="20.9">Mode Water</text>
<text x="1534.9" y="97.0" font-size="20.9">Western South Pacific</text>
<text x="1572.6" y="121.7" font-size="20.9">Central Water</text>
<text x="1176.2" y="323.5" font-size="20.9">Antarctic</text>
<text x="1182.5" y="348.7" font-size="20.9">Bottom</text>
<text x="1192.9" y="373.5" font-size="20.9">Water</text>
<text x="1374.7" y="337.1" font-size="20.9">North Atlantic</text>
<text x="1385.2" y="361.9" font-size="20.9">Deep Water</text>
<path d="M1366.3,161.3L1390.0,186.3M1378.4,182.1L1390.0,186.3L1386.4,174.5" stroke="#000" stroke-width="2" fill="none" stroke-linecap="round" stroke-linejoin="miter"/>
<path d="M1174.1,265.1L1188.8,297.2M1179.2,289.5L1188.8,297.2L1189.2,284.9" stroke="#000" stroke-width="2" fill="none" stroke-linecap="round" stroke-linejoin="miter"/>
<path d="M1360.0,305.0L1331.6,274.1M1343.1,278.5L1331.6,274.1L1335.0,285.9" stroke="#000" stroke-width="2" fill="none" stroke-linecap="round" stroke-linejoin="miter"/>
<text x="3.8" y="642.0" font-size="31" font-weight="bold" textLength="19.3" lengthAdjust="spacingAndGlyphs">c</text>
<text x="146.7" y="647.9" font-size="29">Oxygen (ml/l)</text>
<rect x="137.9" y="670.7" width="9.0" height="4.6" fill="#000"/>
<text x="101.5" y="683.2" font-size="29">0</text>
<rect x="137.9" y="787.3" width="9.0" height="4.6" fill="#000"/>
<text x="36.1" y="799.8" font-size="29">−1000</text>
<rect x="137.9" y="904.0" width="9.0" height="4.6" fill="#000"/>
<text x="36.1" y="916.5" font-size="29">−2000</text>
<rect x="137.9" y="1021.3" width="9.0" height="4.6" fill="#000"/>
<text x="36.1" y="1033.8" font-size="29">−3000</text>
<rect x="137.9" y="1138.7" width="9.0" height="4.6" fill="#000"/>
<text x="36.1" y="1151.2" font-size="29">−4000</text>
<rect x="249.7" y="1141.0" width="4.7" height="8.3" fill="#000"/>
<text x="222.6" y="1185.6" font-size="29">−60</text>
<rect x="459.6" y="1141.0" width="4.7" height="8.3" fill="#000"/>
<text x="432.6" y="1185.6" font-size="29">−40</text>
<rect x="670.0" y="1141.0" width="4.7" height="8.3" fill="#000"/>
<text x="643.4" y="1185.6" font-size="29">−20</text>
<rect x="880.2" y="1141.0" width="4.7" height="8.3" fill="#000"/>
<text x="870.2" y="1185.6" font-size="29">0</text>
<text x="425.0" y="1233.6" font-size="29">Latitude</text>
<text x="22.5" y="985.6" font-size="29.7" transform="rotate(-90 22.5 985.6)">Depth (m)</text>
<rect x="920.5" y="821.7" width="41.6" height="15.5" fill="#C8373A"/>
<rect x="920.5" y="836.6" width="41.6" height="15.5" fill="#DB6550"/>
<rect x="920.5" y="851.5" width="41.6" height="15.5" fill="#EE8A65"/>
<rect x="920.5" y="866.4" width="41.6" height="15.5" fill="#F6A583"/>
<rect x="920.5" y="881.3" width="41.6" height="15.5" fill="#F9C2A8"/>
<rect x="920.5" y="896.2" width="41.6" height="15.5" fill="#FCDCCB"/>
<rect x="920.5" y="911.1" width="41.6" height="15.5" fill="#F2E3DB"/>
<rect x="920.5" y="926.1" width="41.6" height="15.5" fill="#E4E4E4"/>
<rect x="920.5" y="941.0" width="41.6" height="15.5" fill="#D6E6F1"/>
<rect x="920.5" y="955.9" width="41.6" height="15.5" fill="#ACCEE4"/>
<rect x="920.5" y="970.8" width="41.6" height="15.5" fill="#86B9DA"/>
<rect x="920.5" y="985.7" width="41.6" height="15.5" fill="#5FA3CF"/>
<rect x="920.5" y="1000.6" width="41.6" height="15.5" fill="#4A87C0"/>
<rect x="920.5" y="1015.5" width="41.6" height="15.5" fill="#3A75B8"/>
<rect x="920.5" y="825.3" width="8.3" height="2.0" fill="#fff"/>
<rect x="953.8" y="825.3" width="8.3" height="2.0" fill="#fff"/>
<rect x="920.5" y="886.6" width="8.3" height="2.0" fill="#fff"/>
<rect x="953.8" y="886.6" width="8.3" height="2.0" fill="#fff"/>
<rect x="920.5" y="947.7" width="8.3" height="2.0" fill="#fff"/>
<rect x="953.8" y="947.7" width="8.3" height="2.0" fill="#fff"/>
<rect x="920.5" y="1009.0" width="8.3" height="2.0" fill="#fff"/>
<rect x="953.8" y="1009.0" width="8.3" height="2.0" fill="#fff"/>
<text x="974.7" y="836.6" font-size="28.5">8</text>
<text x="974.6" y="897.9" font-size="28.5">6</text>
<text x="975.4" y="959.0" font-size="28.5">4</text>
<text x="974.6" y="1020.3" font-size="28.5">2</text>
<text x="1011.1" y="643.0" font-size="31" font-weight="bold" textLength="22.2" lengthAdjust="spacingAndGlyphs">d</text>
<text x="1134.7" y="647.9" font-size="29">Organic carbon flux (gC/m2year)</text>
<rect x="1126.0" y="670.7" width="9.0" height="4.6" fill="#000"/>
<text x="1092.6" y="683.2" font-size="29">0</text>
<rect x="1126.0" y="787.3" width="9.0" height="4.6" fill="#000"/>
<text x="1027.2" y="799.8" font-size="29">−1000</text>
<rect x="1126.0" y="904.0" width="9.0" height="4.6" fill="#000"/>
<text x="1027.2" y="916.5" font-size="29">−2000</text>
<rect x="1126.0" y="1021.3" width="9.0" height="4.6" fill="#000"/>
<text x="1027.2" y="1033.8" font-size="29">−3000</text>
<rect x="1126.0" y="1138.7" width="9.0" height="4.6" fill="#000"/>
<text x="1027.2" y="1151.2" font-size="29">−4000</text>
<rect x="1235.2" y="1141.2" width="4.7" height="7.8" fill="#000"/>
<text x="1208.2" y="1185.8" font-size="29">−60</text>
<rect x="1440.7" y="1141.2" width="4.7" height="7.8" fill="#000"/>
<text x="1413.7" y="1185.8" font-size="29">−40</text>
<rect x="1646.5" y="1141.2" width="4.7" height="7.8" fill="#000"/>
<text x="1619.5" y="1185.8" font-size="29">−20</text>
<rect x="1852.0" y="1141.2" width="4.7" height="7.8" fill="#000"/>
<text x="1841.9" y="1185.8" font-size="29">0</text>
<text x="1413.2" y="1238.0" font-size="29">Latitude</text>
<rect x="1884.0" y="822.1" width="40.8" height="15.4" fill="#BE2A30"/>
<rect x="1884.0" y="836.9" width="40.8" height="15.4" fill="#D0503F"/>
<rect x="1884.0" y="851.6" width="40.8" height="15.4" fill="#E06A50"/>
<rect x="1884.0" y="866.4" width="40.8" height="15.4" fill="#EE8A66"/>
<rect x="1884.0" y="881.2" width="40.8" height="15.4" fill="#F4A282"/>
<rect x="1884.0" y="896.0" width="40.8" height="15.4" fill="#F6B396"/>
<rect x="1884.0" y="910.7" width="40.8" height="15.4" fill="#F9C6AE"/>
<rect x="1884.0" y="925.5" width="40.8" height="15.4" fill="#FBD8C4"/>
<rect x="1884.0" y="940.3" width="40.8" height="15.4" fill="#F3E1D8"/>
<rect x="1884.0" y="955.0" width="40.8" height="15.4" fill="#EBE0DB"/>
<rect x="1884.0" y="969.8" width="40.8" height="15.4" fill="#E1E3E7"/>
<rect x="1884.0" y="984.6" width="40.8" height="15.4" fill="#C2DBEE"/>
<rect x="1884.0" y="999.4" width="40.8" height="15.4" fill="#93C0DF"/>
<rect x="1884.0" y="1014.1" width="40.8" height="15.4" fill="#4E8CC5"/>
<rect x="1884.0" y="887.0" width="8.2" height="2.0" fill="#fff"/>
<rect x="1916.6" y="887.0" width="8.2" height="2.0" fill="#fff"/>
<rect x="1884.0" y="962.7" width="8.2" height="2.0" fill="#fff"/>
<rect x="1916.6" y="962.7" width="8.2" height="2.0" fill="#fff"/>
<text x="1934.7" y="898.1" font-size="28.5">10</text>
<text x="1938.8" y="974.4" font-size="28.5">5</text>
<defs>
<pattern id="pB" patternUnits="userSpaceOnUse" width="8.26" height="8.26"><rect width="9" height="9" fill="#fff"/><path d="M-1,1.26 L1.26,-1 M0,8.26 L8.26,0 M7,9.52 L9.52,7" stroke="#1010d8" stroke-width="1.3"/></pattern>
<pattern id="pR" patternUnits="userSpaceOnUse" width="8.26" height="8.26"><rect width="9" height="9" fill="#fff"/><path d="M-1,7 L1.26,9.26 M0,0 L8.26,8.26 M7,-1 L9.26,1.26" stroke="#e01010" stroke-width="1.3"/></pattern>
<pattern id="pG" patternUnits="userSpaceOnUse" width="8.3" height="8.3"><rect width="9" height="9" fill="#fff"/><rect x="3.4" y="0" width="1.6" height="9" fill="#0a7a0a"/></pattern>
<pattern id="pM" patternUnits="userSpaceOnUse" width="8.3" height="8.3" patternTransform="translate(0,1.4)"><rect width="9" height="9" fill="#fff"/><rect x="0" y="0" width="9" height="1.9" fill="#f010f0"/></pattern>
<pattern id="pK" patternUnits="userSpaceOnUse" width="8.3" height="8.3" patternTransform="translate(1.0,1.4)"><rect width="9" height="9" fill="#fff"/><rect x="0" y="0" width="9" height="2.0" fill="#000"/><rect x="0" y="0" width="2.0" height="9" fill="#000"/></pattern>
<pattern id="pY" patternUnits="userSpaceOnUse" width="6" height="6"><rect width="6" height="6" fill="#f0f045"/><circle cx="3" cy="3" r="1.7" fill="#fbfbd2"/></pattern>
</defs>
<text x="126.2" y="1364.5" font-size="31" font-weight="bold" textLength="19.0" lengthAdjust="spacingAndGlyphs">e</text>
<text x="191.9" y="1364.5" font-size="29">Area per depth strata</text>
<text x="540.0" y="1935.2" font-size="29.3">0</text>
<text x="504.2" y="1830.8" font-size="29.3">2E5</text>
<text x="504.2" y="1726.4" font-size="29.3">4E5</text>
<text x="504.2" y="1622.0" font-size="29.3">6E5</text>
<text x="504.2" y="1517.6" font-size="29.3">8E5</text>
<text x="504.2" y="1413.2" font-size="29.3">1E6</text>
<text x="479.9" y="1308.8" font-size="29.3">1.2E6</text>
<text x="556.9" y="1969.2" font-size="29.8">-70</text>
<text x="652.7" y="1969.2" font-size="29.8">-60</text>
<text x="760.6" y="1969.2" font-size="29.8">-50</text>
<text x="868.9" y="1969.2" font-size="29.8">-40</text>
<text x="977.9" y="1969.2" font-size="29.8">-30</text>
<text x="1086.1" y="1969.2" font-size="29.8">-20</text>
<text x="1193.7" y="1969.2" font-size="29.8">-10</text>
<text x="1311.7" y="1969.2" font-size="29.8">0</text>
<text x="866.5" y="2019.6" font-size="29">Latitude (°S)</text>
<text x="445.1" y="1693.9" font-size="29.7" transform="rotate(-90 445.1 1693.9)">Area (km2)</text>
<path d="M575.7,1724.3 L588.4,1713.4 L601.0,1702.5 L613.7,1691.7 L626.4,1680.9 L639.0,1670.3 L651.7,1659.7 L664.3,1649.3 L677.0,1639.0 L689.7,1628.7 L702.3,1618.6 L715.0,1608.6 L727.7,1598.8 L740.3,1589.0 L753.0,1579.5 L765.6,1570.0 L778.3,1560.7 L791.0,1551.6 L803.6,1542.6 L816.3,1533.8 L829.0,1525.1 L841.6,1516.6 L854.3,1508.3 L866.9,1500.1 L879.6,1492.2 L892.3,1484.4 L904.9,1476.8 L917.6,1469.4 L930.3,1462.2 L942.9,1455.2 L955.6,1448.4 L968.2,1441.8 L980.9,1435.4 L993.6,1429.3 L1006.2,1423.3 L1018.9,1417.5 L1031.6,1412.0 L1044.2,1406.7 L1056.9,1401.5 L1069.5,1396.7 L1082.2,1392.0 L1094.9,1387.6 L1107.5,1383.3 L1120.2,1379.4 L1132.9,1375.6 L1145.5,1372.1 L1158.2,1368.8 L1170.8,1365.7 L1183.5,1362.9 L1196.2,1360.3 L1208.8,1357.9 L1221.5,1355.7 L1234.2,1353.8 L1246.8,1352.2 L1259.5,1350.7 L1272.1,1349.5 L1284.8,1348.5 L1297.5,1347.8 L1310.1,1347.2 L1322.8,1346.9 L1322.8,1927.0 L575.7,1927.0 Z" fill="url(#pB)"/>
<path d="M575.7,1855.6 L590.0,1833.6 L600.0,1809.7 L607.9,1769.8 L613.9,1729.9 L619.9,1700.0 L623.9,1690.0 L626.0,1682.7 L636.2,1674.1 L646.4,1665.6 L656.6,1657.1 L666.8,1648.7 L677.1,1640.4 L687.3,1632.2 L697.5,1624.0 L707.7,1615.9 L717.9,1607.9 L728.1,1599.9 L738.3,1592.1 L748.5,1584.3 L758.7,1576.6 L768.9,1569.1 L779.2,1561.6 L789.4,1554.2 L799.6,1546.9 L809.8,1539.8 L820.0,1532.7 L853.3,1523.8 L875.2,1513.8 L889.2,1498.8 L897.1,1495.8 L909.1,1505.8 L929.0,1519.8 L940.0,1522.4 L950.2,1534.7 L958.4,1551.1 L966.6,1565.4 L980.9,1612.5 L989.1,1628.0 L1001.4,1634.0 L1021.9,1636.0 L1042.4,1634.0 L1062.8,1624.5 L1083.3,1610.4 L1103.8,1590.0 L1118.1,1555.2 L1134.5,1530.6 L1154.9,1489.7 L1169.3,1452.8 L1181.6,1420.1 L1197.9,1387.3 L1206.1,1375.0 L1212.3,1373.0 L1226.6,1397.6 L1234.8,1426.2 L1247.1,1450.8 L1259.3,1441.6 L1267.5,1438.5 L1277.8,1448.7 L1288.0,1477.4 L1292.1,1487.6 L1304.4,1473.3 L1314.6,1461.0 L1322.8,1444.6 L1322.8,1927.0 L575.7,1927.0 Z" fill="url(#pR)"/>
<path d="M575.7,1857.1 L590.0,1835.1 L600.0,1811.2 L607.9,1771.3 L613.9,1731.4 L619.9,1701.5 L623.9,1691.5 L626.0,1684.2 L635.4,1676.3 L644.8,1668.4 L654.3,1660.6 L663.7,1652.8 L673.1,1645.1 L682.5,1637.5 L691.9,1629.9 L701.4,1622.4 L710.8,1614.9 L720.2,1607.5 L729.6,1600.2 L739.1,1593.0 L748.5,1585.8 L757.9,1578.8 L767.3,1571.8 L776.7,1564.9 L786.2,1558.0 L795.6,1551.3 L805.0,1544.6 L819.4,1541.7 L840.0,1543.0 L859.3,1543.7 L869.2,1536.0 L900.0,1535.0 L930.0,1535.0 L940.0,1549.0 L950.2,1555.0 L960.5,1575.6 L970.7,1596.1 L980.9,1616.6 L991.2,1637.0 L1001.4,1642.5 L1021.9,1644.6 L1042.4,1642.5 L1062.8,1636.4 L1073.0,1631.0 L1093.5,1616.6 L1114.0,1585.9 L1134.5,1561.3 L1154.9,1534.7 L1175.4,1506.0 L1185.6,1493.8 L1206.1,1492.7 L1226.6,1493.8 L1232.7,1514.2 L1236.8,1526.5 L1247.1,1518.3 L1257.3,1532.7 L1271.6,1551.1 L1288.0,1561.3 L1298.2,1551.1 L1312.6,1526.5 L1322.8,1510.1 L1322.8,1927.0 L575.7,1927.0 Z" fill="url(#pG)"/>
<path d="M575.7,1869.5 L592.0,1857.6 L603.9,1847.6 L609.9,1829.6 L615.9,1801.7 L621.9,1769.8 L625.9,1739.9 L629.8,1710.0 L632.8,1692.0 L637.4,1689.0 L649.0,1663.8 L664.7,1650.5 L668.5,1647.4 L672.2,1644.4 L676.0,1641.3 L679.7,1638.3 L683.5,1635.2 L687.2,1632.2 L691.0,1629.2 L694.7,1626.2 L698.5,1623.2 L702.2,1620.2 L706.0,1617.2 L709.6,1611.5 L719.3,1608.0 L733.0,1609.0 L747.5,1614.5 L759.5,1610.5 L779.5,1607.5 L791.4,1612.5 L809.4,1612.5 L815.4,1607.5 L823.3,1581.6 L835.3,1568.6 L843.3,1581.6 L849.3,1601.6 L857.3,1612.5 L865.2,1589.6 L875.2,1563.7 L889.2,1567.6 L901.1,1569.6 L913.1,1587.6 L921.1,1603.5 L929.1,1591.6 L935.0,1589.6 L941.0,1603.5 L945.0,1630.0 L948.2,1661.0 L956.4,1679.4 L964.6,1695.7 L972.8,1693.7 L1001.4,1689.6 L1021.9,1687.6 L1034.2,1687.6 L1042.4,1691.6 L1052.6,1703.9 L1062.8,1701.9 L1083.3,1699.8 L1093.5,1708.0 L1103.8,1706.0 L1114.0,1687.6 L1124.2,1671.2 L1134.5,1654.8 L1144.7,1644.6 L1150.8,1635.0 L1155.0,1620.0 L1161.1,1596.1 L1173.4,1555.2 L1183.6,1540.8 L1193.8,1536.8 L1204.1,1555.2 L1212.3,1575.6 L1216.4,1581.8 L1224.5,1581.8 L1230.7,1606.4 L1235.8,1630.9 L1240.9,1616.6 L1245.0,1596.1 L1253.2,1596.1 L1259.3,1612.5 L1265.5,1630.0 L1271.6,1644.6 L1279.8,1663.0 L1288.0,1663.0 L1298.2,1654.8 L1308.5,1644.6 L1314.6,1630.0 L1318.7,1596.1 L1322.8,1559.3 L1322.8,1927.0 L575.7,1927.0 Z" fill="url(#pM)"/>
<path d="M575.7,1899.5 L590.0,1904.4 L601.9,1906.4 L619.9,1919.4 L627.8,1907.4 L631.8,1879.5 L635.8,1849.6 L639.8,1809.7 L643.8,1779.8 L647.8,1755.8 L651.8,1735.9 L657.8,1719.9 L665.8,1706.0 L675.7,1687.3 L689.7,1669.4 L705.6,1657.4 L719.6,1645.4 L729.6,1645.4 L738.2,1651.0 L743.5,1655.4 L755.5,1669.4 L767.5,1689.3 L777.5,1716.0 L785.4,1731.9 L793.4,1721.9 L799.4,1700.0 L809.4,1679.4 L821.3,1645.4 L829.3,1629.5 L837.3,1624.5 L845.3,1631.5 L853.3,1639.5 L863.2,1639.5 L873.2,1633.5 L881.2,1617.5 L891.2,1605.5 L905.1,1609.5 L917.1,1617.5 L929.1,1633.5 L937.0,1649.4 L944.1,1681.4 L948.2,1712.1 L952.3,1742.8 L956.4,1763.3 L964.6,1787.9 L970.7,1775.6 L980.9,1759.2 L991.2,1756.1 L999.4,1759.2 L1011.6,1771.5 L1021.9,1777.6 L1032.1,1767.4 L1042.4,1760.2 L1052.6,1769.4 L1062.8,1777.6 L1083.3,1789.9 L1093.5,1804.2 L1103.8,1812.4 L1114.0,1815.5 L1124.2,1804.2 L1134.5,1787.9 L1144.7,1773.5 L1154.9,1746.9 L1165.2,1724.4 L1175.4,1714.2 L1185.6,1706.0 L1193.8,1691.6 L1206.1,1692.7 L1216.4,1689.6 L1226.6,1693.7 L1234.8,1708.0 L1240.9,1697.8 L1247.1,1667.1 L1255.2,1673.2 L1259.3,1697.8 L1263.4,1722.4 L1269.6,1753.1 L1277.8,1763.3 L1288.0,1761.2 L1298.2,1742.8 L1308.5,1726.4 L1316.7,1712.1 L1320.8,1691.6 L1322.8,1671.2 L1322.8,1927.0 L575.7,1927.0 Z" fill="url(#pK)"/>
<path d="M930.0,1927.0 L935.0,1925.0 L940.0,1921.0 L960.5,1918.9 L980.9,1919.9 L1001.4,1922.0 L1021.9,1923.0 L1042.4,1925.0 L1062.8,1921.0 L1083.3,1917.9 L1103.8,1916.8 L1124.2,1918.9 L1144.7,1914.8 L1160.1,1909.7 L1175.4,1921.0 L1189.7,1923.0 L1204.1,1914.8 L1216.4,1916.8 L1230.7,1922.0 L1247.1,1921.0 L1259.3,1912.7 L1271.6,1918.9 L1288.0,1923.0 L1302.3,1926.0 L1310.0,1927.0 L1310.0,1924.6 L930.0,1924.6 Z" fill="url(#pY)"/>
<path d="M930.0,1927.0 L935.0,1925.0 L940.0,1921.0 L960.5,1918.9 L980.9,1919.9 L1001.4,1922.0 L1021.9,1923.0 L1042.4,1925.0 L1062.8,1921.0 L1083.3,1917.9 L1103.8,1916.8 L1124.2,1918.9 L1144.7,1914.8 L1160.1,1909.7 L1175.4,1921.0 L1189.7,1923.0 L1204.1,1914.8 L1216.4,1916.8 L1230.7,1922.0 L1247.1,1921.0 L1259.3,1912.7 L1271.6,1918.9 L1288.0,1923.0 L1302.3,1926.0 L1310.0,1927.0" fill="none" stroke="#8a8a7a" stroke-width="1.6"/>
<path d="M575.7,1899.5 L590.0,1904.4 L601.9,1906.4 L619.9,1919.4 L627.8,1907.4 L631.8,1879.5 L635.8,1849.6 L639.8,1809.7 L643.8,1779.8 L647.8,1755.8 L651.8,1735.9 L657.8,1719.9 L665.8,1706.0 L675.7,1687.3 L689.7,1669.4 L705.6,1657.4 L719.6,1645.4 L729.6,1645.4 L738.2,1651.0 L743.5,1655.4 L755.5,1669.4 L767.5,1689.3 L777.5,1716.0 L785.4,1731.9 L793.4,1721.9 L799.4,1700.0 L809.4,1679.4 L821.3,1645.4 L829.3,1629.5 L837.3,1624.5 L845.3,1631.5 L853.3,1639.5 L863.2,1639.5 L873.2,1633.5 L881.2,1617.5 L891.2,1605.5 L905.1,1609.5 L917.1,1617.5 L929.1,1633.5 L937.0,1649.4 L944.1,1681.4 L948.2,1712.1 L952.3,1742.8 L956.4,1763.3 L964.6,1787.9 L970.7,1775.6 L980.9,1759.2 L991.2,1756.1 L999.4,1759.2 L1011.6,1771.5 L1021.9,1777.6 L1032.1,1767.4 L1042.4,1760.2 L1052.6,1769.4 L1062.8,1777.6 L1083.3,1789.9 L1093.5,1804.2 L1103.8,1812.4 L1114.0,1815.5 L1124.2,1804.2 L1134.5,1787.9 L1144.7,1773.5 L1154.9,1746.9 L1165.2,1724.4 L1175.4,1714.2 L1185.6,1706.0 L1193.8,1691.6 L1206.1,1692.7 L1216.4,1689.6 L1226.6,1693.7 L1234.8,1708.0 L1240.9,1697.8 L1247.1,1667.1 L1255.2,1673.2 L1259.3,1697.8 L1263.4,1722.4 L1269.6,1753.1 L1277.8,1763.3 L1288.0,1761.2 L1298.2,1742.8 L1308.5,1726.4 L1316.7,1712.1 L1320.8,1691.6 L1322.8,1671.2" fill="none" stroke="#000" stroke-width="2" stroke-dasharray="5 2.5 1.5 2.5"/>
<path d="M575.7,1869.5 L592.0,1857.6 L603.9,1847.6 L609.9,1829.6 L615.9,1801.7 L621.9,1769.8 L625.9,1739.9 L629.8,1710.0 L632.8,1692.0 L637.4,1689.0 L649.0,1663.8 L664.7,1650.5 L668.5,1647.4 L672.2,1644.4 L676.0,1641.3 L679.7,1638.3 L683.5,1635.2 L687.2,1632.2 L691.0,1629.2 L694.7,1626.2 L698.5,1623.2 L702.2,1620.2 L706.0,1617.2 L709.6,1611.5 L719.3,1608.0 L733.0,1609.0 L747.5,1614.5 L759.5,1610.5 L779.5,1607.5 L791.4,1612.5 L809.4,1612.5 L815.4,1607.5 L823.3,1581.6 L835.3,1568.6 L843.3,1581.6 L849.3,1601.6 L857.3,1612.5 L865.2,1589.6 L875.2,1563.7 L889.2,1567.6 L901.1,1569.6 L913.1,1587.6 L921.1,1603.5 L929.1,1591.6 L935.0,1589.6 L941.0,1603.5 L945.0,1630.0 L948.2,1661.0 L956.4,1679.4 L964.6,1695.7 L972.8,1693.7 L1001.4,1689.6 L1021.9,1687.6 L1034.2,1687.6 L1042.4,1691.6 L1052.6,1703.9 L1062.8,1701.9 L1083.3,1699.8 L1093.5,1708.0 L1103.8,1706.0 L1114.0,1687.6 L1124.2,1671.2 L1134.5,1654.8 L1144.7,1644.6 L1150.8,1635.0 L1155.0,1620.0 L1161.1,1596.1 L1173.4,1555.2 L1183.6,1540.8 L1193.8,1536.8 L1204.1,1555.2 L1212.3,1575.6 L1216.4,1581.8 L1224.5,1581.8 L1230.7,1606.4 L1235.8,1630.9 L1240.9,1616.6 L1245.0,1596.1 L1253.2,1596.1 L1259.3,1612.5 L1265.5,1630.0 L1271.6,1644.6 L1279.8,1663.0 L1288.0,1663.0 L1298.2,1654.8 L1308.5,1644.6 L1314.6,1630.0 L1318.7,1596.1 L1322.8,1559.3" fill="none" stroke="#f010f0" stroke-width="2" stroke-dasharray="8 3"/>
<path d="M575.7,1857.1 L590.0,1835.1 L600.0,1811.2 L607.9,1771.3 L613.9,1731.4 L619.9,1701.5 L623.9,1691.5 L626.0,1684.2 L635.4,1676.3 L644.8,1668.4 L654.3,1660.6 L663.7,1652.8 L673.1,1645.1 L682.5,1637.5 L691.9,1629.9 L701.4,1622.4 L710.8,1614.9 L720.2,1607.5 L729.6,1600.2 L739.1,1593.0 L748.5,1585.8 L757.9,1578.8 L767.3,1571.8 L776.7,1564.9 L786.2,1558.0 L795.6,1551.3 L805.0,1544.6 L819.4,1541.7 L840.0,1543.0 L859.3,1543.7 L869.2,1536.0 L900.0,1535.0 L930.0,1535.0 L940.0,1549.0 L950.2,1555.0 L960.5,1575.6 L970.7,1596.1 L980.9,1616.6 L991.2,1637.0 L1001.4,1642.5 L1021.9,1644.6 L1042.4,1642.5 L1062.8,1636.4 L1073.0,1631.0 L1093.5,1616.6 L1114.0,1585.9 L1134.5,1561.3 L1154.9,1534.7 L1175.4,1506.0 L1185.6,1493.8 L1206.1,1492.7 L1226.6,1493.8 L1232.7,1514.2 L1236.8,1526.5 L1247.1,1518.3 L1257.3,1532.7 L1271.6,1551.1 L1288.0,1561.3 L1298.2,1551.1 L1312.6,1526.5 L1322.8,1510.1" fill="none" stroke="#0a7a0a" stroke-width="1.6" stroke-dasharray="1.5 2.5"/>
<path d="M575.7,1855.6 L590.0,1833.6 L600.0,1809.7 L607.9,1769.8 L613.9,1729.9 L619.9,1700.0 L623.9,1690.0 L626.0,1682.7 L636.2,1674.1 L646.4,1665.6 L656.6,1657.1 L666.8,1648.7 L677.1,1640.4 L687.3,1632.2 L697.5,1624.0 L707.7,1615.9 L717.9,1607.9 L728.1,1599.9 L738.3,1592.1 L748.5,1584.3 L758.7,1576.6 L768.9,1569.1 L779.2,1561.6 L789.4,1554.2 L799.6,1546.9 L809.8,1539.8 L820.0,1532.7 L853.3,1523.8 L875.2,1513.8 L889.2,1498.8 L897.1,1495.8 L909.1,1505.8 L929.0,1519.8 L940.0,1522.4 L950.2,1534.7 L958.4,1551.1 L966.6,1565.4 L980.9,1612.5 L989.1,1628.0 L1001.4,1634.0 L1021.9,1636.0 L1042.4,1634.0 L1062.8,1624.5 L1083.3,1610.4 L1103.8,1590.0 L1118.1,1555.2 L1134.5,1530.6 L1154.9,1489.7 L1169.3,1452.8 L1181.6,1420.1 L1197.9,1387.3 L1206.1,1375.0 L1212.3,1373.0 L1226.6,1397.6 L1234.8,1426.2 L1247.1,1450.8 L1259.3,1441.6 L1267.5,1438.5 L1277.8,1448.7 L1288.0,1477.4 L1292.1,1487.6 L1304.4,1473.3 L1314.6,1461.0 L1322.8,1444.6" fill="none" stroke="#e01010" stroke-width="1.8" stroke-dasharray="1.5 2.5"/>
<path d="M575.7,1724.3 L588.4,1713.4 L601.0,1702.5 L613.7,1691.7 L626.4,1680.9 L639.0,1670.3 L651.7,1659.7 L664.3,1649.3 L677.0,1639.0 L689.7,1628.7 L702.3,1618.6 L715.0,1608.6 L727.7,1598.8 L740.3,1589.0 L753.0,1579.5 L765.6,1570.0 L778.3,1560.7 L791.0,1551.6 L803.6,1542.6 L816.3,1533.8 L829.0,1525.1 L841.6,1516.6 L854.3,1508.3 L866.9,1500.1 L879.6,1492.2 L892.3,1484.4 L904.9,1476.8 L917.6,1469.4 L930.3,1462.2 L942.9,1455.2 L955.6,1448.4 L968.2,1441.8 L980.9,1435.4 L993.6,1429.3 L1006.2,1423.3 L1018.9,1417.5 L1031.6,1412.0 L1044.2,1406.7 L1056.9,1401.5 L1069.5,1396.7 L1082.2,1392.0 L1094.9,1387.6 L1107.5,1383.3 L1120.2,1379.4 L1132.9,1375.6 L1145.5,1372.1 L1158.2,1368.8 L1170.8,1365.7 L1183.5,1362.9 L1196.2,1360.3 L1208.8,1357.9 L1221.5,1355.7 L1234.2,1353.8 L1246.8,1352.2 L1259.5,1350.7 L1272.1,1349.5 L1284.8,1348.5 L1297.5,1347.8 L1310.1,1347.2 L1322.8,1346.9" fill="none" stroke="#1010e0" stroke-width="2.2"/>
<rect x="571.4" y="1302.8" width="755.6" height="624.4" fill="none" stroke="#000" stroke-width="2"/>
<rect x="1323.4" y="1822.0" width="4.0" height="1.6" fill="#000"/>
<rect x="1323.4" y="1717.6" width="4.0" height="1.6" fill="#000"/>
<rect x="1323.4" y="1613.2" width="4.0" height="1.6" fill="#000"/>
<rect x="1323.4" y="1508.8" width="4.0" height="1.6" fill="#000"/>
<rect x="1323.4" y="1404.4" width="4.0" height="1.6" fill="#000"/>
<rect x="1339" y="1862.6" width="2" height="2" fill="#e03030"/>
<rect x="1339" y="1885.5" width="1.5" height="1.5" fill="#a0a0a0"/>
<rect x="1357.6" y="1748.1" width="28.9" height="16.8" fill="url(#pB)" stroke="#1010e0" stroke-width="1.6"/>
<text x="1399.5" y="1763.4" font-size="29">Terrestrial (&gt;=0 m)</text>
<rect x="1357.6" y="1779.9" width="28.9" height="16.8" fill="url(#pR)" stroke="#e01010" stroke-width="1.6"/>
<text x="1398.8" y="1795.2" font-size="29">Sublittoral (0-200 m)</text>
<rect x="1357.6" y="1811.7" width="28.9" height="16.8" fill="url(#pG)" stroke="#0a7a0a" stroke-width="1.6"/>
<text x="1397.9" y="1827.0" font-size="29">Upper bathyal (200-2000 m)</text>
<rect x="1357.6" y="1843.5" width="28.9" height="16.8" fill="url(#pM)" stroke="#f010f0" stroke-width="1.6"/>
<text x="1397.8" y="1858.8" font-size="29">Lower bathyal (2000-3500 m)</text>
<rect x="1357.6" y="1875.3" width="28.9" height="16.8" fill="url(#pK)" stroke="#000" stroke-width="1.6"/>
<text x="1400.1" y="1890.6" font-size="29">Abyssal (3500-6000 m)</text>
<rect x="1356.9" y="1906.4" width="30.3" height="18.2" fill="url(#pY)"/>
<rect x="1356.9" y="1914.6" width="30.3" height="1.6" fill="#8a8a6a"/>
<text x="1397.8" y="1922.4" font-size="29">Hadal (&gt;6000 m)</text>
</svg>
</body></html>
